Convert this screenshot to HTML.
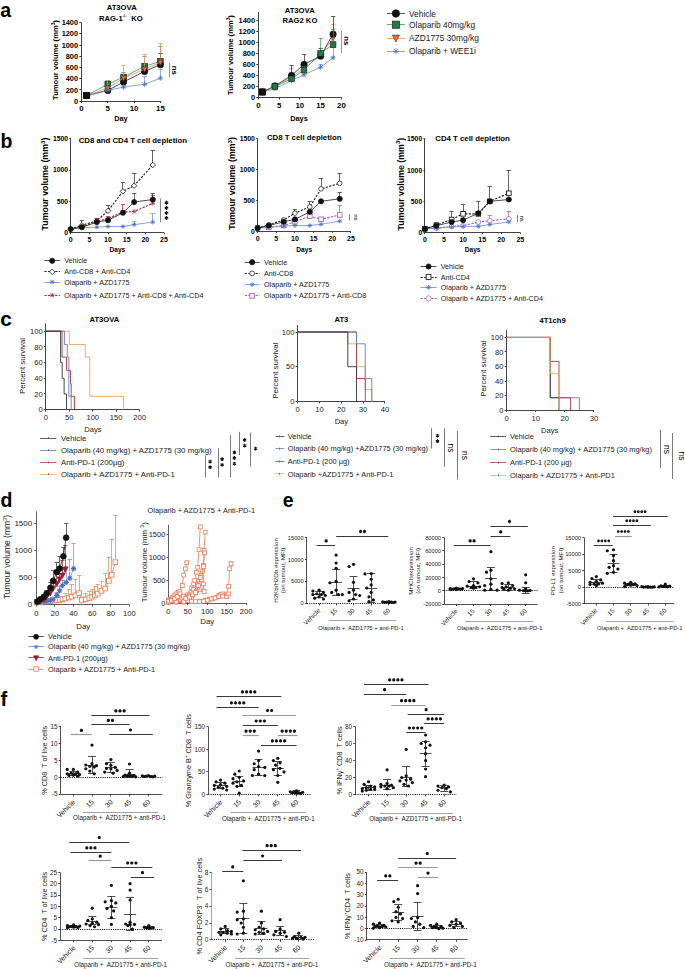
<!DOCTYPE html>
<html><head><meta charset="utf-8"><style>
html,body{margin:0;padding:0;background:#fff;}
svg{display:block;font-family:"Liberation Sans",sans-serif;}
</style></head><body>
<svg width="685" height="969" viewBox="0 0 685 969">
<rect width="685" height="969" fill="#fff"/>
<text x="0.3" y="16.8" font-size="19.5" font-weight="bold">a</text>
<text x="0.5" y="147.6" font-size="19.5" font-weight="bold">b</text>
<text x="0.3" y="326.1" font-size="20.8" font-weight="bold">c</text>
<text x="0.4" y="506.6" font-size="19.5" font-weight="bold">d</text>
<text x="282.8" y="506.7" font-size="19.5" font-weight="bold">e</text>
<text x="0.6" y="705.8" font-size="20.2" font-weight="bold">f</text>
<text x="121.7" y="10.37" font-size="7.7" font-weight="bold" text-anchor="middle">AT3OVA</text>
<text x="99" y="21.04" font-size="7.6" font-weight="bold">RAG-1</text>
<text x="122.3" y="17" font-size="4.3" font-weight="bold">-/-</text>
<text x="142.8" y="21.07" font-size="7.7" font-weight="bold" text-anchor="end">KO</text>
<text x="57.54" y="60" font-size="7.6" font-weight="bold" text-anchor="middle" transform="rotate(-90 57.54 60)">Tumour volume (mm<tspan font-size="4.8" dy="-2.7">3</tspan><tspan dy="2.7">)</tspan></text>
<line x1="81.5" y1="101.1" x2="81.5" y2="22.6" stroke="#111" stroke-width="0.8"/>
<line x1="79.4" y1="101.5" x2="81.4" y2="101.5" stroke="#111" stroke-width="0.8"/>
<text x="78.1" y="103.76" font-size="7.4" font-weight="bold" text-anchor="end">0</text>
<line x1="79.4" y1="89.5" x2="81.4" y2="89.5" stroke="#111" stroke-width="0.8"/>
<text x="78.1" y="92.55" font-size="7.4" font-weight="bold" text-anchor="end">200</text>
<line x1="79.4" y1="78.5" x2="81.4" y2="78.5" stroke="#111" stroke-width="0.8"/>
<text x="78.1" y="81.34" font-size="7.4" font-weight="bold" text-anchor="end">400</text>
<line x1="79.4" y1="67.5" x2="81.4" y2="67.5" stroke="#111" stroke-width="0.8"/>
<text x="78.1" y="70.12" font-size="7.4" font-weight="bold" text-anchor="end">600</text>
<line x1="79.4" y1="56.5" x2="81.4" y2="56.5" stroke="#111" stroke-width="0.8"/>
<text x="78.1" y="58.91" font-size="7.4" font-weight="bold" text-anchor="end">800</text>
<line x1="79.4" y1="45.5" x2="81.4" y2="45.5" stroke="#111" stroke-width="0.8"/>
<text x="78.1" y="47.69" font-size="7.4" font-weight="bold" text-anchor="end">1000</text>
<line x1="79.4" y1="33.5" x2="81.4" y2="33.5" stroke="#111" stroke-width="0.8"/>
<text x="78.1" y="36.48" font-size="7.4" font-weight="bold" text-anchor="end">1200</text>
<line x1="79.4" y1="22.5" x2="81.4" y2="22.5" stroke="#111" stroke-width="0.8"/>
<text x="78.1" y="25.26" font-size="7.4" font-weight="bold" text-anchor="end">1400</text>
<line x1="81.4" y1="101.5" x2="160.4" y2="101.5" stroke="#111" stroke-width="0.8"/>
<line x1="81.5" y1="101.1" x2="81.5" y2="103.1" stroke="#111" stroke-width="0.8"/>
<text x="81.4" y="111.12" font-size="7.8" font-weight="bold" text-anchor="middle">0</text>
<line x1="107.5" y1="101.1" x2="107.5" y2="103.1" stroke="#111" stroke-width="0.8"/>
<text x="107.73" y="111.12" font-size="7.8" font-weight="bold" text-anchor="middle">5</text>
<line x1="134.5" y1="101.1" x2="134.5" y2="103.1" stroke="#111" stroke-width="0.8"/>
<text x="134.07" y="111.12" font-size="7.8" font-weight="bold" text-anchor="middle">10</text>
<line x1="160.5" y1="101.1" x2="160.5" y2="103.1" stroke="#111" stroke-width="0.8"/>
<text x="160.4" y="111.12" font-size="7.8" font-weight="bold" text-anchor="middle">15</text>
<text x="121" y="120.53" font-size="7.3" font-weight="bold" text-anchor="middle">Day</text>
<line x1="107.5" y1="84.28" x2="107.5" y2="80.91" stroke="#3c9a62" stroke-width="0.7"/>
<line x1="105.53" y1="80.5" x2="109.93" y2="80.5" stroke="#3c9a62" stroke-width="0.7"/>
<line x1="123.5" y1="76.99" x2="123.5" y2="72.5" stroke="#3c9a62" stroke-width="0.7"/>
<line x1="121.33" y1="72.5" x2="125.73" y2="72.5" stroke="#3c9a62" stroke-width="0.7"/>
<line x1="144.5" y1="66.34" x2="144.5" y2="56.24" stroke="#3c9a62" stroke-width="0.7"/>
<line x1="142.4" y1="56.5" x2="146.8" y2="56.5" stroke="#3c9a62" stroke-width="0.7"/>
<line x1="160.5" y1="61.29" x2="160.5" y2="46.15" stroke="#3c9a62" stroke-width="0.7"/>
<line x1="158.2" y1="46.5" x2="162.6" y2="46.5" stroke="#3c9a62" stroke-width="0.7"/>
<polyline points="86.67,95.49 107.73,84.28 123.53,76.99 144.6,66.34 160.4,61.29" fill="none" stroke="#3c9a62" stroke-width="0.8"/>
<rect x="83.87" y="92.69" width="5.6" height="5.6" fill="#1a7d45" stroke="#222" stroke-width="0.7"/>
<rect x="104.93" y="81.48" width="5.6" height="5.6" fill="#1a7d45" stroke="#222" stroke-width="0.7"/>
<rect x="120.73" y="74.19" width="5.6" height="5.6" fill="#1a7d45" stroke="#222" stroke-width="0.7"/>
<rect x="141.8" y="63.54" width="5.6" height="5.6" fill="#1a7d45" stroke="#222" stroke-width="0.7"/>
<rect x="157.6" y="58.49" width="5.6" height="5.6" fill="#1a7d45" stroke="#222" stroke-width="0.7"/>
<line x1="107.5" y1="90.45" x2="107.5" y2="88.2" stroke="#222" stroke-width="0.7"/>
<line x1="105.53" y1="88.5" x2="109.93" y2="88.5" stroke="#222" stroke-width="0.7"/>
<line x1="123.5" y1="82.04" x2="123.5" y2="77.55" stroke="#222" stroke-width="0.7"/>
<line x1="121.33" y1="77.5" x2="125.73" y2="77.5" stroke="#222" stroke-width="0.7"/>
<line x1="144.5" y1="71.38" x2="144.5" y2="66.34" stroke="#222" stroke-width="0.7"/>
<line x1="142.4" y1="66.5" x2="146.8" y2="66.5" stroke="#222" stroke-width="0.7"/>
<line x1="160.5" y1="64.65" x2="160.5" y2="53.44" stroke="#222" stroke-width="0.7"/>
<line x1="158.2" y1="53.5" x2="162.6" y2="53.5" stroke="#222" stroke-width="0.7"/>
<polyline points="86.67,95.49 107.73,90.45 123.53,82.04 144.6,71.38 160.4,64.65" fill="none" stroke="#222" stroke-width="0.8"/>
<circle cx="86.67" cy="95.49" r="3.2" fill="#111" stroke="#111" stroke-width="0.7"/>
<circle cx="107.73" cy="90.45" r="3.2" fill="#111" stroke="#111" stroke-width="0.7"/>
<circle cx="123.53" cy="82.04" r="3.2" fill="#111" stroke="#111" stroke-width="0.7"/>
<circle cx="144.6" cy="71.38" r="3.2" fill="#111" stroke="#111" stroke-width="0.7"/>
<circle cx="160.4" cy="64.65" r="3.2" fill="#111" stroke="#111" stroke-width="0.7"/>
<line x1="107.5" y1="88.2" x2="107.5" y2="80.35" stroke="#f38a5c" stroke-width="0.7"/>
<line x1="105.53" y1="80.5" x2="109.93" y2="80.5" stroke="#f38a5c" stroke-width="0.7"/>
<line x1="123.5" y1="78.11" x2="123.5" y2="65.21" stroke="#f38a5c" stroke-width="0.7"/>
<line x1="121.33" y1="65.5" x2="125.73" y2="65.5" stroke="#f38a5c" stroke-width="0.7"/>
<line x1="144.5" y1="69.14" x2="144.5" y2="54.56" stroke="#f38a5c" stroke-width="0.7"/>
<line x1="142.4" y1="54.5" x2="146.8" y2="54.5" stroke="#f38a5c" stroke-width="0.7"/>
<line x1="160.5" y1="62.41" x2="160.5" y2="43.35" stroke="#f38a5c" stroke-width="0.7"/>
<line x1="158.2" y1="43.5" x2="162.6" y2="43.5" stroke="#f38a5c" stroke-width="0.7"/>
<polyline points="86.67,95.49 107.73,88.2 123.53,78.11 144.6,69.14 160.4,62.41" fill="none" stroke="#f38a5c" stroke-width="0.8"/>
<polygon points="83.87,93.25 89.47,93.25 86.67,98.57" fill="#f06a2c" stroke="#333" stroke-width="0.6"/>
<polygon points="104.93,85.96 110.53,85.96 107.73,91.28" fill="#f06a2c" stroke="#333" stroke-width="0.6"/>
<polygon points="120.73,75.87 126.33,75.87 123.53,81.19" fill="#f06a2c" stroke="#333" stroke-width="0.6"/>
<polygon points="141.8,66.9 147.4,66.9 144.6,72.22" fill="#f06a2c" stroke="#333" stroke-width="0.6"/>
<polygon points="157.6,60.17 163.2,60.17 160.4,65.49" fill="#f06a2c" stroke="#333" stroke-width="0.6"/>
<line x1="107.5" y1="90.45" x2="107.5" y2="89.89" stroke="#6b8ad0" stroke-width="0.7"/>
<line x1="105.53" y1="89.5" x2="109.93" y2="89.5" stroke="#6b8ad0" stroke-width="0.7"/>
<line x1="123.5" y1="87.08" x2="123.5" y2="85.4" stroke="#6b8ad0" stroke-width="0.7"/>
<line x1="121.33" y1="85.5" x2="125.73" y2="85.5" stroke="#6b8ad0" stroke-width="0.7"/>
<line x1="144.5" y1="84.28" x2="144.5" y2="76.43" stroke="#6b8ad0" stroke-width="0.7"/>
<line x1="142.4" y1="76.5" x2="146.8" y2="76.5" stroke="#6b8ad0" stroke-width="0.7"/>
<line x1="160.5" y1="78.11" x2="160.5" y2="69.14" stroke="#6b8ad0" stroke-width="0.7"/>
<line x1="158.2" y1="69.5" x2="162.6" y2="69.5" stroke="#6b8ad0" stroke-width="0.7"/>
<polyline points="86.67,95.49 107.73,90.45 123.53,87.08 144.6,84.28 160.4,78.11" fill="none" stroke="#6b8ad0" stroke-width="0.8"/>
<path d="M84.07 95.49H89.27M86.67 92.89V98.09M84.85 93.67L88.49 97.31M84.85 97.31L88.49 93.67" stroke="#4a6fc4" stroke-width="0.8" fill="none"/>
<path d="M105.13 90.45H110.33M107.73 87.85V93.05M105.91 88.63L109.55 92.27M105.91 92.27L109.55 88.63" stroke="#4a6fc4" stroke-width="0.8" fill="none"/>
<path d="M120.93 87.08H126.13M123.53 84.48V89.68M121.71 85.26L125.35 88.9M121.71 88.9L125.35 85.26" stroke="#4a6fc4" stroke-width="0.8" fill="none"/>
<path d="M142 84.28H147.2M144.6 81.68V86.88M142.78 82.46L146.42 86.1M142.78 86.1L146.42 82.46" stroke="#4a6fc4" stroke-width="0.8" fill="none"/>
<path d="M157.8 78.11H163M160.4 75.51V80.71M158.58 76.29L162.22 79.93M158.58 79.93L162.22 76.29" stroke="#4a6fc4" stroke-width="0.8" fill="none"/>
<rect x="83.57" y="92.39" width="6.2" height="6.2" fill="#111" stroke="#111" stroke-width="0.7"/>
<line x1="169.5" y1="63" x2="169.5" y2="77.4" stroke="#999" stroke-width="1.1"/>
<text x="171.65" y="70.4" font-size="7.8" font-weight="bold" text-anchor="middle" transform="rotate(90 171.65 70.4)">ns</text>
<text x="299.7" y="13.17" font-size="7.7" font-weight="bold" text-anchor="middle">AT3OVA</text>
<text x="299.9" y="23.27" font-size="7.7" font-weight="bold" text-anchor="middle">RAG2 KO</text>
<text x="232.54" y="55" font-size="7.6" font-weight="bold" text-anchor="middle" transform="rotate(-90 232.54 55)">Tumour volume (mm<tspan font-size="4.8" dy="-2.7">3</tspan><tspan dy="2.7">)</tspan></text>
<line x1="258.5" y1="97.5" x2="258.5" y2="12.03" stroke="#111" stroke-width="0.8"/>
<line x1="256.3" y1="97.5" x2="258.3" y2="97.5" stroke="#111" stroke-width="0.8"/>
<text x="255" y="100.16" font-size="7.4" font-weight="bold" text-anchor="end">0</text>
<line x1="256.3" y1="86.5" x2="258.3" y2="86.5" stroke="#111" stroke-width="0.8"/>
<text x="255" y="89.14" font-size="7.4" font-weight="bold" text-anchor="end">200</text>
<line x1="256.3" y1="75.5" x2="258.3" y2="75.5" stroke="#111" stroke-width="0.8"/>
<text x="255" y="78.11" font-size="7.4" font-weight="bold" text-anchor="end">400</text>
<line x1="256.3" y1="64.5" x2="258.3" y2="64.5" stroke="#111" stroke-width="0.8"/>
<text x="255" y="67.08" font-size="7.4" font-weight="bold" text-anchor="end">600</text>
<line x1="256.3" y1="53.5" x2="258.3" y2="53.5" stroke="#111" stroke-width="0.8"/>
<text x="255" y="56.05" font-size="7.4" font-weight="bold" text-anchor="end">800</text>
<line x1="256.3" y1="42.5" x2="258.3" y2="42.5" stroke="#111" stroke-width="0.8"/>
<text x="255" y="45.02" font-size="7.4" font-weight="bold" text-anchor="end">1000</text>
<line x1="256.3" y1="31.5" x2="258.3" y2="31.5" stroke="#111" stroke-width="0.8"/>
<text x="255" y="33.99" font-size="7.4" font-weight="bold" text-anchor="end">1200</text>
<line x1="256.3" y1="20.5" x2="258.3" y2="20.5" stroke="#111" stroke-width="0.8"/>
<text x="255" y="22.96" font-size="7.4" font-weight="bold" text-anchor="end">1400</text>
<line x1="258.3" y1="97.5" x2="341.4" y2="97.5" stroke="#111" stroke-width="0.8"/>
<line x1="258.5" y1="97.5" x2="258.5" y2="99.5" stroke="#111" stroke-width="0.8"/>
<text x="258.3" y="107.92" font-size="7.8" font-weight="bold" text-anchor="middle">0</text>
<line x1="279.5" y1="97.5" x2="279.5" y2="99.5" stroke="#111" stroke-width="0.8"/>
<text x="279.07" y="107.92" font-size="7.8" font-weight="bold" text-anchor="middle">5</text>
<line x1="299.5" y1="97.5" x2="299.5" y2="99.5" stroke="#111" stroke-width="0.8"/>
<text x="299.85" y="107.92" font-size="7.8" font-weight="bold" text-anchor="middle">10</text>
<line x1="320.5" y1="97.5" x2="320.5" y2="99.5" stroke="#111" stroke-width="0.8"/>
<text x="320.62" y="107.92" font-size="7.8" font-weight="bold" text-anchor="middle">15</text>
<line x1="341.5" y1="97.5" x2="341.5" y2="99.5" stroke="#111" stroke-width="0.8"/>
<text x="341.4" y="107.92" font-size="7.8" font-weight="bold" text-anchor="middle">20</text>
<text x="299" y="120.53" font-size="7.3" font-weight="bold" text-anchor="middle">Days</text>
<line x1="274.5" y1="88.68" x2="274.5" y2="87.57" stroke="#6b8ad0" stroke-width="0.7"/>
<line x1="272.72" y1="87.5" x2="277.12" y2="87.5" stroke="#6b8ad0" stroke-width="0.7"/>
<line x1="291.5" y1="80.41" x2="291.5" y2="79.3" stroke="#6b8ad0" stroke-width="0.7"/>
<line x1="289.34" y1="79.5" x2="293.74" y2="79.5" stroke="#6b8ad0" stroke-width="0.7"/>
<line x1="304.5" y1="74.89" x2="304.5" y2="73.24" stroke="#6b8ad0" stroke-width="0.7"/>
<line x1="301.81" y1="73.5" x2="306.2" y2="73.5" stroke="#6b8ad0" stroke-width="0.7"/>
<line x1="320.5" y1="67.17" x2="320.5" y2="64.41" stroke="#6b8ad0" stroke-width="0.7"/>
<line x1="318.43" y1="64.5" x2="322.82" y2="64.5" stroke="#6b8ad0" stroke-width="0.7"/>
<line x1="333.5" y1="57.8" x2="333.5" y2="47.87" stroke="#6b8ad0" stroke-width="0.7"/>
<line x1="330.89" y1="47.5" x2="335.29" y2="47.5" stroke="#6b8ad0" stroke-width="0.7"/>
<polyline points="262.45,91.99 274.92,88.68 291.54,80.41 304,74.89 320.62,67.17 333.09,57.8" fill="none" stroke="#6b8ad0" stroke-width="0.8"/>
<path d="M259.85 91.99H265.06M262.45 89.39V94.59M260.63 90.17L264.27 93.81M260.63 93.81L264.27 90.17" stroke="#4a6fc4" stroke-width="0.8" fill="none"/>
<path d="M272.32 88.68H277.52M274.92 86.08V91.28M273.1 86.86L276.74 90.5M273.1 90.5L276.74 86.86" stroke="#4a6fc4" stroke-width="0.8" fill="none"/>
<path d="M288.94 80.41H294.14M291.54 77.81V83.01M289.72 78.59L293.36 82.23M289.72 82.23L293.36 78.59" stroke="#4a6fc4" stroke-width="0.8" fill="none"/>
<path d="M301.4 74.89H306.61M304 72.29V77.49M302.19 73.07L305.82 76.71M302.19 76.71L305.82 73.07" stroke="#4a6fc4" stroke-width="0.8" fill="none"/>
<path d="M318.02 67.17H323.23M320.62 64.57V69.77M318.81 65.35L322.44 68.99M318.81 68.99L322.44 65.35" stroke="#4a6fc4" stroke-width="0.8" fill="none"/>
<path d="M330.49 57.8H335.69M333.09 55.2V60.4M331.27 55.98L334.91 59.62M331.27 59.62L334.91 55.98" stroke="#4a6fc4" stroke-width="0.8" fill="none"/>
<line x1="274.5" y1="86.47" x2="274.5" y2="84.82" stroke="#f38a5c" stroke-width="0.7"/>
<line x1="272.72" y1="84.5" x2="277.12" y2="84.5" stroke="#f38a5c" stroke-width="0.7"/>
<line x1="291.5" y1="77.1" x2="291.5" y2="68.27" stroke="#f38a5c" stroke-width="0.7"/>
<line x1="289.34" y1="68.5" x2="293.74" y2="68.5" stroke="#f38a5c" stroke-width="0.7"/>
<line x1="304.5" y1="68.27" x2="304.5" y2="64.41" stroke="#f38a5c" stroke-width="0.7"/>
<line x1="301.81" y1="64.5" x2="306.2" y2="64.5" stroke="#f38a5c" stroke-width="0.7"/>
<line x1="320.5" y1="55.59" x2="320.5" y2="52.28" stroke="#f38a5c" stroke-width="0.7"/>
<line x1="318.43" y1="52.5" x2="322.82" y2="52.5" stroke="#f38a5c" stroke-width="0.7"/>
<line x1="333.5" y1="37.95" x2="333.5" y2="24.71" stroke="#f38a5c" stroke-width="0.7"/>
<line x1="330.89" y1="24.5" x2="335.29" y2="24.5" stroke="#f38a5c" stroke-width="0.7"/>
<polyline points="262.45,91.99 274.92,86.47 291.54,77.1 304,68.27 320.62,55.59 333.09,37.95" fill="none" stroke="#f38a5c" stroke-width="0.8"/>
<polygon points="259.65,89.75 265.25,89.75 262.45,95.07" fill="#f06a2c" stroke="#333" stroke-width="0.6"/>
<polygon points="272.12,84.23 277.72,84.23 274.92,89.55" fill="#f06a2c" stroke="#333" stroke-width="0.6"/>
<polygon points="288.74,74.86 294.34,74.86 291.54,80.18" fill="#f06a2c" stroke="#333" stroke-width="0.6"/>
<polygon points="301.2,66.03 306.81,66.03 304,71.35" fill="#f06a2c" stroke="#333" stroke-width="0.6"/>
<polygon points="317.82,53.35 323.43,53.35 320.62,58.67" fill="#f06a2c" stroke="#333" stroke-width="0.6"/>
<polygon points="330.29,35.71 335.89,35.71 333.09,41.03" fill="#f06a2c" stroke="#333" stroke-width="0.6"/>
<line x1="274.5" y1="85.92" x2="274.5" y2="84.82" stroke="#222" stroke-width="0.7"/>
<line x1="272.72" y1="84.5" x2="277.12" y2="84.5" stroke="#222" stroke-width="0.7"/>
<line x1="291.5" y1="75.44" x2="291.5" y2="65.52" stroke="#222" stroke-width="0.7"/>
<line x1="289.34" y1="65.5" x2="293.74" y2="65.5" stroke="#222" stroke-width="0.7"/>
<line x1="304.5" y1="64.41" x2="304.5" y2="54.49" stroke="#222" stroke-width="0.7"/>
<line x1="301.81" y1="54.5" x2="306.2" y2="54.5" stroke="#222" stroke-width="0.7"/>
<line x1="320.5" y1="56.14" x2="320.5" y2="48.42" stroke="#222" stroke-width="0.7"/>
<line x1="318.43" y1="48.5" x2="322.82" y2="48.5" stroke="#222" stroke-width="0.7"/>
<line x1="333.5" y1="34.09" x2="333.5" y2="16.44" stroke="#222" stroke-width="0.7"/>
<line x1="330.89" y1="16.5" x2="335.29" y2="16.5" stroke="#222" stroke-width="0.7"/>
<polyline points="262.45,91.99 274.92,85.92 291.54,75.44 304,64.41 320.62,56.14 333.09,34.09" fill="none" stroke="#222" stroke-width="0.8"/>
<circle cx="262.45" cy="91.99" r="3.2" fill="#111" stroke="#111" stroke-width="0.7"/>
<circle cx="274.92" cy="85.92" r="3.2" fill="#111" stroke="#111" stroke-width="0.7"/>
<circle cx="291.54" cy="75.44" r="3.2" fill="#111" stroke="#111" stroke-width="0.7"/>
<circle cx="304" cy="64.41" r="3.2" fill="#111" stroke="#111" stroke-width="0.7"/>
<circle cx="320.62" cy="56.14" r="3.2" fill="#111" stroke="#111" stroke-width="0.7"/>
<circle cx="333.09" cy="34.09" r="3.2" fill="#111" stroke="#111" stroke-width="0.7"/>
<line x1="274.5" y1="86.47" x2="274.5" y2="85.37" stroke="#3c9a62" stroke-width="0.7"/>
<line x1="272.72" y1="85.5" x2="277.12" y2="85.5" stroke="#3c9a62" stroke-width="0.7"/>
<line x1="291.5" y1="78.75" x2="291.5" y2="76.55" stroke="#3c9a62" stroke-width="0.7"/>
<line x1="289.34" y1="76.5" x2="293.74" y2="76.5" stroke="#3c9a62" stroke-width="0.7"/>
<line x1="304.5" y1="69.93" x2="304.5" y2="66.62" stroke="#3c9a62" stroke-width="0.7"/>
<line x1="301.81" y1="66.5" x2="306.2" y2="66.5" stroke="#3c9a62" stroke-width="0.7"/>
<line x1="320.5" y1="53.39" x2="320.5" y2="38.5" stroke="#3c9a62" stroke-width="0.7"/>
<line x1="318.43" y1="38.5" x2="322.82" y2="38.5" stroke="#3c9a62" stroke-width="0.7"/>
<line x1="333.5" y1="44.56" x2="333.5" y2="29.67" stroke="#3c9a62" stroke-width="0.7"/>
<line x1="330.89" y1="29.5" x2="335.29" y2="29.5" stroke="#3c9a62" stroke-width="0.7"/>
<polyline points="262.45,91.99 274.92,86.47 291.54,78.75 304,69.93 320.62,53.39 333.09,44.56" fill="none" stroke="#3c9a62" stroke-width="0.8"/>
<rect x="259.65" y="89.19" width="5.6" height="5.6" fill="#1a7d45" stroke="#222" stroke-width="0.7"/>
<rect x="272.12" y="83.67" width="5.6" height="5.6" fill="#1a7d45" stroke="#222" stroke-width="0.7"/>
<rect x="288.74" y="75.95" width="5.6" height="5.6" fill="#1a7d45" stroke="#222" stroke-width="0.7"/>
<rect x="301.2" y="67.13" width="5.6" height="5.6" fill="#1a7d45" stroke="#222" stroke-width="0.7"/>
<rect x="317.82" y="50.59" width="5.6" height="5.6" fill="#1a7d45" stroke="#222" stroke-width="0.7"/>
<rect x="330.29" y="41.76" width="5.6" height="5.6" fill="#1a7d45" stroke="#222" stroke-width="0.7"/>
<rect x="259.35" y="88.89" width="6.2" height="6.2" fill="#111" stroke="#111" stroke-width="0.7"/>
<line x1="341.5" y1="31" x2="341.5" y2="53.3" stroke="#999" stroke-width="1.1"/>
<text x="343.85" y="40.9" font-size="7.8" font-weight="bold" text-anchor="middle" transform="rotate(90 343.85 40.9)">ns</text>
<line x1="387" y1="13.5" x2="404.8" y2="13.5" stroke="#333" stroke-width="0.8"/>
<circle cx="395.9" cy="13.5" r="3.7" fill="#111" stroke="#111" stroke-width="0.7"/>
<text x="409" y="16.52" font-size="8.4" fill="#222">Vehicle</text>
<line x1="387" y1="24.5" x2="404.8" y2="24.5" stroke="#3c9a62" stroke-width="0.8"/>
<rect x="392.3" y="21.1" width="7.2" height="7.2" fill="#1a7d45" stroke="#222" stroke-width="0.7"/>
<text x="409" y="27.72" font-size="8.4" fill="#222">Olaparib 40mg/kg</text>
<line x1="387" y1="38.5" x2="404.8" y2="38.5" stroke="#f38a5c" stroke-width="0.8"/>
<polygon points="392.3,35.12 399.5,35.12 395.9,41.96" fill="#f06a2c" stroke="#333" stroke-width="0.6"/>
<text x="409" y="41.02" font-size="8.4" fill="#222">AZD1775 30mg/kg</text>
<line x1="387" y1="51.5" x2="404.8" y2="51.5" stroke="#6b8ad0" stroke-width="0.8"/>
<path d="M392.9 51.3H398.9M395.9 48.3V54.3M393.8 49.2L398 53.4M393.8 53.4L398 49.2" stroke="#4a6fc4" stroke-width="0.8" fill="none"/>
<text x="409" y="54.32" font-size="8.4" fill="#222">Olaparib + WEE1i</text>
<text x="132.8" y="143.01" font-size="7.8" font-weight="bold" text-anchor="middle">CD8 and CD4 T cell depletion</text>
<text x="48.47" y="184" font-size="8.8" font-weight="bold" text-anchor="middle" transform="rotate(-90 48.47 184)">Tumour volume (mm<tspan font-size="6.2" dy="-3.4">3</tspan><tspan dy="3.4">)</tspan></text>
<line x1="70.5" y1="232.8" x2="70.5" y2="138.6" stroke="#111" stroke-width="0.8"/>
<line x1="69.2" y1="232.5" x2="70.7" y2="232.5" stroke="#111" stroke-width="0.8"/>
<text x="68" y="235.25" font-size="6.8" font-weight="bold" text-anchor="end">0</text>
<line x1="69.2" y1="201.5" x2="70.7" y2="201.5" stroke="#111" stroke-width="0.8"/>
<text x="68" y="203.85" font-size="6.8" font-weight="bold" text-anchor="end">500</text>
<line x1="69.2" y1="170.5" x2="70.7" y2="170.5" stroke="#111" stroke-width="0.8"/>
<text x="68" y="172.45" font-size="6.8" font-weight="bold" text-anchor="end">1000</text>
<line x1="69.2" y1="138.5" x2="70.7" y2="138.5" stroke="#111" stroke-width="0.8"/>
<text x="68" y="141.05" font-size="6.8" font-weight="bold" text-anchor="end">1500</text>
<line x1="70.7" y1="232.5" x2="164" y2="232.5" stroke="#111" stroke-width="0.8"/>
<line x1="70.5" y1="232.8" x2="70.5" y2="234.3" stroke="#111" stroke-width="0.8"/>
<text x="70.7" y="242.34" font-size="7.0" font-weight="bold" text-anchor="middle">0</text>
<line x1="89.5" y1="232.8" x2="89.5" y2="234.3" stroke="#111" stroke-width="0.8"/>
<text x="89.36" y="242.34" font-size="7.0" font-weight="bold" text-anchor="middle">5</text>
<line x1="108.5" y1="232.8" x2="108.5" y2="234.3" stroke="#111" stroke-width="0.8"/>
<text x="108.02" y="242.34" font-size="7.0" font-weight="bold" text-anchor="middle">10</text>
<line x1="126.5" y1="232.8" x2="126.5" y2="234.3" stroke="#111" stroke-width="0.8"/>
<text x="126.68" y="242.34" font-size="7.0" font-weight="bold" text-anchor="middle">15</text>
<line x1="145.5" y1="232.8" x2="145.5" y2="234.3" stroke="#111" stroke-width="0.8"/>
<text x="145.34" y="242.34" font-size="7.0" font-weight="bold" text-anchor="middle">20</text>
<line x1="164.5" y1="232.8" x2="164.5" y2="234.3" stroke="#111" stroke-width="0.8"/>
<text x="164" y="242.34" font-size="7.0" font-weight="bold" text-anchor="middle">25</text>
<text x="117.35" y="251.68" font-size="6.6" font-weight="bold" text-anchor="middle">Days</text>
<line x1="81.5" y1="225.26" x2="81.5" y2="220.87" stroke="#222" stroke-width="0.7"/>
<line x1="79.7" y1="220.5" x2="84.1" y2="220.5" stroke="#222" stroke-width="0.7"/>
<line x1="96.5" y1="220.87" x2="96.5" y2="218.36" stroke="#222" stroke-width="0.7"/>
<line x1="94.62" y1="218.5" x2="99.02" y2="218.5" stroke="#222" stroke-width="0.7"/>
<line x1="108.5" y1="210.82" x2="108.5" y2="205.17" stroke="#222" stroke-width="0.7"/>
<line x1="105.82" y1="205.5" x2="110.22" y2="205.5" stroke="#222" stroke-width="0.7"/>
<line x1="122.5" y1="191.35" x2="122.5" y2="182.56" stroke="#222" stroke-width="0.7"/>
<line x1="120.75" y1="182.5" x2="125.15" y2="182.5" stroke="#222" stroke-width="0.7"/>
<line x1="134.5" y1="185.7" x2="134.5" y2="173.14" stroke="#222" stroke-width="0.7"/>
<line x1="131.94" y1="173.5" x2="136.34" y2="173.5" stroke="#222" stroke-width="0.7"/>
<line x1="152.5" y1="164.98" x2="152.5" y2="150.53" stroke="#222" stroke-width="0.7"/>
<line x1="150.6" y1="150.5" x2="155" y2="150.5" stroke="#222" stroke-width="0.7"/>
<polyline points="70.7,229.03 81.9,225.26 96.82,220.87 108.02,210.82 122.95,191.35 134.14,185.7 152.8,164.98" fill="none" stroke="#222" stroke-width="1.15" stroke-dasharray="2.2,1.4"/>
<polygon points="70.7,226.28 73.45,229.03 70.7,231.78 67.95,229.03" fill="#fff" stroke="#111" stroke-width="0.8"/>
<polygon points="81.9,222.51 84.65,225.26 81.9,228.01 79.15,225.26" fill="#fff" stroke="#111" stroke-width="0.8"/>
<polygon points="96.82,218.12 99.57,220.87 96.82,223.62 94.07,220.87" fill="#fff" stroke="#111" stroke-width="0.8"/>
<polygon points="108.02,208.07 110.77,210.82 108.02,213.57 105.27,210.82" fill="#fff" stroke="#111" stroke-width="0.8"/>
<polygon points="122.95,188.6 125.7,191.35 122.95,194.1 120.2,191.35" fill="#fff" stroke="#111" stroke-width="0.8"/>
<polygon points="134.14,182.95 136.89,185.7 134.14,188.45 131.39,185.7" fill="#fff" stroke="#111" stroke-width="0.8"/>
<polygon points="152.8,162.23 155.55,164.98 152.8,167.73 150.05,164.98" fill="#fff" stroke="#111" stroke-width="0.8"/>
<line x1="96.5" y1="221.5" x2="96.5" y2="218.36" stroke="#b5283a" stroke-width="0.7"/>
<line x1="94.62" y1="218.5" x2="99.02" y2="218.5" stroke="#b5283a" stroke-width="0.7"/>
<line x1="108.5" y1="218.36" x2="108.5" y2="216.47" stroke="#b5283a" stroke-width="0.7"/>
<line x1="105.82" y1="216.5" x2="110.22" y2="216.5" stroke="#b5283a" stroke-width="0.7"/>
<line x1="122.5" y1="212.08" x2="122.5" y2="204.54" stroke="#b5283a" stroke-width="0.7"/>
<line x1="120.75" y1="204.5" x2="125.15" y2="204.5" stroke="#b5283a" stroke-width="0.7"/>
<line x1="152.5" y1="203.28" x2="152.5" y2="195.12" stroke="#b5283a" stroke-width="0.7"/>
<line x1="150.6" y1="195.5" x2="155" y2="195.5" stroke="#b5283a" stroke-width="0.7"/>
<polyline points="70.7,229.03 81.9,227.15 96.82,221.5 108.02,218.36 122.95,212.08 134.14,211.45 152.8,203.28" fill="none" stroke="#b5283a" stroke-width="1.15" stroke-dasharray="2.2,1.4"/>
<path d="M68.4 229.03H73M70.7 226.73V231.33M69.09 227.42L72.31 230.64M69.09 230.64L72.31 227.42" stroke="#b5283a" stroke-width="0.8" fill="none"/>
<path d="M79.6 227.15H84.2M81.9 224.85V229.45M80.29 225.54L83.51 228.76M80.29 228.76L83.51 225.54" stroke="#b5283a" stroke-width="0.8" fill="none"/>
<path d="M94.52 221.5H99.12M96.82 219.2V223.8M95.21 219.89L98.43 223.11M95.21 223.11L98.43 219.89" stroke="#b5283a" stroke-width="0.8" fill="none"/>
<path d="M105.72 218.36H110.32M108.02 216.06V220.66M106.41 216.75L109.63 219.97M106.41 219.97L109.63 216.75" stroke="#b5283a" stroke-width="0.8" fill="none"/>
<path d="M120.65 212.08H125.25M122.95 209.78V214.38M121.34 210.47L124.56 213.69M121.34 213.69L124.56 210.47" stroke="#b5283a" stroke-width="0.8" fill="none"/>
<path d="M131.84 211.45H136.44M134.14 209.15V213.75M132.53 209.84L135.75 213.06M132.53 213.06L135.75 209.84" stroke="#b5283a" stroke-width="0.8" fill="none"/>
<path d="M150.5 203.28H155.1M152.8 200.98V205.58M151.19 201.67L154.41 204.89M151.19 204.89L154.41 201.67" stroke="#b5283a" stroke-width="0.8" fill="none"/>
<line x1="134.5" y1="224.64" x2="134.5" y2="221.5" stroke="#6b8ad0" stroke-width="0.7"/>
<line x1="131.94" y1="221.5" x2="136.34" y2="221.5" stroke="#6b8ad0" stroke-width="0.7"/>
<line x1="152.5" y1="222.12" x2="152.5" y2="213.96" stroke="#6b8ad0" stroke-width="0.7"/>
<line x1="150.6" y1="213.5" x2="155" y2="213.5" stroke="#6b8ad0" stroke-width="0.7"/>
<polyline points="70.7,229.03 81.9,227.78 96.82,227.15 108.02,226.52 122.95,226.52 134.14,224.64 152.8,222.12" fill="none" stroke="#6b8ad0" stroke-width="0.8"/>
<path d="M68.4 229.03H73M70.7 226.73V231.33M69.09 227.42L72.31 230.64M69.09 230.64L72.31 227.42" stroke="#4a6fc4" stroke-width="0.8" fill="none"/>
<path d="M79.6 227.78H84.2M81.9 225.48V230.08M80.29 226.17L83.51 229.39M80.29 229.39L83.51 226.17" stroke="#4a6fc4" stroke-width="0.8" fill="none"/>
<path d="M94.52 227.15H99.12M96.82 224.85V229.45M95.21 225.54L98.43 228.76M95.21 228.76L98.43 225.54" stroke="#4a6fc4" stroke-width="0.8" fill="none"/>
<path d="M105.72 226.52H110.32M108.02 224.22V228.82M106.41 224.91L109.63 228.13M106.41 228.13L109.63 224.91" stroke="#4a6fc4" stroke-width="0.8" fill="none"/>
<path d="M120.65 226.52H125.25M122.95 224.22V228.82M121.34 224.91L124.56 228.13M121.34 228.13L124.56 224.91" stroke="#4a6fc4" stroke-width="0.8" fill="none"/>
<path d="M131.84 224.64H136.44M134.14 222.34V226.94M132.53 223.03L135.75 226.25M132.53 226.25L135.75 223.03" stroke="#4a6fc4" stroke-width="0.8" fill="none"/>
<path d="M150.5 222.12H155.1M152.8 219.82V224.42M151.19 220.51L154.41 223.73M151.19 223.73L154.41 220.51" stroke="#4a6fc4" stroke-width="0.8" fill="none"/>
<line x1="134.5" y1="202.03" x2="134.5" y2="193.24" stroke="#222" stroke-width="0.7"/>
<line x1="131.94" y1="193.5" x2="136.34" y2="193.5" stroke="#222" stroke-width="0.7"/>
<line x1="152.5" y1="199.52" x2="152.5" y2="193.86" stroke="#222" stroke-width="0.7"/>
<line x1="150.6" y1="193.5" x2="155" y2="193.5" stroke="#222" stroke-width="0.7"/>
<polyline points="70.7,229.03 81.9,227.15 96.82,222.12 108.02,220.24 122.95,212.7 134.14,202.03 152.8,199.52" fill="none" stroke="#222" stroke-width="0.8"/>
<circle cx="70.7" cy="229.03" r="2.6" fill="#111" stroke="#111" stroke-width="0.7"/>
<circle cx="81.9" cy="227.15" r="2.6" fill="#111" stroke="#111" stroke-width="0.7"/>
<circle cx="96.82" cy="222.12" r="2.6" fill="#111" stroke="#111" stroke-width="0.7"/>
<circle cx="108.02" cy="220.24" r="2.6" fill="#111" stroke="#111" stroke-width="0.7"/>
<circle cx="122.95" cy="212.7" r="2.6" fill="#111" stroke="#111" stroke-width="0.7"/>
<circle cx="134.14" cy="202.03" r="2.6" fill="#111" stroke="#111" stroke-width="0.7"/>
<circle cx="152.8" cy="199.52" r="2.6" fill="#111" stroke="#111" stroke-width="0.7"/>
<line x1="160.5" y1="198.5" x2="160.5" y2="222.4" stroke="#666" stroke-width="0.8"/>
<path d="M166.5 200.8L166.5 204.8M168.23 201.8L164.77 203.8M168.23 203.8L164.77 201.8" stroke="#111" stroke-width="1.1" fill="none"/>
<path d="M166.5 205.9L166.5 209.9M168.23 206.9L164.77 208.9M168.23 208.9L164.77 206.9" stroke="#111" stroke-width="1.1" fill="none"/>
<path d="M166.5 211L166.5 215M168.23 212L164.77 214M168.23 214L164.77 212" stroke="#111" stroke-width="1.1" fill="none"/>
<path d="M166.5 216.1L166.5 220.1M168.23 217.1L164.77 219.1M168.23 219.1L164.77 217.1" stroke="#111" stroke-width="1.1" fill="none"/>
<line x1="44.4" y1="260.5" x2="59.9" y2="260.5" stroke="#222" stroke-width="0.8"/>
<circle cx="52.15" cy="260.8" r="2.6" fill="#111" stroke="#111" stroke-width="0.7"/>
<text x="64.2" y="263.39" font-size="7.2" fill="#222">Vehicle</text>
<line x1="44.4" y1="271.5" x2="59.9" y2="271.5" stroke="#222" stroke-width="1.1" stroke-dasharray="2.2,1.4"/>
<polygon points="52.15,269.05 54.9,271.8 52.15,274.55 49.4,271.8" fill="#fff" stroke="#111" stroke-width="0.8"/>
<text x="64.2" y="274.39" font-size="7.2" fill="#222">Anti-CD8 + Anti-CD4</text>
<line x1="44.4" y1="282.5" x2="59.9" y2="282.5" stroke="#6b8ad0" stroke-width="0.8"/>
<path d="M49.75 282H54.55M52.15 279.6V284.4M50.47 280.32L53.83 283.68M50.47 283.68L53.83 280.32" stroke="#4a6fc4" stroke-width="0.8" fill="none"/>
<text x="64.2" y="284.59" font-size="7.2" fill="#222">Olaparib + AZD1775</text>
<line x1="44.4" y1="295.5" x2="59.9" y2="295.5" stroke="#b5283a" stroke-width="1.1" stroke-dasharray="2.2,1.4"/>
<path d="M49.75 295.2H54.55M52.15 292.8V297.6M50.47 293.52L53.83 296.88M50.47 296.88L53.83 293.52" stroke="#b5283a" stroke-width="0.8" fill="none"/>
<text x="64.2" y="297.79" font-size="7.2" fill="#222">Olaparib + AZD1775 + Anti-CD8 + Anti-CD4</text>
<text x="304.2" y="140.41" font-size="7.8" font-weight="bold" text-anchor="middle">CD8 T cell depletion</text>
<text x="235.47" y="183.45" font-size="8.8" font-weight="bold" text-anchor="middle" transform="rotate(-90 235.47 183.45)">Tumour volume (mm<tspan font-size="6.2" dy="-3.4">3</tspan><tspan dy="3.4">)</tspan></text>
<line x1="257.5" y1="231.7" x2="257.5" y2="138.6" stroke="#111" stroke-width="0.8"/>
<line x1="256.1" y1="231.5" x2="257.6" y2="231.5" stroke="#111" stroke-width="0.8"/>
<text x="254.9" y="234.15" font-size="6.8" font-weight="bold" text-anchor="end">0</text>
<line x1="256.1" y1="200.5" x2="257.6" y2="200.5" stroke="#111" stroke-width="0.8"/>
<text x="254.9" y="203.11" font-size="6.8" font-weight="bold" text-anchor="end">500</text>
<line x1="256.1" y1="169.5" x2="257.6" y2="169.5" stroke="#111" stroke-width="0.8"/>
<text x="254.9" y="172.08" font-size="6.8" font-weight="bold" text-anchor="end">1000</text>
<line x1="256.1" y1="138.5" x2="257.6" y2="138.5" stroke="#111" stroke-width="0.8"/>
<text x="254.9" y="141.05" font-size="6.8" font-weight="bold" text-anchor="end">1500</text>
<line x1="257.6" y1="231.5" x2="350.9" y2="231.5" stroke="#111" stroke-width="0.8"/>
<line x1="257.5" y1="231.7" x2="257.5" y2="233.2" stroke="#111" stroke-width="0.8"/>
<text x="257.6" y="241.24" font-size="7.0" font-weight="bold" text-anchor="middle">0</text>
<line x1="276.5" y1="231.7" x2="276.5" y2="233.2" stroke="#111" stroke-width="0.8"/>
<text x="276.26" y="241.24" font-size="7.0" font-weight="bold" text-anchor="middle">5</text>
<line x1="294.5" y1="231.7" x2="294.5" y2="233.2" stroke="#111" stroke-width="0.8"/>
<text x="294.92" y="241.24" font-size="7.0" font-weight="bold" text-anchor="middle">10</text>
<line x1="313.5" y1="231.7" x2="313.5" y2="233.2" stroke="#111" stroke-width="0.8"/>
<text x="313.58" y="241.24" font-size="7.0" font-weight="bold" text-anchor="middle">15</text>
<line x1="332.5" y1="231.7" x2="332.5" y2="233.2" stroke="#111" stroke-width="0.8"/>
<text x="332.24" y="241.24" font-size="7.0" font-weight="bold" text-anchor="middle">20</text>
<line x1="350.5" y1="231.7" x2="350.5" y2="233.2" stroke="#111" stroke-width="0.8"/>
<text x="350.9" y="241.24" font-size="7.0" font-weight="bold" text-anchor="middle">25</text>
<text x="304.25" y="251.68" font-size="6.6" font-weight="bold" text-anchor="middle">Days</text>
<line x1="294.5" y1="213.08" x2="294.5" y2="209.36" stroke="#222" stroke-width="0.7"/>
<line x1="292.72" y1="209.5" x2="297.12" y2="209.5" stroke="#222" stroke-width="0.7"/>
<line x1="309.5" y1="206.87" x2="309.5" y2="201.91" stroke="#222" stroke-width="0.7"/>
<line x1="307.65" y1="201.5" x2="312.05" y2="201.5" stroke="#222" stroke-width="0.7"/>
<line x1="321.5" y1="188.87" x2="321.5" y2="178.32" stroke="#222" stroke-width="0.7"/>
<line x1="318.84" y1="178.5" x2="323.24" y2="178.5" stroke="#222" stroke-width="0.7"/>
<line x1="339.5" y1="183.29" x2="339.5" y2="173.36" stroke="#222" stroke-width="0.7"/>
<line x1="337.5" y1="173.5" x2="341.9" y2="173.5" stroke="#222" stroke-width="0.7"/>
<polyline points="257.6,227.98 268.8,224.87 283.72,219.91 294.92,213.08 309.85,206.87 321.04,188.87 339.7,183.29" fill="none" stroke="#222" stroke-width="1.15" stroke-dasharray="2.2,1.4"/>
<circle cx="257.6" cy="227.98" r="2.3" fill="#fff" stroke="#111" stroke-width="0.7"/>
<circle cx="268.8" cy="224.87" r="2.3" fill="#fff" stroke="#111" stroke-width="0.7"/>
<circle cx="283.72" cy="219.91" r="2.3" fill="#fff" stroke="#111" stroke-width="0.7"/>
<circle cx="294.92" cy="213.08" r="2.3" fill="#fff" stroke="#111" stroke-width="0.7"/>
<circle cx="309.85" cy="206.87" r="2.3" fill="#fff" stroke="#111" stroke-width="0.7"/>
<circle cx="321.04" cy="188.87" r="2.3" fill="#fff" stroke="#111" stroke-width="0.7"/>
<circle cx="339.7" cy="183.29" r="2.3" fill="#fff" stroke="#111" stroke-width="0.7"/>
<line x1="339.5" y1="214.94" x2="339.5" y2="205.63" stroke="#9a5cc0" stroke-width="0.7"/>
<line x1="337.5" y1="205.5" x2="341.9" y2="205.5" stroke="#9a5cc0" stroke-width="0.7"/>
<polyline points="257.6,227.98 268.8,227.36 283.72,225.49 294.92,221.77 309.85,216.18 321.04,219.29 339.7,214.94" fill="none" stroke="#9a5cc0" stroke-width="1.15" stroke-dasharray="2.2,1.4"/>
<rect x="255.3" y="225.68" width="4.6" height="4.6" fill="#fff" stroke="#9a5cc0" stroke-width="0.85"/>
<rect x="266.5" y="225.06" width="4.6" height="4.6" fill="#fff" stroke="#9a5cc0" stroke-width="0.85"/>
<rect x="281.42" y="223.19" width="4.6" height="4.6" fill="#fff" stroke="#9a5cc0" stroke-width="0.85"/>
<rect x="292.62" y="219.47" width="4.6" height="4.6" fill="#fff" stroke="#9a5cc0" stroke-width="0.85"/>
<rect x="307.55" y="213.88" width="4.6" height="4.6" fill="#fff" stroke="#9a5cc0" stroke-width="0.85"/>
<rect x="318.74" y="216.99" width="4.6" height="4.6" fill="#fff" stroke="#9a5cc0" stroke-width="0.85"/>
<rect x="337.4" y="212.64" width="4.6" height="4.6" fill="#fff" stroke="#9a5cc0" stroke-width="0.85"/>
<polyline points="257.6,227.98 268.8,227.36 283.72,226.11 294.92,225.49 309.85,225.49 321.04,224.25 339.7,221.15" fill="none" stroke="#6b8ad0" stroke-width="0.8"/>
<path d="M255.3 227.98H259.9M257.6 225.68V230.28M255.99 226.37L259.21 229.59M255.99 229.59L259.21 226.37" stroke="#4a6fc4" stroke-width="0.8" fill="none"/>
<path d="M266.5 227.36H271.1M268.8 225.06V229.66M267.19 225.75L270.41 228.97M267.19 228.97L270.41 225.75" stroke="#4a6fc4" stroke-width="0.8" fill="none"/>
<path d="M281.42 226.11H286.02M283.72 223.81V228.41M282.11 224.5L285.33 227.72M282.11 227.72L285.33 224.5" stroke="#4a6fc4" stroke-width="0.8" fill="none"/>
<path d="M292.62 225.49H297.22M294.92 223.19V227.79M293.31 223.88L296.53 227.1M293.31 227.1L296.53 223.88" stroke="#4a6fc4" stroke-width="0.8" fill="none"/>
<path d="M307.55 225.49H312.15M309.85 223.19V227.79M308.24 223.88L311.46 227.1M308.24 227.1L311.46 223.88" stroke="#4a6fc4" stroke-width="0.8" fill="none"/>
<path d="M318.74 224.25H323.34M321.04 221.95V226.55M319.43 222.64L322.65 225.86M319.43 225.86L322.65 222.64" stroke="#4a6fc4" stroke-width="0.8" fill="none"/>
<path d="M337.4 221.15H342M339.7 218.85V223.45M338.09 219.54L341.31 222.76M338.09 222.76L341.31 219.54" stroke="#4a6fc4" stroke-width="0.8" fill="none"/>
<line x1="339.5" y1="198.8" x2="339.5" y2="192.6" stroke="#222" stroke-width="0.7"/>
<line x1="337.5" y1="192.5" x2="341.9" y2="192.5" stroke="#222" stroke-width="0.7"/>
<polyline points="257.6,227.98 268.8,225.49 283.72,221.77 294.92,219.29 309.85,211.84 321.04,201.29 339.7,198.8" fill="none" stroke="#222" stroke-width="0.8"/>
<circle cx="257.6" cy="227.98" r="2.6" fill="#111" stroke="#111" stroke-width="0.7"/>
<circle cx="268.8" cy="225.49" r="2.6" fill="#111" stroke="#111" stroke-width="0.7"/>
<circle cx="283.72" cy="221.77" r="2.6" fill="#111" stroke="#111" stroke-width="0.7"/>
<circle cx="294.92" cy="219.29" r="2.6" fill="#111" stroke="#111" stroke-width="0.7"/>
<circle cx="309.85" cy="211.84" r="2.6" fill="#111" stroke="#111" stroke-width="0.7"/>
<circle cx="321.04" cy="201.29" r="2.6" fill="#111" stroke="#111" stroke-width="0.7"/>
<circle cx="339.7" cy="198.8" r="2.6" fill="#111" stroke="#111" stroke-width="0.7"/>
<line x1="349.5" y1="214.3" x2="349.5" y2="220.5" stroke="#666" stroke-width="0.8"/>
<text x="354" y="217.4" font-size="6" text-anchor="middle" transform="rotate(90 354 217.4)">ns</text>
<line x1="244.7" y1="262.5" x2="259.6" y2="262.5" stroke="#222" stroke-width="0.8"/>
<circle cx="252.15" cy="262.2" r="2.6" fill="#111" stroke="#111" stroke-width="0.7"/>
<text x="264" y="264.79" font-size="7.2" fill="#222">Vehicle</text>
<line x1="244.7" y1="273.5" x2="259.6" y2="273.5" stroke="#222" stroke-width="1.1" stroke-dasharray="2.2,1.4"/>
<circle cx="252.15" cy="273.4" r="2.4" fill="#fff" stroke="#111" stroke-width="0.7"/>
<text x="264" y="275.99" font-size="7.2" fill="#222">Anti-CD8</text>
<line x1="244.7" y1="284.5" x2="259.6" y2="284.5" stroke="#6b8ad0" stroke-width="0.8"/>
<path d="M249.75 284.6H254.55M252.15 282.2V287M250.47 282.92L253.83 286.28M250.47 286.28L253.83 282.92" stroke="#4a6fc4" stroke-width="0.8" fill="none"/>
<text x="264" y="287.19" font-size="7.2" fill="#222">Olaparib + AZD1775</text>
<line x1="244.7" y1="295.5" x2="259.6" y2="295.5" stroke="#9a5cc0" stroke-width="1.1" stroke-dasharray="2.2,1.4"/>
<rect x="249.75" y="293.3" width="4.8" height="4.8" fill="#fff" stroke="#9a5cc0" stroke-width="0.85"/>
<text x="264" y="298.29" font-size="7.2" fill="#222">Olaparib + AZD1775 + Anti-CD8</text>
<text x="472.6" y="140.51" font-size="7.8" font-weight="bold" text-anchor="middle">CD4 T cell depletion</text>
<text x="403.67" y="184.05" font-size="8.8" font-weight="bold" text-anchor="middle" transform="rotate(-90 403.67 184.05)">Tumour volume (mm<tspan font-size="6.2" dy="-3.4">3</tspan><tspan dy="3.4">)</tspan></text>
<line x1="424.5" y1="232.6" x2="424.5" y2="138.9" stroke="#111" stroke-width="0.8"/>
<line x1="423.4" y1="232.5" x2="424.9" y2="232.5" stroke="#111" stroke-width="0.8"/>
<text x="422.2" y="235.05" font-size="6.8" font-weight="bold" text-anchor="end">0</text>
<line x1="423.4" y1="201.5" x2="424.9" y2="201.5" stroke="#111" stroke-width="0.8"/>
<text x="422.2" y="203.81" font-size="6.8" font-weight="bold" text-anchor="end">500</text>
<line x1="423.4" y1="170.5" x2="424.9" y2="170.5" stroke="#111" stroke-width="0.8"/>
<text x="422.2" y="172.58" font-size="6.8" font-weight="bold" text-anchor="end">1000</text>
<line x1="423.4" y1="138.5" x2="424.9" y2="138.5" stroke="#111" stroke-width="0.8"/>
<text x="422.2" y="141.35" font-size="6.8" font-weight="bold" text-anchor="end">1500</text>
<line x1="424.9" y1="232.5" x2="520.3" y2="232.5" stroke="#111" stroke-width="0.8"/>
<line x1="424.5" y1="232.6" x2="424.5" y2="234.1" stroke="#111" stroke-width="0.8"/>
<text x="424.9" y="242.14" font-size="7.0" font-weight="bold" text-anchor="middle">0</text>
<line x1="443.5" y1="232.6" x2="443.5" y2="234.1" stroke="#111" stroke-width="0.8"/>
<text x="443.98" y="242.14" font-size="7.0" font-weight="bold" text-anchor="middle">5</text>
<line x1="463.5" y1="232.6" x2="463.5" y2="234.1" stroke="#111" stroke-width="0.8"/>
<text x="463.06" y="242.14" font-size="7.0" font-weight="bold" text-anchor="middle">10</text>
<line x1="482.5" y1="232.6" x2="482.5" y2="234.1" stroke="#111" stroke-width="0.8"/>
<text x="482.14" y="242.14" font-size="7.0" font-weight="bold" text-anchor="middle">15</text>
<line x1="501.5" y1="232.6" x2="501.5" y2="234.1" stroke="#111" stroke-width="0.8"/>
<text x="501.22" y="242.14" font-size="7.0" font-weight="bold" text-anchor="middle">20</text>
<line x1="520.5" y1="232.6" x2="520.5" y2="234.1" stroke="#111" stroke-width="0.8"/>
<text x="520.3" y="242.14" font-size="7.0" font-weight="bold" text-anchor="middle">25</text>
<text x="472.6" y="251.68" font-size="6.6" font-weight="bold" text-anchor="middle">Days</text>
<line x1="451.5" y1="219.48" x2="451.5" y2="211.36" stroke="#222" stroke-width="0.7"/>
<line x1="449.41" y1="211.5" x2="453.81" y2="211.5" stroke="#222" stroke-width="0.7"/>
<line x1="463.5" y1="213.86" x2="463.5" y2="204.49" stroke="#222" stroke-width="0.7"/>
<line x1="460.86" y1="204.5" x2="465.26" y2="204.5" stroke="#222" stroke-width="0.7"/>
<line x1="478.5" y1="213.86" x2="478.5" y2="201.99" stroke="#222" stroke-width="0.7"/>
<line x1="476.12" y1="201.5" x2="480.52" y2="201.5" stroke="#222" stroke-width="0.7"/>
<line x1="489.5" y1="201.37" x2="489.5" y2="186.37" stroke="#222" stroke-width="0.7"/>
<line x1="487.57" y1="186.5" x2="491.97" y2="186.5" stroke="#222" stroke-width="0.7"/>
<line x1="508.5" y1="193.25" x2="508.5" y2="170.13" stroke="#222" stroke-width="0.7"/>
<line x1="506.65" y1="170.5" x2="511.05" y2="170.5" stroke="#222" stroke-width="0.7"/>
<polyline points="424.9,228.85 436.35,225.1 451.61,219.48 463.06,213.86 478.32,213.86 489.77,201.37 508.85,193.25" fill="none" stroke="#222" stroke-width="1.15" stroke-dasharray="2.2,1.4"/>
<rect x="422.6" y="226.55" width="4.6" height="4.6" fill="#fff" stroke="#111" stroke-width="0.85"/>
<rect x="434.05" y="222.8" width="4.6" height="4.6" fill="#fff" stroke="#111" stroke-width="0.85"/>
<rect x="449.31" y="217.18" width="4.6" height="4.6" fill="#fff" stroke="#111" stroke-width="0.85"/>
<rect x="460.76" y="211.56" width="4.6" height="4.6" fill="#fff" stroke="#111" stroke-width="0.85"/>
<rect x="476.02" y="211.56" width="4.6" height="4.6" fill="#fff" stroke="#111" stroke-width="0.85"/>
<rect x="487.47" y="199.07" width="4.6" height="4.6" fill="#fff" stroke="#111" stroke-width="0.85"/>
<rect x="506.55" y="190.95" width="4.6" height="4.6" fill="#fff" stroke="#111" stroke-width="0.85"/>
<line x1="489.5" y1="220.73" x2="489.5" y2="215.11" stroke="#9a5cc0" stroke-width="0.7"/>
<line x1="487.57" y1="215.5" x2="491.97" y2="215.5" stroke="#9a5cc0" stroke-width="0.7"/>
<line x1="508.5" y1="218.86" x2="508.5" y2="211.36" stroke="#9a5cc0" stroke-width="0.7"/>
<line x1="506.65" y1="211.5" x2="511.05" y2="211.5" stroke="#9a5cc0" stroke-width="0.7"/>
<polyline points="424.9,228.85 436.35,228.23 451.61,226.35 463.06,225.73 478.32,221.98 489.77,220.73 508.85,218.86" fill="none" stroke="#9a5cc0" stroke-width="1.15" stroke-dasharray="2.2,1.4"/>
<circle cx="424.9" cy="228.85" r="2.4" fill="#fff" stroke="#9a5cc0" stroke-width="0.7"/>
<circle cx="436.35" cy="228.23" r="2.4" fill="#fff" stroke="#9a5cc0" stroke-width="0.7"/>
<circle cx="451.61" cy="226.35" r="2.4" fill="#fff" stroke="#9a5cc0" stroke-width="0.7"/>
<circle cx="463.06" cy="225.73" r="2.4" fill="#fff" stroke="#9a5cc0" stroke-width="0.7"/>
<circle cx="478.32" cy="221.98" r="2.4" fill="#fff" stroke="#9a5cc0" stroke-width="0.7"/>
<circle cx="489.77" cy="220.73" r="2.4" fill="#fff" stroke="#9a5cc0" stroke-width="0.7"/>
<circle cx="508.85" cy="218.86" r="2.4" fill="#fff" stroke="#9a5cc0" stroke-width="0.7"/>
<polyline points="424.9,228.85 436.35,228.23 451.61,226.98 463.06,226.35 478.32,226.35 489.77,224.48 508.85,221.98" fill="none" stroke="#6b8ad0" stroke-width="0.8"/>
<path d="M422.6 228.85H427.2M424.9 226.55V231.15M423.29 227.24L426.51 230.46M423.29 230.46L426.51 227.24" stroke="#4a6fc4" stroke-width="0.8" fill="none"/>
<path d="M434.05 228.23H438.65M436.35 225.93V230.53M434.74 226.62L437.96 229.84M434.74 229.84L437.96 226.62" stroke="#4a6fc4" stroke-width="0.8" fill="none"/>
<path d="M449.31 226.98H453.91M451.61 224.68V229.28M450 225.37L453.22 228.59M450 228.59L453.22 225.37" stroke="#4a6fc4" stroke-width="0.8" fill="none"/>
<path d="M460.76 226.35H465.36M463.06 224.05V228.65M461.45 224.74L464.67 227.96M461.45 227.96L464.67 224.74" stroke="#4a6fc4" stroke-width="0.8" fill="none"/>
<path d="M476.02 226.35H480.62M478.32 224.05V228.65M476.71 224.74L479.93 227.96M476.71 227.96L479.93 224.74" stroke="#4a6fc4" stroke-width="0.8" fill="none"/>
<path d="M487.47 224.48H492.07M489.77 222.18V226.78M488.16 222.87L491.38 226.09M488.16 226.09L491.38 222.87" stroke="#4a6fc4" stroke-width="0.8" fill="none"/>
<path d="M506.55 221.98H511.15M508.85 219.68V224.28M507.24 220.37L510.46 223.59M507.24 223.59L510.46 220.37" stroke="#4a6fc4" stroke-width="0.8" fill="none"/>
<polyline points="424.9,228.85 436.35,225.73 451.61,221.98 463.06,220.11 478.32,213.24 489.77,201.37 508.85,199.49" fill="none" stroke="#222" stroke-width="0.8"/>
<circle cx="424.9" cy="228.85" r="2.6" fill="#111" stroke="#111" stroke-width="0.7"/>
<circle cx="436.35" cy="225.73" r="2.6" fill="#111" stroke="#111" stroke-width="0.7"/>
<circle cx="451.61" cy="221.98" r="2.6" fill="#111" stroke="#111" stroke-width="0.7"/>
<circle cx="463.06" cy="220.11" r="2.6" fill="#111" stroke="#111" stroke-width="0.7"/>
<circle cx="478.32" cy="213.24" r="2.6" fill="#111" stroke="#111" stroke-width="0.7"/>
<circle cx="489.77" cy="201.37" r="2.6" fill="#111" stroke="#111" stroke-width="0.7"/>
<circle cx="508.85" cy="199.49" r="2.6" fill="#111" stroke="#111" stroke-width="0.7"/>
<line x1="517.5" y1="215.2" x2="517.5" y2="222" stroke="#666" stroke-width="0.8"/>
<text x="519.5" y="218.6" font-size="6" text-anchor="middle" transform="rotate(90 519.5 218.6)">ns</text>
<line x1="420.5" y1="266.5" x2="436.6" y2="266.5" stroke="#222" stroke-width="0.8"/>
<circle cx="428.55" cy="266.5" r="2.6" fill="#111" stroke="#111" stroke-width="0.7"/>
<text x="440.7" y="269.09" font-size="7.2" fill="#222">Vehicle</text>
<line x1="420.5" y1="277.5" x2="436.6" y2="277.5" stroke="#222" stroke-width="1.1" stroke-dasharray="2.2,1.4"/>
<rect x="426.15" y="274.6" width="4.8" height="4.8" fill="#fff" stroke="#111" stroke-width="0.85"/>
<text x="440.7" y="279.59" font-size="7.2" fill="#222">Anti-CD4</text>
<line x1="420.5" y1="287.5" x2="436.6" y2="287.5" stroke="#6b8ad0" stroke-width="0.8"/>
<path d="M426.15 287.3H430.95M428.55 284.9V289.7M426.87 285.62L430.23 288.98M426.87 288.98L430.23 285.62" stroke="#4a6fc4" stroke-width="0.8" fill="none"/>
<text x="440.7" y="289.89" font-size="7.2" fill="#222">Olaparib + AZD1775</text>
<line x1="420.5" y1="298.5" x2="436.6" y2="298.5" stroke="#9a5cc0" stroke-width="1.1" stroke-dasharray="2.2,1.4"/>
<circle cx="428.55" cy="298.4" r="2.6" fill="#fff" stroke="#9a5cc0" stroke-width="0.7"/>
<text x="440.7" y="300.99" font-size="7.2" fill="#222">Olaparib + AZD1775 + Anti-CD4</text>
<text x="104.4" y="322.44" font-size="7.6" font-weight="bold" text-anchor="middle">AT3OVA</text>
<text x="25.17" y="366" font-size="7.9" text-anchor="middle" transform="rotate(-90 25.17 366)" fill="#222">Percent survival</text>
<line x1="45.5" y1="409.6" x2="45.5" y2="323.36" stroke="#444" stroke-width="1.0"/>
<line x1="43.9" y1="409.5" x2="45.9" y2="409.5" stroke="#444" stroke-width="1.0"/>
<text x="42.7" y="412.34" font-size="7.6" text-anchor="end" fill="#222">0</text>
<line x1="43.9" y1="393.5" x2="45.9" y2="393.5" stroke="#444" stroke-width="1.0"/>
<text x="42.7" y="396.66" font-size="7.6" text-anchor="end" fill="#222">20</text>
<line x1="43.9" y1="378.5" x2="45.9" y2="378.5" stroke="#444" stroke-width="1.0"/>
<text x="42.7" y="380.98" font-size="7.6" text-anchor="end" fill="#222">40</text>
<line x1="43.9" y1="362.5" x2="45.9" y2="362.5" stroke="#444" stroke-width="1.0"/>
<text x="42.7" y="365.3" font-size="7.6" text-anchor="end" fill="#222">60</text>
<line x1="43.9" y1="346.5" x2="45.9" y2="346.5" stroke="#444" stroke-width="1.0"/>
<text x="42.7" y="349.62" font-size="7.6" text-anchor="end" fill="#222">80</text>
<line x1="43.9" y1="331.5" x2="45.9" y2="331.5" stroke="#444" stroke-width="1.0"/>
<text x="42.7" y="333.94" font-size="7.6" text-anchor="end" fill="#222">100</text>
<line x1="45.9" y1="409.5" x2="139.6" y2="409.5" stroke="#444" stroke-width="1.0"/>
<line x1="45.5" y1="409.6" x2="45.5" y2="411.6" stroke="#444" stroke-width="1.0"/>
<text x="45.9" y="420.47" font-size="7.6" text-anchor="middle" fill="#222">0</text>
<line x1="69.5" y1="409.6" x2="69.5" y2="411.6" stroke="#444" stroke-width="1.0"/>
<text x="69.32" y="420.47" font-size="7.6" text-anchor="middle" fill="#222">50</text>
<line x1="92.5" y1="409.6" x2="92.5" y2="411.6" stroke="#444" stroke-width="1.0"/>
<text x="92.75" y="420.47" font-size="7.6" text-anchor="middle" fill="#222">100</text>
<line x1="116.5" y1="409.6" x2="116.5" y2="411.6" stroke="#444" stroke-width="1.0"/>
<text x="116.17" y="420.47" font-size="7.6" text-anchor="middle" fill="#222">150</text>
<line x1="139.5" y1="409.6" x2="139.5" y2="411.6" stroke="#444" stroke-width="1.0"/>
<text x="139.6" y="420.47" font-size="7.6" text-anchor="middle" fill="#222">200</text>
<text x="92.9" y="432.14" font-size="7.6" text-anchor="middle" fill="#222">Days</text>
<polyline points="45.9,331.2 69.32,331.2 69.32,344.53 85.25,344.53 85.25,357.07 89.8,357.07 89.8,396.27 123.53,396.27 123.53,409.6" fill="none" stroke="#f5a25e" stroke-width="0.9"/>
<polyline points="45.9,331.2 64.41,331.2 64.41,344.53 67.31,344.53 67.31,357.07 68.86,357.07 68.86,396.27 71.2,396.27 71.2,409.6" fill="none" stroke="#5a7fd0" stroke-width="0.9"/>
<polyline points="45.9,331.2 62.02,331.2 62.02,357.07 66.51,357.07 66.51,370.4 70.5,370.4 70.5,383.73 71.2,383.73 71.2,396.27 74.48,396.27 74.48,409.6" fill="none" stroke="#b03545" stroke-width="0.9"/>
<polyline points="45.9,331.2 60.61,331.2 60.61,362.56 62.2,362.56 62.2,378.24 64.12,378.24 64.12,393.92 66.51,393.92 66.51,409.6" fill="none" stroke="#333" stroke-width="0.9"/>
<line x1="40" y1="438.5" x2="56.3" y2="438.5" stroke="#333" stroke-width="0.8"/>
<line x1="48.5" y1="437.1" x2="48.5" y2="439.1" stroke="#555" stroke-width="0.7"/>
<text x="61" y="440.93" font-size="7.85" fill="#222">Vehicle</text>
<line x1="40" y1="450.5" x2="56.3" y2="450.5" stroke="#5a7fd0" stroke-width="0.8"/>
<line x1="48.5" y1="449" x2="48.5" y2="451" stroke="#555" stroke-width="0.7"/>
<text x="61" y="452.83" font-size="7.85" fill="#222">Olaparib (40 mg/kg) + AZD1775 (30 mg/kg)</text>
<line x1="40" y1="462.5" x2="56.3" y2="462.5" stroke="#b03545" stroke-width="0.8"/>
<line x1="48.5" y1="461.3" x2="48.5" y2="463.3" stroke="#555" stroke-width="0.7"/>
<text x="61" y="465.13" font-size="7.85" fill="#222">Anti-PD-1 (200µg)</text>
<line x1="40" y1="474.5" x2="56.3" y2="474.5" stroke="#f5a25e" stroke-width="0.8"/>
<line x1="48.5" y1="473.1" x2="48.5" y2="475.1" stroke="#555" stroke-width="0.7"/>
<text x="61" y="476.93" font-size="7.85" fill="#222">Olaparib + AZD1775 + Anti-PD-1</text>
<line x1="205.5" y1="455.6" x2="205.5" y2="477.5" stroke="#555" stroke-width="0.8"/>
<path d="M210.1 459.7L210.1 463.5M211.75 460.65L208.45 462.55M211.75 462.55L208.45 460.65" stroke="#111" stroke-width="1.05" fill="none"/>
<path d="M210.1 465.3L210.1 469.1M211.75 466.25L208.45 468.15M211.75 468.15L208.45 466.25" stroke="#111" stroke-width="1.05" fill="none"/>
<line x1="218.5" y1="448.3" x2="218.5" y2="477.5" stroke="#555" stroke-width="0.8"/>
<path d="M222.1 457.3L222.1 461.1M223.75 458.25L220.45 460.15M223.75 460.15L220.45 458.25" stroke="#111" stroke-width="1.05" fill="none"/>
<path d="M222.1 462.9L222.1 466.7M223.75 463.85L220.45 465.75M223.75 465.75L220.45 463.85" stroke="#111" stroke-width="1.05" fill="none"/>
<line x1="230.5" y1="435.2" x2="230.5" y2="477.5" stroke="#555" stroke-width="0.8"/>
<path d="M234.4 450.5L234.4 454.3M236.05 451.45L232.75 453.35M236.05 453.35L232.75 451.45" stroke="#111" stroke-width="1.05" fill="none"/>
<path d="M234.4 456.1L234.4 459.9M236.05 457.05L232.75 458.95M236.05 458.95L232.75 457.05" stroke="#111" stroke-width="1.05" fill="none"/>
<path d="M234.4 461.7L234.4 465.5M236.05 462.65L232.75 464.55M236.05 464.55L232.75 462.65" stroke="#111" stroke-width="1.05" fill="none"/>
<line x1="239.5" y1="431.9" x2="239.5" y2="455" stroke="#555" stroke-width="0.8"/>
<path d="M244.7 438.1L244.7 441.9M246.35 439.05L243.05 440.95M246.35 440.95L243.05 439.05" stroke="#111" stroke-width="1.05" fill="none"/>
<path d="M244.7 443.7L244.7 447.5M246.35 444.65L243.05 446.55M246.35 446.55L243.05 444.65" stroke="#111" stroke-width="1.05" fill="none"/>
<line x1="250.5" y1="432.6" x2="250.5" y2="466.5" stroke="#555" stroke-width="0.8"/>
<path d="M255.6 446.7L255.6 450.5M257.25 447.65L253.95 449.55M257.25 449.55L253.95 447.65" stroke="#111" stroke-width="1.05" fill="none"/>
<text x="341.4" y="322.44" font-size="7.6" font-weight="bold" text-anchor="middle">AT3</text>
<text x="277.87" y="370.7" font-size="7.9" text-anchor="middle" transform="rotate(-90 277.87 370.7)" fill="#222">Percent survival</text>
<line x1="297.5" y1="401.4" x2="297.5" y2="325.06" stroke="#444" stroke-width="1.0"/>
<line x1="295.6" y1="401.5" x2="297.6" y2="401.5" stroke="#444" stroke-width="1.0"/>
<text x="294.4" y="404.14" font-size="7.6" text-anchor="end" fill="#222">0</text>
<line x1="295.6" y1="366.5" x2="297.6" y2="366.5" stroke="#444" stroke-width="1.0"/>
<text x="294.4" y="369.44" font-size="7.6" text-anchor="end" fill="#222">50</text>
<line x1="295.6" y1="332.5" x2="297.6" y2="332.5" stroke="#444" stroke-width="1.0"/>
<text x="294.4" y="334.74" font-size="7.6" text-anchor="end" fill="#222">100</text>
<line x1="297.6" y1="401.5" x2="384.9" y2="401.5" stroke="#444" stroke-width="1.0"/>
<line x1="297.5" y1="401.4" x2="297.5" y2="403.4" stroke="#444" stroke-width="1.0"/>
<text x="297.6" y="412.27" font-size="7.6" text-anchor="middle" fill="#222">0</text>
<line x1="319.5" y1="401.4" x2="319.5" y2="403.4" stroke="#444" stroke-width="1.0"/>
<text x="319.43" y="412.27" font-size="7.6" text-anchor="middle" fill="#222">10</text>
<line x1="341.5" y1="401.4" x2="341.5" y2="403.4" stroke="#444" stroke-width="1.0"/>
<text x="341.25" y="412.27" font-size="7.6" text-anchor="middle" fill="#222">20</text>
<line x1="363.5" y1="401.4" x2="363.5" y2="403.4" stroke="#444" stroke-width="1.0"/>
<text x="363.07" y="412.27" font-size="7.6" text-anchor="middle" fill="#222">30</text>
<line x1="384.5" y1="401.4" x2="384.5" y2="403.4" stroke="#444" stroke-width="1.0"/>
<text x="384.9" y="412.27" font-size="7.6" text-anchor="middle" fill="#222">40</text>
<text x="341.4" y="424.44" font-size="7.6" text-anchor="middle" fill="#222">Day</text>
<polyline points="297.6,332 347.8,332 347.8,343.8 356.53,343.8 356.53,366.7 365.26,366.7 365.26,389.6 371.8,389.6 371.8,401.4" fill="none" stroke="#f5a25e" stroke-width="0.9"/>
<polyline points="297.6,332 356.53,332 356.53,378.5 365.26,378.5 365.26,401.4" fill="none" stroke="#b03545" stroke-width="0.9"/>
<polyline points="297.6,332 356.53,332 356.53,343.8 365.26,343.8 365.26,378.5 371.8,378.5 371.8,401.4" fill="none" stroke="#5a7fd0" stroke-width="0.9"/>
<polyline points="297.6,332 347.8,332 347.8,366.7 356.53,366.7 356.53,401.4" fill="none" stroke="#333" stroke-width="0.9"/>
<line x1="275.5" y1="436.5" x2="284.3" y2="436.5" stroke="#333" stroke-width="0.8"/>
<line x1="279.5" y1="435.4" x2="279.5" y2="437.4" stroke="#555" stroke-width="0.7"/>
<text x="287.8" y="439.06" font-size="7.4" fill="#222">Vehicle</text>
<line x1="275.5" y1="448.5" x2="284.3" y2="448.5" stroke="#5a7fd0" stroke-width="0.8"/>
<line x1="279.5" y1="447.7" x2="279.5" y2="449.7" stroke="#555" stroke-width="0.7"/>
<text x="287.8" y="451.36" font-size="7.4" fill="#222">Olaparib (40 mg/kg) +AZD1775 (30 mg/kg)</text>
<line x1="275.5" y1="461.5" x2="284.3" y2="461.5" stroke="#b03545" stroke-width="0.8"/>
<line x1="279.5" y1="460.6" x2="279.5" y2="462.6" stroke="#555" stroke-width="0.7"/>
<text x="287.8" y="464.26" font-size="7.4" fill="#222">Anti-PD-1 (200 µg)</text>
<line x1="275.5" y1="473.5" x2="284.3" y2="473.5" stroke="#f5a25e" stroke-width="0.8"/>
<line x1="279.5" y1="472.9" x2="279.5" y2="474.9" stroke="#555" stroke-width="0.7"/>
<text x="287.8" y="476.56" font-size="7.4" fill="#222">Olaparib +AZD1775 + Anti-PD-1</text>
<line x1="431.5" y1="428.3" x2="431.5" y2="448.5" stroke="#555" stroke-width="0.8"/>
<path d="M437.5 433.7L437.5 437.5M439.15 434.65L435.85 436.55M439.15 436.55L435.85 434.65" stroke="#111" stroke-width="1.05" fill="none"/>
<path d="M437.5 439.3L437.5 443.1M439.15 440.25L435.85 442.15M439.15 442.15L435.85 440.25" stroke="#111" stroke-width="1.05" fill="none"/>
<line x1="444.5" y1="428.3" x2="444.5" y2="466.9" stroke="#555" stroke-width="0.8"/>
<text x="448.1" y="448" font-size="8.4" text-anchor="middle" transform="rotate(90 448.1 448)">ns</text>
<line x1="457.5" y1="431" x2="457.5" y2="479.6" stroke="#555" stroke-width="0.8"/>
<text x="462.1" y="455.5" font-size="8.4" text-anchor="middle" transform="rotate(90 462.1 455.5)">ns</text>
<text x="552.6" y="322.54" font-size="7.6" font-weight="bold" text-anchor="middle">4T1ch9</text>
<text x="486.07" y="368.7" font-size="7.9" text-anchor="middle" transform="rotate(-90 486.07 368.7)" fill="#222">Percent survival</text>
<line x1="506.5" y1="410.1" x2="506.5" y2="330.13" stroke="#444" stroke-width="1.0"/>
<line x1="504.6" y1="410.5" x2="506.6" y2="410.5" stroke="#444" stroke-width="1.0"/>
<text x="503.4" y="412.84" font-size="7.6" text-anchor="end" fill="#222">0</text>
<line x1="504.6" y1="395.5" x2="506.6" y2="395.5" stroke="#444" stroke-width="1.0"/>
<text x="503.4" y="398.3" font-size="7.6" text-anchor="end" fill="#222">20</text>
<line x1="504.6" y1="381.5" x2="506.6" y2="381.5" stroke="#444" stroke-width="1.0"/>
<text x="503.4" y="383.76" font-size="7.6" text-anchor="end" fill="#222">40</text>
<line x1="504.6" y1="366.5" x2="506.6" y2="366.5" stroke="#444" stroke-width="1.0"/>
<text x="503.4" y="369.22" font-size="7.6" text-anchor="end" fill="#222">60</text>
<line x1="504.6" y1="351.5" x2="506.6" y2="351.5" stroke="#444" stroke-width="1.0"/>
<text x="503.4" y="354.68" font-size="7.6" text-anchor="end" fill="#222">80</text>
<line x1="504.6" y1="337.5" x2="506.6" y2="337.5" stroke="#444" stroke-width="1.0"/>
<text x="503.4" y="340.14" font-size="7.6" text-anchor="end" fill="#222">100</text>
<line x1="506.6" y1="410.5" x2="593.9" y2="410.5" stroke="#444" stroke-width="1.0"/>
<line x1="506.5" y1="410.1" x2="506.5" y2="412.1" stroke="#444" stroke-width="1.0"/>
<text x="506.6" y="420.97" font-size="7.6" text-anchor="middle" fill="#222">0</text>
<line x1="535.5" y1="410.1" x2="535.5" y2="412.1" stroke="#444" stroke-width="1.0"/>
<text x="535.7" y="420.97" font-size="7.6" text-anchor="middle" fill="#222">10</text>
<line x1="564.5" y1="410.1" x2="564.5" y2="412.1" stroke="#444" stroke-width="1.0"/>
<text x="564.8" y="420.97" font-size="7.6" text-anchor="middle" fill="#222">20</text>
<line x1="593.5" y1="410.1" x2="593.5" y2="412.1" stroke="#444" stroke-width="1.0"/>
<text x="593.9" y="420.97" font-size="7.6" text-anchor="middle" fill="#222">30</text>
<text x="549.7" y="432.54" font-size="7.6" text-anchor="middle" fill="#222">Days</text>
<polyline points="506.6,337.4 550.25,337.4 550.25,397.74 579.35,397.74 579.35,410.1" fill="none" stroke="#5a7fd0" stroke-width="0.9"/>
<polyline points="506.6,337.4 550.25,337.4 550.25,361.39 558.98,361.39 558.98,397.74 570.62,397.74 570.62,410.1" fill="none" stroke="#b03545" stroke-width="0.9"/>
<polyline points="506.6,337.4 550.25,337.4 550.25,397.74 558.98,397.74 558.98,410.1" fill="none" stroke="#333" stroke-width="0.9"/>
<polyline points="506.6,337.4 550.25,337.4 550.25,373.75 558.98,373.75 558.98,410.1" fill="none" stroke="#f5a25e" stroke-width="0.9"/>
<line x1="490.2" y1="436.5" x2="506" y2="436.5" stroke="#333" stroke-width="0.8"/>
<line x1="498.5" y1="435.4" x2="498.5" y2="437.4" stroke="#555" stroke-width="0.7"/>
<text x="510" y="439.06" font-size="7.4" fill="#222">Vehicle</text>
<line x1="490.2" y1="449.5" x2="506" y2="449.5" stroke="#5a7fd0" stroke-width="0.8"/>
<line x1="498.5" y1="448.5" x2="498.5" y2="450.5" stroke="#555" stroke-width="0.7"/>
<text x="510" y="452.16" font-size="7.4" fill="#222">Olaparib (40 mg/kg) + AZD1775 (30 mg/kg)</text>
<line x1="490.2" y1="462.5" x2="506" y2="462.5" stroke="#b03545" stroke-width="0.8"/>
<line x1="498.5" y1="461.7" x2="498.5" y2="463.7" stroke="#555" stroke-width="0.7"/>
<text x="510" y="465.36" font-size="7.4" fill="#222">Anti-PD-1 (200 µg)</text>
<line x1="490.2" y1="475.5" x2="506" y2="475.5" stroke="#f5a25e" stroke-width="0.8"/>
<line x1="498.5" y1="474.2" x2="498.5" y2="476.2" stroke="#555" stroke-width="0.7"/>
<text x="510" y="477.86" font-size="7.4" fill="#222">Olaparib + AZD1775 + Anti-PD1</text>
<line x1="660.5" y1="429.8" x2="660.5" y2="468.3" stroke="#555" stroke-width="0.8"/>
<text x="664.2" y="449.5" font-size="8.4" text-anchor="middle" transform="rotate(90 664.2 449.5)">ns</text>
<line x1="672.5" y1="433" x2="672.5" y2="479" stroke="#555" stroke-width="0.8"/>
<text x="678.7" y="456" font-size="8.4" text-anchor="middle" transform="rotate(90 678.7 456)">ns</text>
<text x="10.45" y="557" font-size="8.5" text-anchor="middle" transform="rotate(-90 10.45 557)" fill="#222">Tumour volume (mm<tspan font-size="5.6" dy="-3.2">3</tspan><tspan dy="3.2">)</tspan></text>
<line x1="36.5" y1="604.6" x2="36.5" y2="511.49" stroke="#333" stroke-width="0.8"/>
<line x1="34.4" y1="604.5" x2="36.4" y2="604.5" stroke="#333" stroke-width="0.8"/>
<text x="32.2" y="607.48" font-size="8.0" text-anchor="end" fill="#222">0</text>
<line x1="34.4" y1="577.5" x2="36.4" y2="577.5" stroke="#333" stroke-width="0.8"/>
<text x="32.2" y="580.41" font-size="8.0" text-anchor="end" fill="#222">500</text>
<line x1="34.4" y1="550.5" x2="36.4" y2="550.5" stroke="#333" stroke-width="0.8"/>
<text x="32.2" y="553.35" font-size="8.0" text-anchor="end" fill="#222">1000</text>
<line x1="34.4" y1="523.5" x2="36.4" y2="523.5" stroke="#333" stroke-width="0.8"/>
<text x="32.2" y="526.28" font-size="8.0" text-anchor="end" fill="#222">1500</text>
<line x1="36.4" y1="604.5" x2="129.3" y2="604.5" stroke="#333" stroke-width="0.8"/>
<line x1="36.5" y1="604.6" x2="36.5" y2="606.6" stroke="#333" stroke-width="0.8"/>
<text x="36.4" y="615.67" font-size="7.6" text-anchor="middle" fill="#222">0</text>
<line x1="54.5" y1="604.6" x2="54.5" y2="606.6" stroke="#333" stroke-width="0.8"/>
<text x="54.98" y="615.67" font-size="7.6" text-anchor="middle" fill="#222">20</text>
<line x1="73.5" y1="604.6" x2="73.5" y2="606.6" stroke="#333" stroke-width="0.8"/>
<text x="73.56" y="615.67" font-size="7.6" text-anchor="middle" fill="#222">40</text>
<line x1="92.5" y1="604.6" x2="92.5" y2="606.6" stroke="#333" stroke-width="0.8"/>
<text x="92.14" y="615.67" font-size="7.6" text-anchor="middle" fill="#222">60</text>
<line x1="110.5" y1="604.6" x2="110.5" y2="606.6" stroke="#333" stroke-width="0.8"/>
<text x="110.72" y="615.67" font-size="7.6" text-anchor="middle" fill="#222">80</text>
<line x1="129.5" y1="604.6" x2="129.5" y2="606.6" stroke="#333" stroke-width="0.8"/>
<text x="129.3" y="615.67" font-size="7.6" text-anchor="middle" fill="#222">100</text>
<text x="83.2" y="629.31" font-size="7.8" text-anchor="middle" fill="#222">Day</text>
<line x1="59.5" y1="600" x2="59.5" y2="596.48" stroke="#f07a52" stroke-width="0.7"/>
<line x1="57.42" y1="596.5" x2="61.83" y2="596.5" stroke="#f07a52" stroke-width="0.7"/>
<line x1="65.5" y1="598.48" x2="65.5" y2="593.77" stroke="#f07a52" stroke-width="0.7"/>
<line x1="63" y1="593.5" x2="67.4" y2="593.5" stroke="#f07a52" stroke-width="0.7"/>
<line x1="68.5" y1="597.56" x2="68.5" y2="589.44" stroke="#f07a52" stroke-width="0.7"/>
<line x1="66.71" y1="589.5" x2="71.11" y2="589.5" stroke="#f07a52" stroke-width="0.7"/>
<line x1="71.5" y1="596.7" x2="71.5" y2="584.57" stroke="#f07a52" stroke-width="0.7"/>
<line x1="69.5" y1="584.5" x2="73.9" y2="584.5" stroke="#f07a52" stroke-width="0.7"/>
<line x1="75.5" y1="595.4" x2="75.5" y2="579.7" stroke="#f07a52" stroke-width="0.7"/>
<line x1="73.22" y1="579.5" x2="77.62" y2="579.5" stroke="#f07a52" stroke-width="0.7"/>
<line x1="79.5" y1="593.12" x2="79.5" y2="575.58" stroke="#f07a52" stroke-width="0.7"/>
<line x1="76.93" y1="575.5" x2="81.33" y2="575.5" stroke="#f07a52" stroke-width="0.7"/>
<line x1="85.5" y1="599.29" x2="85.5" y2="593.77" stroke="#f07a52" stroke-width="0.7"/>
<line x1="83.44" y1="593.5" x2="87.84" y2="593.5" stroke="#f07a52" stroke-width="0.7"/>
<line x1="89.5" y1="598.1" x2="89.5" y2="591.61" stroke="#f07a52" stroke-width="0.7"/>
<line x1="87.15" y1="591.5" x2="91.55" y2="591.5" stroke="#f07a52" stroke-width="0.7"/>
<line x1="92.5" y1="596.7" x2="92.5" y2="589.44" stroke="#f07a52" stroke-width="0.7"/>
<line x1="89.94" y1="589.5" x2="94.34" y2="589.5" stroke="#f07a52" stroke-width="0.7"/>
<line x1="94.5" y1="595.4" x2="94.5" y2="586.74" stroke="#f07a52" stroke-width="0.7"/>
<line x1="92.73" y1="586.5" x2="97.13" y2="586.5" stroke="#f07a52" stroke-width="0.7"/>
<line x1="97.5" y1="593.61" x2="97.5" y2="584.03" stroke="#f07a52" stroke-width="0.7"/>
<line x1="95.51" y1="584.5" x2="99.91" y2="584.5" stroke="#f07a52" stroke-width="0.7"/>
<line x1="101.5" y1="590.8" x2="101.5" y2="581.32" stroke="#f07a52" stroke-width="0.7"/>
<line x1="99.23" y1="581.5" x2="103.63" y2="581.5" stroke="#f07a52" stroke-width="0.7"/>
<line x1="105.5" y1="588.52" x2="105.5" y2="573.74" stroke="#f07a52" stroke-width="0.7"/>
<line x1="102.95" y1="573.5" x2="107.35" y2="573.5" stroke="#f07a52" stroke-width="0.7"/>
<line x1="108.5" y1="580.89" x2="108.5" y2="557.5" stroke="#f07a52" stroke-width="0.7"/>
<line x1="106.66" y1="557.5" x2="111.06" y2="557.5" stroke="#f07a52" stroke-width="0.7"/>
<line x1="111.5" y1="574.72" x2="111.5" y2="539.64" stroke="#f07a52" stroke-width="0.7"/>
<line x1="109.45" y1="539.5" x2="113.85" y2="539.5" stroke="#f07a52" stroke-width="0.7"/>
<line x1="115.5" y1="562.21" x2="115.5" y2="515.82" stroke="#f07a52" stroke-width="0.7"/>
<line x1="113.17" y1="515.5" x2="117.57" y2="515.5" stroke="#f07a52" stroke-width="0.7"/>
<polyline points="37.33,602.43 40.12,601.89 43.83,601.62 46.62,601.35 50.34,601.08 54.05,600.54 56.84,600.27 59.62,600 62.41,599.19 65.2,598.48 68.91,597.56 71.7,596.7 75.42,595.4 79.13,593.12 81.92,600 85.64,599.29 89.35,598.1 92.14,596.7 94.93,595.4 97.71,593.61 101.43,590.8 105.15,588.52 108.86,580.89 111.65,574.72 115.37,562.21" fill="none" stroke="#f07a52" stroke-width="0.8"/>
<rect x="34.98" y="600.08" width="4.7" height="4.7" fill="#fff" stroke="#f07a52" stroke-width="0.85"/>
<rect x="37.77" y="599.54" width="4.7" height="4.7" fill="#fff" stroke="#f07a52" stroke-width="0.85"/>
<rect x="41.48" y="599.27" width="4.7" height="4.7" fill="#fff" stroke="#f07a52" stroke-width="0.85"/>
<rect x="44.27" y="599" width="4.7" height="4.7" fill="#fff" stroke="#f07a52" stroke-width="0.85"/>
<rect x="47.98" y="598.73" width="4.7" height="4.7" fill="#fff" stroke="#f07a52" stroke-width="0.85"/>
<rect x="51.7" y="598.19" width="4.7" height="4.7" fill="#fff" stroke="#f07a52" stroke-width="0.85"/>
<rect x="54.49" y="597.92" width="4.7" height="4.7" fill="#fff" stroke="#f07a52" stroke-width="0.85"/>
<rect x="57.27" y="597.65" width="4.7" height="4.7" fill="#fff" stroke="#f07a52" stroke-width="0.85"/>
<rect x="60.06" y="596.84" width="4.7" height="4.7" fill="#fff" stroke="#f07a52" stroke-width="0.85"/>
<rect x="62.85" y="596.13" width="4.7" height="4.7" fill="#fff" stroke="#f07a52" stroke-width="0.85"/>
<rect x="66.56" y="595.21" width="4.7" height="4.7" fill="#fff" stroke="#f07a52" stroke-width="0.85"/>
<rect x="69.35" y="594.35" width="4.7" height="4.7" fill="#fff" stroke="#f07a52" stroke-width="0.85"/>
<rect x="73.07" y="593.05" width="4.7" height="4.7" fill="#fff" stroke="#f07a52" stroke-width="0.85"/>
<rect x="76.78" y="590.77" width="4.7" height="4.7" fill="#fff" stroke="#f07a52" stroke-width="0.85"/>
<rect x="79.57" y="597.65" width="4.7" height="4.7" fill="#fff" stroke="#f07a52" stroke-width="0.85"/>
<rect x="83.29" y="596.94" width="4.7" height="4.7" fill="#fff" stroke="#f07a52" stroke-width="0.85"/>
<rect x="87" y="595.75" width="4.7" height="4.7" fill="#fff" stroke="#f07a52" stroke-width="0.85"/>
<rect x="89.79" y="594.35" width="4.7" height="4.7" fill="#fff" stroke="#f07a52" stroke-width="0.85"/>
<rect x="92.58" y="593.05" width="4.7" height="4.7" fill="#fff" stroke="#f07a52" stroke-width="0.85"/>
<rect x="95.36" y="591.26" width="4.7" height="4.7" fill="#fff" stroke="#f07a52" stroke-width="0.85"/>
<rect x="99.08" y="588.45" width="4.7" height="4.7" fill="#fff" stroke="#f07a52" stroke-width="0.85"/>
<rect x="102.8" y="586.17" width="4.7" height="4.7" fill="#fff" stroke="#f07a52" stroke-width="0.85"/>
<rect x="106.51" y="578.54" width="4.7" height="4.7" fill="#fff" stroke="#f07a52" stroke-width="0.85"/>
<rect x="109.3" y="572.37" width="4.7" height="4.7" fill="#fff" stroke="#f07a52" stroke-width="0.85"/>
<rect x="113.02" y="559.86" width="4.7" height="4.7" fill="#fff" stroke="#f07a52" stroke-width="0.85"/>
<line x1="56.5" y1="595.4" x2="56.5" y2="592.15" stroke="#6b8ad0" stroke-width="0.7"/>
<line x1="54.64" y1="592.5" x2="59.04" y2="592.5" stroke="#6b8ad0" stroke-width="0.7"/>
<line x1="59.5" y1="590.8" x2="59.5" y2="586.74" stroke="#6b8ad0" stroke-width="0.7"/>
<line x1="57.42" y1="586.5" x2="61.83" y2="586.5" stroke="#6b8ad0" stroke-width="0.7"/>
<line x1="62.5" y1="585.55" x2="62.5" y2="580.24" stroke="#6b8ad0" stroke-width="0.7"/>
<line x1="60.21" y1="580.5" x2="64.61" y2="580.5" stroke="#6b8ad0" stroke-width="0.7"/>
<line x1="66.5" y1="582.41" x2="66.5" y2="566.71" stroke="#6b8ad0" stroke-width="0.7"/>
<line x1="63.93" y1="566.5" x2="68.33" y2="566.5" stroke="#6b8ad0" stroke-width="0.7"/>
<line x1="69.5" y1="578.29" x2="69.5" y2="559.4" stroke="#6b8ad0" stroke-width="0.7"/>
<line x1="67.64" y1="559.5" x2="72.04" y2="559.5" stroke="#6b8ad0" stroke-width="0.7"/>
<line x1="73.5" y1="568.6" x2="73.5" y2="543.97" stroke="#6b8ad0" stroke-width="0.7"/>
<line x1="71.36" y1="543.5" x2="75.76" y2="543.5" stroke="#6b8ad0" stroke-width="0.7"/>
<polyline points="37.33,602.43 40.12,601.89 43.83,601.35 46.62,601.08 50.34,600.27 53.12,599.19 56.84,595.4 59.62,590.8 62.41,585.55 66.13,582.41 69.84,578.29 73.56,568.6" fill="none" stroke="#6b8ad0" stroke-width="0.8"/>
<path d="M34.63 602.43H40.03M37.33 599.73V605.13M35.44 600.54L39.22 604.32M35.44 604.32L39.22 600.54" stroke="#4a6fc4" stroke-width="1.1" fill="none"/>
<path d="M37.42 601.89H42.82M40.12 599.19V604.59M38.23 600L42.01 603.78M38.23 603.78L42.01 600" stroke="#4a6fc4" stroke-width="1.1" fill="none"/>
<path d="M41.13 601.35H46.53M43.83 598.65V604.05M41.94 599.46L45.72 603.24M41.94 603.24L45.72 599.46" stroke="#4a6fc4" stroke-width="1.1" fill="none"/>
<path d="M43.92 601.08H49.32M46.62 598.38V603.78M44.73 599.19L48.51 602.97M44.73 602.97L48.51 599.19" stroke="#4a6fc4" stroke-width="1.1" fill="none"/>
<path d="M47.63 600.27H53.04M50.34 597.57V602.97M48.45 598.38L52.23 602.16M48.45 602.16L52.23 598.38" stroke="#4a6fc4" stroke-width="1.1" fill="none"/>
<path d="M50.42 599.19H55.82M53.12 596.49V601.89M51.23 597.3L55.01 601.08M51.23 601.08L55.01 597.3" stroke="#4a6fc4" stroke-width="1.1" fill="none"/>
<path d="M54.14 595.4H59.54M56.84 592.7V598.1M54.95 593.51L58.73 597.29M54.95 597.29L58.73 593.51" stroke="#4a6fc4" stroke-width="1.1" fill="none"/>
<path d="M56.92 590.8H62.33M59.62 588.1V593.5M57.73 588.91L61.52 592.69M57.73 592.69L61.52 588.91" stroke="#4a6fc4" stroke-width="1.1" fill="none"/>
<path d="M59.71 585.55H65.11M62.41 582.85V588.25M60.52 583.66L64.3 587.44M60.52 587.44L64.3 583.66" stroke="#4a6fc4" stroke-width="1.1" fill="none"/>
<path d="M63.43 582.41H68.83M66.13 579.71V585.11M64.24 580.52L68.02 584.3M64.24 584.3L68.02 580.52" stroke="#4a6fc4" stroke-width="1.1" fill="none"/>
<path d="M67.14 578.29H72.54M69.84 575.59V580.99M67.95 576.4L71.73 580.18M67.95 580.18L71.73 576.4" stroke="#4a6fc4" stroke-width="1.1" fill="none"/>
<path d="M70.86 568.6H76.26M73.56 565.9V571.3M71.67 566.71L75.45 570.49M71.67 570.49L75.45 566.71" stroke="#4a6fc4" stroke-width="1.1" fill="none"/>
<line x1="50.5" y1="592.69" x2="50.5" y2="588.36" stroke="#9e1b32" stroke-width="0.7"/>
<line x1="48.13" y1="588.5" x2="52.54" y2="588.5" stroke="#9e1b32" stroke-width="0.7"/>
<line x1="53.5" y1="588.36" x2="53.5" y2="581.86" stroke="#9e1b32" stroke-width="0.7"/>
<line x1="50.92" y1="581.5" x2="55.32" y2="581.5" stroke="#9e1b32" stroke-width="0.7"/>
<line x1="56.5" y1="583.49" x2="56.5" y2="574.29" stroke="#9e1b32" stroke-width="0.7"/>
<line x1="54.64" y1="574.5" x2="59.04" y2="574.5" stroke="#9e1b32" stroke-width="0.7"/>
<line x1="59.5" y1="579.16" x2="59.5" y2="566.71" stroke="#9e1b32" stroke-width="0.7"/>
<line x1="57.42" y1="566.5" x2="61.83" y2="566.5" stroke="#9e1b32" stroke-width="0.7"/>
<line x1="62.5" y1="575.37" x2="62.5" y2="560.21" stroke="#9e1b32" stroke-width="0.7"/>
<line x1="60.21" y1="560.5" x2="64.61" y2="560.5" stroke="#9e1b32" stroke-width="0.7"/>
<line x1="65.5" y1="569.41" x2="65.5" y2="545.05" stroke="#9e1b32" stroke-width="0.7"/>
<line x1="63" y1="545.5" x2="67.4" y2="545.5" stroke="#9e1b32" stroke-width="0.7"/>
<polyline points="37.33,601.89 40.12,600.81 43.83,599.19 46.62,596.48 50.34,592.69 53.12,588.36 56.84,583.49 59.62,579.16 62.41,575.37 65.2,569.41" fill="none" stroke="#9e1b32" stroke-width="0.8"/>
<polygon points="34.43,599.57 40.23,599.57 37.33,605.08" fill="#9e1b32" stroke="#9e1b32" stroke-width="0.6"/>
<polygon points="37.22,598.49 43.02,598.49 40.12,604" fill="#9e1b32" stroke="#9e1b32" stroke-width="0.6"/>
<polygon points="40.93,596.87 46.73,596.87 43.83,602.38" fill="#9e1b32" stroke="#9e1b32" stroke-width="0.6"/>
<polygon points="43.72,594.16 49.52,594.16 46.62,599.67" fill="#9e1b32" stroke="#9e1b32" stroke-width="0.6"/>
<polygon points="47.44,590.37 53.23,590.37 50.34,595.88" fill="#9e1b32" stroke="#9e1b32" stroke-width="0.6"/>
<polygon points="50.22,586.04 56.02,586.04 53.12,591.55" fill="#9e1b32" stroke="#9e1b32" stroke-width="0.6"/>
<polygon points="53.94,581.17 59.74,581.17 56.84,586.68" fill="#9e1b32" stroke="#9e1b32" stroke-width="0.6"/>
<polygon points="56.73,576.84 62.52,576.84 59.62,582.35" fill="#9e1b32" stroke="#9e1b32" stroke-width="0.6"/>
<polygon points="59.51,573.05 65.31,573.05 62.41,578.56" fill="#9e1b32" stroke="#9e1b32" stroke-width="0.6"/>
<polygon points="62.3,567.09 68.1,567.09 65.2,572.6" fill="#9e1b32" stroke="#9e1b32" stroke-width="0.6"/>
<line x1="43.5" y1="597.02" x2="43.5" y2="594.86" stroke="#222" stroke-width="0.7"/>
<line x1="41.63" y1="594.5" x2="46.03" y2="594.5" stroke="#222" stroke-width="0.7"/>
<line x1="46.5" y1="593.61" x2="46.5" y2="590.53" stroke="#222" stroke-width="0.7"/>
<line x1="44.42" y1="590.5" x2="48.82" y2="590.5" stroke="#222" stroke-width="0.7"/>
<line x1="50.5" y1="587.82" x2="50.5" y2="582.95" stroke="#222" stroke-width="0.7"/>
<line x1="48.13" y1="582.5" x2="52.54" y2="582.5" stroke="#222" stroke-width="0.7"/>
<line x1="53.5" y1="580.89" x2="53.5" y2="570.5" stroke="#222" stroke-width="0.7"/>
<line x1="50.92" y1="570.5" x2="55.32" y2="570.5" stroke="#222" stroke-width="0.7"/>
<line x1="56.5" y1="572.01" x2="56.5" y2="562.38" stroke="#222" stroke-width="0.7"/>
<line x1="54.64" y1="562.5" x2="59.04" y2="562.5" stroke="#222" stroke-width="0.7"/>
<line x1="59.5" y1="568.6" x2="59.5" y2="556.96" stroke="#222" stroke-width="0.7"/>
<line x1="57.42" y1="556.5" x2="61.83" y2="556.5" stroke="#222" stroke-width="0.7"/>
<line x1="63.5" y1="556.31" x2="63.5" y2="547.22" stroke="#222" stroke-width="0.7"/>
<line x1="61.14" y1="547.5" x2="65.54" y2="547.5" stroke="#222" stroke-width="0.7"/>
<line x1="66.5" y1="537.64" x2="66.5" y2="523.4" stroke="#222" stroke-width="0.7"/>
<line x1="63.93" y1="523.5" x2="68.33" y2="523.5" stroke="#222" stroke-width="0.7"/>
<polyline points="37.33,601.62 40.12,599.29 43.83,597.02 46.62,593.61 50.34,587.82 53.12,580.89 56.84,572.01 59.62,568.6 63.34,556.31 66.13,537.64" fill="none" stroke="#222" stroke-width="0.8"/>
<circle cx="37.33" cy="601.62" r="2.9" fill="#111" stroke="#111" stroke-width="0.7"/>
<circle cx="40.12" cy="599.29" r="2.9" fill="#111" stroke="#111" stroke-width="0.7"/>
<circle cx="43.83" cy="597.02" r="2.9" fill="#111" stroke="#111" stroke-width="0.7"/>
<circle cx="46.62" cy="593.61" r="2.9" fill="#111" stroke="#111" stroke-width="0.7"/>
<circle cx="50.34" cy="587.82" r="2.9" fill="#111" stroke="#111" stroke-width="0.7"/>
<circle cx="53.12" cy="580.89" r="2.9" fill="#111" stroke="#111" stroke-width="0.7"/>
<circle cx="56.84" cy="572.01" r="2.9" fill="#111" stroke="#111" stroke-width="0.7"/>
<circle cx="59.62" cy="568.6" r="2.9" fill="#111" stroke="#111" stroke-width="0.7"/>
<circle cx="63.34" cy="556.31" r="2.9" fill="#111" stroke="#111" stroke-width="0.7"/>
<circle cx="66.13" cy="537.64" r="2.9" fill="#111" stroke="#111" stroke-width="0.7"/>
<text x="147.6" y="513.47" font-size="7.42" fill="#222">Olaparib + AZD1775 + Anti-PD-1</text>
<text x="147.17" y="562.2" font-size="7.9" text-anchor="middle" transform="rotate(-90 147.17 562.2)" fill="#222">Tumour volume (mm <tspan font-size="5.2" dy="-3">3</tspan><tspan dy="3">)</tspan></text>
<line x1="168.5" y1="603" x2="168.5" y2="524.68" stroke="#333" stroke-width="0.8"/>
<line x1="166.3" y1="603.5" x2="168.3" y2="603.5" stroke="#333" stroke-width="0.8"/>
<text x="165.4" y="605.7" font-size="7.5" text-anchor="end" fill="#222">0</text>
<line x1="166.3" y1="580.5" x2="168.3" y2="580.5" stroke="#333" stroke-width="0.8"/>
<text x="165.4" y="582.93" font-size="7.5" text-anchor="end" fill="#222">500</text>
<line x1="166.3" y1="557.5" x2="168.3" y2="557.5" stroke="#333" stroke-width="0.8"/>
<text x="165.4" y="560.17" font-size="7.5" text-anchor="end" fill="#222">1000</text>
<line x1="166.3" y1="534.5" x2="168.3" y2="534.5" stroke="#333" stroke-width="0.8"/>
<text x="165.4" y="537.4" font-size="7.5" text-anchor="end" fill="#222">1500</text>
<line x1="168.3" y1="603.5" x2="246.2" y2="603.5" stroke="#333" stroke-width="0.8"/>
<line x1="168.5" y1="603" x2="168.5" y2="605" stroke="#333" stroke-width="0.8"/>
<text x="168.3" y="614.07" font-size="7.6" text-anchor="middle" fill="#222">0</text>
<line x1="187.5" y1="603" x2="187.5" y2="605" stroke="#333" stroke-width="0.8"/>
<text x="187.78" y="614.07" font-size="7.6" text-anchor="middle" fill="#222">50</text>
<line x1="207.5" y1="603" x2="207.5" y2="605" stroke="#333" stroke-width="0.8"/>
<text x="207.25" y="614.07" font-size="7.6" text-anchor="middle" fill="#222">100</text>
<line x1="226.5" y1="603" x2="226.5" y2="605" stroke="#333" stroke-width="0.8"/>
<text x="226.72" y="614.07" font-size="7.6" text-anchor="middle" fill="#222">150</text>
<line x1="246.5" y1="603" x2="246.5" y2="605" stroke="#333" stroke-width="0.8"/>
<text x="246.2" y="614.07" font-size="7.6" text-anchor="middle" fill="#222">200</text>
<text x="207.2" y="623.81" font-size="7.8" text-anchor="middle" fill="#222">Day</text>
<polyline points="168.3,600.27 169.86,599.49 172.2,597.54 174.14,595.71 176.09,593.89 178.04,592.53 179.6,591.62 182.32,585.52 183.69,575.04 185.32,568.85 186.72,562.75" fill="none" stroke="#f07a52" stroke-width="0.8"/>
<rect x="166.4" y="598.37" width="3.8" height="3.8" fill="#fff" stroke="#f07a52" stroke-width="0.8"/>
<rect x="167.96" y="597.59" width="3.8" height="3.8" fill="#fff" stroke="#f07a52" stroke-width="0.8"/>
<rect x="170.3" y="595.64" width="3.8" height="3.8" fill="#fff" stroke="#f07a52" stroke-width="0.8"/>
<rect x="172.24" y="593.81" width="3.8" height="3.8" fill="#fff" stroke="#f07a52" stroke-width="0.8"/>
<rect x="174.19" y="591.99" width="3.8" height="3.8" fill="#fff" stroke="#f07a52" stroke-width="0.8"/>
<rect x="176.14" y="590.63" width="3.8" height="3.8" fill="#fff" stroke="#f07a52" stroke-width="0.8"/>
<rect x="177.7" y="589.72" width="3.8" height="3.8" fill="#fff" stroke="#f07a52" stroke-width="0.8"/>
<rect x="180.42" y="583.62" width="3.8" height="3.8" fill="#fff" stroke="#f07a52" stroke-width="0.8"/>
<rect x="181.79" y="573.14" width="3.8" height="3.8" fill="#fff" stroke="#f07a52" stroke-width="0.8"/>
<rect x="183.42" y="566.95" width="3.8" height="3.8" fill="#fff" stroke="#f07a52" stroke-width="0.8"/>
<rect x="184.82" y="560.85" width="3.8" height="3.8" fill="#fff" stroke="#f07a52" stroke-width="0.8"/>
<polyline points="168.3,600.72 171.42,600.27 174.14,598.9 176.87,597.99 179.99,597.54 183.88,596.17 187.78,594.8 189.72,593.89 191.67,587.97 193.62,583.88 194.79,580.23 196.34,572.36 197.71,567.17 198.99,549.68 200.24,526.91" fill="none" stroke="#f07a52" stroke-width="0.8"/>
<rect x="166.4" y="598.82" width="3.8" height="3.8" fill="#fff" stroke="#f07a52" stroke-width="0.8"/>
<rect x="169.52" y="598.37" width="3.8" height="3.8" fill="#fff" stroke="#f07a52" stroke-width="0.8"/>
<rect x="172.24" y="597" width="3.8" height="3.8" fill="#fff" stroke="#f07a52" stroke-width="0.8"/>
<rect x="174.97" y="596.09" width="3.8" height="3.8" fill="#fff" stroke="#f07a52" stroke-width="0.8"/>
<rect x="178.09" y="595.64" width="3.8" height="3.8" fill="#fff" stroke="#f07a52" stroke-width="0.8"/>
<rect x="181.98" y="594.27" width="3.8" height="3.8" fill="#fff" stroke="#f07a52" stroke-width="0.8"/>
<rect x="185.88" y="592.9" width="3.8" height="3.8" fill="#fff" stroke="#f07a52" stroke-width="0.8"/>
<rect x="187.82" y="591.99" width="3.8" height="3.8" fill="#fff" stroke="#f07a52" stroke-width="0.8"/>
<rect x="189.77" y="586.07" width="3.8" height="3.8" fill="#fff" stroke="#f07a52" stroke-width="0.8"/>
<rect x="191.72" y="581.98" width="3.8" height="3.8" fill="#fff" stroke="#f07a52" stroke-width="0.8"/>
<rect x="192.89" y="578.33" width="3.8" height="3.8" fill="#fff" stroke="#f07a52" stroke-width="0.8"/>
<rect x="194.44" y="570.46" width="3.8" height="3.8" fill="#fff" stroke="#f07a52" stroke-width="0.8"/>
<rect x="195.81" y="565.27" width="3.8" height="3.8" fill="#fff" stroke="#f07a52" stroke-width="0.8"/>
<rect x="197.09" y="547.78" width="3.8" height="3.8" fill="#fff" stroke="#f07a52" stroke-width="0.8"/>
<rect x="198.34" y="525.01" width="3.8" height="3.8" fill="#fff" stroke="#f07a52" stroke-width="0.8"/>
<polyline points="168.3,601.18 172.2,600.72 176.09,600.27 179.99,599.36 183.88,598.45 187.78,597.08 191.67,593.89 195.56,589.34 198.68,581.14 201.41,575.68 202.58,571.13 203.36,565.39 204.13,550.5 205.11,532.15" fill="none" stroke="#f07a52" stroke-width="0.8"/>
<rect x="166.4" y="599.28" width="3.8" height="3.8" fill="#fff" stroke="#f07a52" stroke-width="0.8"/>
<rect x="170.3" y="598.82" width="3.8" height="3.8" fill="#fff" stroke="#f07a52" stroke-width="0.8"/>
<rect x="174.19" y="598.37" width="3.8" height="3.8" fill="#fff" stroke="#f07a52" stroke-width="0.8"/>
<rect x="178.09" y="597.46" width="3.8" height="3.8" fill="#fff" stroke="#f07a52" stroke-width="0.8"/>
<rect x="181.98" y="596.55" width="3.8" height="3.8" fill="#fff" stroke="#f07a52" stroke-width="0.8"/>
<rect x="185.88" y="595.18" width="3.8" height="3.8" fill="#fff" stroke="#f07a52" stroke-width="0.8"/>
<rect x="189.77" y="591.99" width="3.8" height="3.8" fill="#fff" stroke="#f07a52" stroke-width="0.8"/>
<rect x="193.66" y="587.44" width="3.8" height="3.8" fill="#fff" stroke="#f07a52" stroke-width="0.8"/>
<rect x="196.78" y="579.24" width="3.8" height="3.8" fill="#fff" stroke="#f07a52" stroke-width="0.8"/>
<rect x="199.51" y="573.78" width="3.8" height="3.8" fill="#fff" stroke="#f07a52" stroke-width="0.8"/>
<rect x="200.68" y="569.23" width="3.8" height="3.8" fill="#fff" stroke="#f07a52" stroke-width="0.8"/>
<rect x="201.46" y="563.49" width="3.8" height="3.8" fill="#fff" stroke="#f07a52" stroke-width="0.8"/>
<rect x="202.23" y="548.6" width="3.8" height="3.8" fill="#fff" stroke="#f07a52" stroke-width="0.8"/>
<rect x="203.21" y="530.25" width="3.8" height="3.8" fill="#fff" stroke="#f07a52" stroke-width="0.8"/>
<polyline points="168.3,601.63 172.2,601.18 176.09,600.72 179.99,600.27 183.88,600.27 187.78,599.81 191.67,597.54 195.56,592.98 197.51,588.43 199.46,583.88 201.41,579.32 203.36,566.57 204.52,552.91" fill="none" stroke="#f07a52" stroke-width="0.8"/>
<rect x="166.4" y="599.73" width="3.8" height="3.8" fill="#fff" stroke="#f07a52" stroke-width="0.8"/>
<rect x="170.3" y="599.28" width="3.8" height="3.8" fill="#fff" stroke="#f07a52" stroke-width="0.8"/>
<rect x="174.19" y="598.82" width="3.8" height="3.8" fill="#fff" stroke="#f07a52" stroke-width="0.8"/>
<rect x="178.09" y="598.37" width="3.8" height="3.8" fill="#fff" stroke="#f07a52" stroke-width="0.8"/>
<rect x="181.98" y="598.37" width="3.8" height="3.8" fill="#fff" stroke="#f07a52" stroke-width="0.8"/>
<rect x="185.88" y="597.91" width="3.8" height="3.8" fill="#fff" stroke="#f07a52" stroke-width="0.8"/>
<rect x="189.77" y="595.64" width="3.8" height="3.8" fill="#fff" stroke="#f07a52" stroke-width="0.8"/>
<rect x="193.66" y="591.08" width="3.8" height="3.8" fill="#fff" stroke="#f07a52" stroke-width="0.8"/>
<rect x="195.61" y="586.53" width="3.8" height="3.8" fill="#fff" stroke="#f07a52" stroke-width="0.8"/>
<rect x="197.56" y="581.98" width="3.8" height="3.8" fill="#fff" stroke="#f07a52" stroke-width="0.8"/>
<rect x="199.51" y="577.42" width="3.8" height="3.8" fill="#fff" stroke="#f07a52" stroke-width="0.8"/>
<rect x="201.46" y="564.67" width="3.8" height="3.8" fill="#fff" stroke="#f07a52" stroke-width="0.8"/>
<rect x="202.62" y="551.01" width="3.8" height="3.8" fill="#fff" stroke="#f07a52" stroke-width="0.8"/>
<polyline points="168.3,601.63 174.14,601.18 179.99,600.72 185.83,600.72 189.72,598.45 192.45,595.26 194.79,591.16 197.51,585.7 199.46,589.8 201.41,587.06 203.36,583.88 204.13,591.62" fill="none" stroke="#f07a52" stroke-width="0.8"/>
<rect x="166.4" y="599.73" width="3.8" height="3.8" fill="#fff" stroke="#f07a52" stroke-width="0.8"/>
<rect x="172.24" y="599.28" width="3.8" height="3.8" fill="#fff" stroke="#f07a52" stroke-width="0.8"/>
<rect x="178.09" y="598.82" width="3.8" height="3.8" fill="#fff" stroke="#f07a52" stroke-width="0.8"/>
<rect x="183.93" y="598.82" width="3.8" height="3.8" fill="#fff" stroke="#f07a52" stroke-width="0.8"/>
<rect x="187.82" y="596.55" width="3.8" height="3.8" fill="#fff" stroke="#f07a52" stroke-width="0.8"/>
<rect x="190.55" y="593.36" width="3.8" height="3.8" fill="#fff" stroke="#f07a52" stroke-width="0.8"/>
<rect x="192.89" y="589.26" width="3.8" height="3.8" fill="#fff" stroke="#f07a52" stroke-width="0.8"/>
<rect x="195.61" y="583.8" width="3.8" height="3.8" fill="#fff" stroke="#f07a52" stroke-width="0.8"/>
<rect x="197.56" y="587.9" width="3.8" height="3.8" fill="#fff" stroke="#f07a52" stroke-width="0.8"/>
<rect x="199.51" y="585.16" width="3.8" height="3.8" fill="#fff" stroke="#f07a52" stroke-width="0.8"/>
<rect x="201.46" y="581.98" width="3.8" height="3.8" fill="#fff" stroke="#f07a52" stroke-width="0.8"/>
<rect x="202.23" y="589.72" width="3.8" height="3.8" fill="#fff" stroke="#f07a52" stroke-width="0.8"/>
<polyline points="168.3,600.72 174.14,599.36 178.04,597.08 181.93,597.99 185.83,597.54 189.72,595.71 191.67,592.53 193.62,589.34 196.34,591.16 198.68,585.7 200.24,577.5" fill="none" stroke="#f07a52" stroke-width="0.8"/>
<rect x="166.4" y="598.82" width="3.8" height="3.8" fill="#fff" stroke="#f07a52" stroke-width="0.8"/>
<rect x="172.24" y="597.46" width="3.8" height="3.8" fill="#fff" stroke="#f07a52" stroke-width="0.8"/>
<rect x="176.14" y="595.18" width="3.8" height="3.8" fill="#fff" stroke="#f07a52" stroke-width="0.8"/>
<rect x="180.03" y="596.09" width="3.8" height="3.8" fill="#fff" stroke="#f07a52" stroke-width="0.8"/>
<rect x="183.93" y="595.64" width="3.8" height="3.8" fill="#fff" stroke="#f07a52" stroke-width="0.8"/>
<rect x="187.82" y="593.81" width="3.8" height="3.8" fill="#fff" stroke="#f07a52" stroke-width="0.8"/>
<rect x="189.77" y="590.63" width="3.8" height="3.8" fill="#fff" stroke="#f07a52" stroke-width="0.8"/>
<rect x="191.72" y="587.44" width="3.8" height="3.8" fill="#fff" stroke="#f07a52" stroke-width="0.8"/>
<rect x="194.44" y="589.26" width="3.8" height="3.8" fill="#fff" stroke="#f07a52" stroke-width="0.8"/>
<rect x="196.78" y="583.8" width="3.8" height="3.8" fill="#fff" stroke="#f07a52" stroke-width="0.8"/>
<rect x="198.34" y="575.6" width="3.8" height="3.8" fill="#fff" stroke="#f07a52" stroke-width="0.8"/>
<polyline points="168.3,602.09 176.09,602.09 183.88,602.09 191.67,601.86 199.46,601.18 205.3,600.27 209.2,599.36 213.09,598.45 216.99,597.08 218.94,595.26 220.88,594.35 222.83,593.89 224.78,595.71 225.95,595.12 228.67,586.43 229.61,568.85 231.01,563.66" fill="none" stroke="#f07a52" stroke-width="0.8"/>
<rect x="166.4" y="600.19" width="3.8" height="3.8" fill="#fff" stroke="#f07a52" stroke-width="0.8"/>
<rect x="174.19" y="600.19" width="3.8" height="3.8" fill="#fff" stroke="#f07a52" stroke-width="0.8"/>
<rect x="181.98" y="600.19" width="3.8" height="3.8" fill="#fff" stroke="#f07a52" stroke-width="0.8"/>
<rect x="189.77" y="599.96" width="3.8" height="3.8" fill="#fff" stroke="#f07a52" stroke-width="0.8"/>
<rect x="197.56" y="599.28" width="3.8" height="3.8" fill="#fff" stroke="#f07a52" stroke-width="0.8"/>
<rect x="203.4" y="598.37" width="3.8" height="3.8" fill="#fff" stroke="#f07a52" stroke-width="0.8"/>
<rect x="207.3" y="597.46" width="3.8" height="3.8" fill="#fff" stroke="#f07a52" stroke-width="0.8"/>
<rect x="211.19" y="596.55" width="3.8" height="3.8" fill="#fff" stroke="#f07a52" stroke-width="0.8"/>
<rect x="215.09" y="595.18" width="3.8" height="3.8" fill="#fff" stroke="#f07a52" stroke-width="0.8"/>
<rect x="217.03" y="593.36" width="3.8" height="3.8" fill="#fff" stroke="#f07a52" stroke-width="0.8"/>
<rect x="218.98" y="592.45" width="3.8" height="3.8" fill="#fff" stroke="#f07a52" stroke-width="0.8"/>
<rect x="220.93" y="591.99" width="3.8" height="3.8" fill="#fff" stroke="#f07a52" stroke-width="0.8"/>
<rect x="222.88" y="593.81" width="3.8" height="3.8" fill="#fff" stroke="#f07a52" stroke-width="0.8"/>
<rect x="224.05" y="593.22" width="3.8" height="3.8" fill="#fff" stroke="#f07a52" stroke-width="0.8"/>
<rect x="226.77" y="584.53" width="3.8" height="3.8" fill="#fff" stroke="#f07a52" stroke-width="0.8"/>
<rect x="227.71" y="566.95" width="3.8" height="3.8" fill="#fff" stroke="#f07a52" stroke-width="0.8"/>
<rect x="229.11" y="561.76" width="3.8" height="3.8" fill="#fff" stroke="#f07a52" stroke-width="0.8"/>
<polyline points="168.3,602.09 176.09,601.86 183.88,601.63 187.78,600.72 191.67,601.18 195.56,601.63 199.46,601.63 203.36,601.18 207.25,600.27 211.15,598.9 215.04,597.99 218.94,596.63 222.83,596.17 226.72,596.63 228.67,593.89" fill="none" stroke="#f07a52" stroke-width="0.8"/>
<rect x="166.4" y="600.19" width="3.8" height="3.8" fill="#fff" stroke="#f07a52" stroke-width="0.8"/>
<rect x="174.19" y="599.96" width="3.8" height="3.8" fill="#fff" stroke="#f07a52" stroke-width="0.8"/>
<rect x="181.98" y="599.73" width="3.8" height="3.8" fill="#fff" stroke="#f07a52" stroke-width="0.8"/>
<rect x="185.88" y="598.82" width="3.8" height="3.8" fill="#fff" stroke="#f07a52" stroke-width="0.8"/>
<rect x="189.77" y="599.28" width="3.8" height="3.8" fill="#fff" stroke="#f07a52" stroke-width="0.8"/>
<rect x="193.66" y="599.73" width="3.8" height="3.8" fill="#fff" stroke="#f07a52" stroke-width="0.8"/>
<rect x="197.56" y="599.73" width="3.8" height="3.8" fill="#fff" stroke="#f07a52" stroke-width="0.8"/>
<rect x="201.46" y="599.28" width="3.8" height="3.8" fill="#fff" stroke="#f07a52" stroke-width="0.8"/>
<rect x="205.35" y="598.37" width="3.8" height="3.8" fill="#fff" stroke="#f07a52" stroke-width="0.8"/>
<rect x="209.25" y="597" width="3.8" height="3.8" fill="#fff" stroke="#f07a52" stroke-width="0.8"/>
<rect x="213.14" y="596.09" width="3.8" height="3.8" fill="#fff" stroke="#f07a52" stroke-width="0.8"/>
<rect x="217.03" y="594.73" width="3.8" height="3.8" fill="#fff" stroke="#f07a52" stroke-width="0.8"/>
<rect x="220.93" y="594.27" width="3.8" height="3.8" fill="#fff" stroke="#f07a52" stroke-width="0.8"/>
<rect x="224.82" y="594.73" width="3.8" height="3.8" fill="#fff" stroke="#f07a52" stroke-width="0.8"/>
<rect x="226.77" y="591.99" width="3.8" height="3.8" fill="#fff" stroke="#f07a52" stroke-width="0.8"/>
<polyline points="168.3,601.18 171.42,600.27 174.53,598.45 177.65,596.63 179.99,593.89 183.1,596.17 185.83,598.45 189.72,597.08 192.45,594.8 195.56,592.53" fill="none" stroke="#f07a52" stroke-width="0.8"/>
<rect x="166.4" y="599.28" width="3.8" height="3.8" fill="#fff" stroke="#f07a52" stroke-width="0.8"/>
<rect x="169.52" y="598.37" width="3.8" height="3.8" fill="#fff" stroke="#f07a52" stroke-width="0.8"/>
<rect x="172.63" y="596.55" width="3.8" height="3.8" fill="#fff" stroke="#f07a52" stroke-width="0.8"/>
<rect x="175.75" y="594.73" width="3.8" height="3.8" fill="#fff" stroke="#f07a52" stroke-width="0.8"/>
<rect x="178.09" y="591.99" width="3.8" height="3.8" fill="#fff" stroke="#f07a52" stroke-width="0.8"/>
<rect x="181.2" y="594.27" width="3.8" height="3.8" fill="#fff" stroke="#f07a52" stroke-width="0.8"/>
<rect x="183.93" y="596.55" width="3.8" height="3.8" fill="#fff" stroke="#f07a52" stroke-width="0.8"/>
<rect x="187.82" y="595.18" width="3.8" height="3.8" fill="#fff" stroke="#f07a52" stroke-width="0.8"/>
<rect x="190.55" y="592.9" width="3.8" height="3.8" fill="#fff" stroke="#f07a52" stroke-width="0.8"/>
<rect x="193.66" y="590.63" width="3.8" height="3.8" fill="#fff" stroke="#f07a52" stroke-width="0.8"/>
<line x1="28.5" y1="636.5" x2="43.7" y2="636.5" stroke="#222" stroke-width="0.8"/>
<circle cx="36.1" cy="636.8" r="2.5" fill="#111" stroke="#111" stroke-width="0.7"/>
<text x="48" y="639.46" font-size="7.4" fill="#222">Vehicle</text>
<line x1="28.5" y1="646.5" x2="43.7" y2="646.5" stroke="#6b8ad0" stroke-width="0.8"/>
<path d="M33.9 646.8H38.3M36.1 644.6V649M34.56 645.26L37.64 648.34M34.56 648.34L37.64 645.26" stroke="#4a6fc4" stroke-width="0.8" fill="none"/>
<text x="48" y="649.46" font-size="7.4" fill="#222">Olaparib (40 mg/kg) + AZD1775 (30 mg/kg)</text>
<line x1="28.5" y1="657.5" x2="43.7" y2="657.5" stroke="#9e1b32" stroke-width="0.8"/>
<polygon points="33.5,655.82 38.7,655.82 36.1,660.76" fill="#9e1b32" stroke="#9e1b32" stroke-width="0.6"/>
<text x="48" y="660.56" font-size="7.4" fill="#222">Anti-PD-1 (200µg)</text>
<line x1="28.5" y1="669.5" x2="43.7" y2="669.5" stroke="#f07a52" stroke-width="0.8"/>
<rect x="33.9" y="666.8" width="4.4" height="4.4" fill="#fff" stroke="#f07a52" stroke-width="0.85"/>
<text x="48" y="671.66" font-size="7.4" fill="#222">Olaparib + AZD1775 + Anti-PD-1</text>
<line x1="306.5" y1="603.4" x2="306.5" y2="537.5" stroke="#222" stroke-width="0.8"/>
<line x1="304.9" y1="603.5" x2="306.9" y2="603.5" stroke="#222" stroke-width="0.8"/>
<text x="303.7" y="605.45" font-size="5.7" text-anchor="end" fill="#222">0</text>
<line x1="304.9" y1="581.5" x2="306.9" y2="581.5" stroke="#222" stroke-width="0.8"/>
<text x="303.7" y="583.49" font-size="5.7" text-anchor="end" fill="#222">5000</text>
<line x1="304.9" y1="559.5" x2="306.9" y2="559.5" stroke="#222" stroke-width="0.8"/>
<text x="303.7" y="561.52" font-size="5.7" text-anchor="end" fill="#222">10000</text>
<line x1="304.9" y1="537.5" x2="306.9" y2="537.5" stroke="#222" stroke-width="0.8"/>
<text x="303.7" y="539.55" font-size="5.7" text-anchor="end" fill="#222">15000</text>
<line x1="319.5" y1="603.4" x2="319.5" y2="605.4" stroke="#222" stroke-width="0.8"/>
<line x1="336.5" y1="603.4" x2="336.5" y2="605.4" stroke="#222" stroke-width="0.8"/>
<line x1="353.5" y1="603.4" x2="353.5" y2="605.4" stroke="#222" stroke-width="0.8"/>
<line x1="371.5" y1="603.4" x2="371.5" y2="605.4" stroke="#222" stroke-width="0.8"/>
<line x1="388.5" y1="603.4" x2="388.5" y2="605.4" stroke="#222" stroke-width="0.8"/>
<line x1="306.9" y1="603.5" x2="393" y2="603.5" stroke="#111" stroke-width="1.1" stroke-dasharray="1.1,1.1"/>
<text x="320.7" y="611" font-size="6.4" text-anchor="end" transform="rotate(-45 320.7 611)" fill="#222">Vehicle</text>
<text x="337.7" y="611" font-size="6.4" text-anchor="end" transform="rotate(-45 337.7 611)" fill="#222">15</text>
<text x="355.1" y="611" font-size="6.4" text-anchor="end" transform="rotate(-45 355.1 611)" fill="#222">30</text>
<text x="372.8" y="611" font-size="6.4" text-anchor="end" transform="rotate(-45 372.8 611)" fill="#222">45</text>
<text x="390.5" y="611" font-size="6.4" text-anchor="end" transform="rotate(-45 390.5 611)" fill="#222">60</text>
<line x1="328.8" y1="620.5" x2="396.3" y2="620.5" stroke="#999" stroke-width="0.9"/>
<text x="361" y="629.69" font-size="5.8" text-anchor="middle" fill="#222">Olaparib +&#160; AZD1775 + anti-PD-1</text>
<text x="277.56" y="570.45" font-size="6.2" text-anchor="middle" transform="rotate(-90 277.56 570.45)" fill="#222">H2Kb/H2Db expression</text>
<text x="285.46" y="570.45" font-size="6.2" text-anchor="middle" transform="rotate(-90 285.46 570.45)" fill="#222">(on tumour, MFI)</text>
<line x1="319.5" y1="597.69" x2="319.5" y2="591.54" stroke="#222" stroke-width="0.8"/>
<line x1="315.1" y1="591.5" x2="323.1" y2="591.5" stroke="#222" stroke-width="0.8"/>
<line x1="315.1" y1="597.5" x2="323.1" y2="597.5" stroke="#222" stroke-width="0.8"/>
<line x1="313.1" y1="594.5" x2="325.1" y2="594.5" stroke="#222" stroke-width="0.8"/>
<circle cx="319.1" cy="590.22" r="1.6" fill="#111"/>
<circle cx="312.9" cy="591.1" r="1.6" fill="#111"/>
<circle cx="323.5" cy="592.42" r="1.6" fill="#111"/>
<circle cx="316.9" cy="593.73" r="1.6" fill="#111"/>
<circle cx="312.9" cy="594.61" r="1.6" fill="#111"/>
<circle cx="321.3" cy="594.61" r="1.6" fill="#111"/>
<circle cx="325.3" cy="595.49" r="1.6" fill="#111"/>
<circle cx="319.1" cy="596.81" r="1.6" fill="#111"/>
<circle cx="314.7" cy="598.13" r="1.6" fill="#111"/>
<circle cx="323.5" cy="599.01" r="1.6" fill="#111"/>
<line x1="336.5" y1="595.49" x2="336.5" y2="569.13" stroke="#222" stroke-width="0.8"/>
<line x1="332.1" y1="569.5" x2="340.1" y2="569.5" stroke="#222" stroke-width="0.8"/>
<line x1="332.1" y1="595.5" x2="340.1" y2="595.5" stroke="#222" stroke-width="0.8"/>
<line x1="330.1" y1="582.5" x2="342.1" y2="582.5" stroke="#222" stroke-width="0.8"/>
<circle cx="336.1" cy="555.07" r="1.6" fill="#111"/>
<circle cx="336.1" cy="562.98" r="1.6" fill="#111"/>
<circle cx="336.1" cy="568.25" r="1.6" fill="#111"/>
<circle cx="336.1" cy="581.43" r="1.6" fill="#111"/>
<circle cx="329.9" cy="582.75" r="1.6" fill="#111"/>
<circle cx="336.1" cy="590.22" r="1.6" fill="#111"/>
<circle cx="331.7" cy="592.42" r="1.6" fill="#111"/>
<circle cx="338.3" cy="594.61" r="1.6" fill="#111"/>
<circle cx="342.3" cy="594.61" r="1.6" fill="#111"/>
<line x1="353.5" y1="599.89" x2="353.5" y2="576.6" stroke="#222" stroke-width="0.8"/>
<line x1="349.5" y1="576.5" x2="357.5" y2="576.5" stroke="#222" stroke-width="0.8"/>
<line x1="349.5" y1="599.5" x2="357.5" y2="599.5" stroke="#222" stroke-width="0.8"/>
<line x1="347.5" y1="588.5" x2="359.5" y2="588.5" stroke="#222" stroke-width="0.8"/>
<circle cx="353.5" cy="564.3" r="1.6" fill="#111"/>
<circle cx="349.1" cy="566.5" r="1.6" fill="#111"/>
<circle cx="353.5" cy="582.31" r="1.6" fill="#111"/>
<circle cx="353.5" cy="590.22" r="1.6" fill="#111"/>
<circle cx="349.1" cy="592.42" r="1.6" fill="#111"/>
<circle cx="355.7" cy="594.61" r="1.6" fill="#111"/>
<circle cx="359.7" cy="595.49" r="1.6" fill="#111"/>
<circle cx="353.5" cy="599.01" r="1.6" fill="#111"/>
<circle cx="349.1" cy="600.76" r="1.6" fill="#111"/>
<line x1="371.5" y1="602.08" x2="371.5" y2="573.96" stroke="#222" stroke-width="0.8"/>
<line x1="367.2" y1="573.5" x2="375.2" y2="573.5" stroke="#222" stroke-width="0.8"/>
<line x1="367.2" y1="602.5" x2="375.2" y2="602.5" stroke="#222" stroke-width="0.8"/>
<line x1="365.2" y1="588.5" x2="377.2" y2="588.5" stroke="#222" stroke-width="0.8"/>
<circle cx="371.2" cy="573.53" r="1.6" fill="#111"/>
<circle cx="365" cy="573.96" r="1.6" fill="#111"/>
<circle cx="371.2" cy="579.24" r="1.6" fill="#111"/>
<circle cx="371.2" cy="584.95" r="1.6" fill="#111"/>
<circle cx="366.8" cy="588.02" r="1.6" fill="#111"/>
<circle cx="371.2" cy="592.42" r="1.6" fill="#111"/>
<circle cx="369" cy="596.81" r="1.6" fill="#111"/>
<circle cx="373.4" cy="599.89" r="1.6" fill="#111"/>
<circle cx="369" cy="601.64" r="1.6" fill="#111"/>
<line x1="388.5" y1="602.74" x2="388.5" y2="601.42" stroke="#222" stroke-width="0.8"/>
<line x1="384.9" y1="601.5" x2="392.9" y2="601.5" stroke="#222" stroke-width="0.8"/>
<line x1="384.9" y1="602.5" x2="392.9" y2="602.5" stroke="#222" stroke-width="0.8"/>
<line x1="382.9" y1="602.5" x2="394.9" y2="602.5" stroke="#222" stroke-width="0.8"/>
<circle cx="388.9" cy="601.64" r="1.6" fill="#111"/>
<circle cx="382.7" cy="601.86" r="1.6" fill="#111"/>
<circle cx="395.1" cy="602.08" r="1.6" fill="#111"/>
<circle cx="386.7" cy="602.08" r="1.6" fill="#111"/>
<circle cx="391.1" cy="602.08" r="1.6" fill="#111"/>
<circle cx="384.5" cy="602.3" r="1.6" fill="#111"/>
<circle cx="393.3" cy="602.52" r="1.6" fill="#111"/>
<circle cx="388.9" cy="602.52" r="1.6" fill="#111"/>
<line x1="316.5" y1="545.5" x2="335.2" y2="545.5" stroke="#222" stroke-width="0.9"/>
<path d="M326.2 539.15L326.2 542.45M327.63 539.97L324.77 541.62M327.63 541.62L324.77 539.97" stroke="#111" stroke-width="1.25" fill="none"/>
<line x1="336.2" y1="536.5" x2="388.3" y2="536.5" stroke="#222" stroke-width="0.9"/>
<path d="M360.55 529.85L360.55 533.15M361.98 530.67L359.12 532.33M361.98 532.33L359.12 530.67" stroke="#111" stroke-width="1.25" fill="none"/>
<path d="M364.45 529.85L364.45 533.15M365.88 530.67L363.02 532.33M365.88 532.33L363.02 530.67" stroke="#111" stroke-width="1.25" fill="none"/>
<line x1="444.5" y1="604.07" x2="444.5" y2="537.7" stroke="#222" stroke-width="0.8"/>
<line x1="442.2" y1="604.5" x2="444.2" y2="604.5" stroke="#222" stroke-width="0.8"/>
<text x="441" y="606.13" font-size="5.7" text-anchor="end" fill="#222">-20000</text>
<line x1="442.2" y1="590.5" x2="444.2" y2="590.5" stroke="#222" stroke-width="0.8"/>
<text x="441" y="592.85" font-size="5.7" text-anchor="end" fill="#222">0</text>
<line x1="442.2" y1="577.5" x2="444.2" y2="577.5" stroke="#222" stroke-width="0.8"/>
<text x="441" y="579.58" font-size="5.7" text-anchor="end" fill="#222">20000</text>
<line x1="442.2" y1="564.5" x2="444.2" y2="564.5" stroke="#222" stroke-width="0.8"/>
<text x="441" y="566.3" font-size="5.7" text-anchor="end" fill="#222">40000</text>
<line x1="442.2" y1="550.5" x2="444.2" y2="550.5" stroke="#222" stroke-width="0.8"/>
<text x="441" y="553.03" font-size="5.7" text-anchor="end" fill="#222">60000</text>
<line x1="442.2" y1="537.5" x2="444.2" y2="537.5" stroke="#222" stroke-width="0.8"/>
<text x="441" y="539.75" font-size="5.7" text-anchor="end" fill="#222">80000</text>
<line x1="444.2" y1="604.5" x2="537.5" y2="604.5" stroke="#222" stroke-width="0.8"/>
<line x1="456.5" y1="604" x2="456.5" y2="606" stroke="#222" stroke-width="0.8"/>
<line x1="473.5" y1="604" x2="473.5" y2="606" stroke="#222" stroke-width="0.8"/>
<line x1="490.5" y1="604" x2="490.5" y2="606" stroke="#222" stroke-width="0.8"/>
<line x1="508.5" y1="604" x2="508.5" y2="606" stroke="#222" stroke-width="0.8"/>
<line x1="525.5" y1="604" x2="525.5" y2="606" stroke="#222" stroke-width="0.8"/>
<line x1="444.2" y1="590.5" x2="537.5" y2="590.5" stroke="#111" stroke-width="1.1" stroke-dasharray="1.1,1.1"/>
<text x="458" y="611.6" font-size="6.4" text-anchor="end" transform="rotate(-45 458 611.6)" fill="#222">Vehicle</text>
<text x="475.1" y="611.6" font-size="6.4" text-anchor="end" transform="rotate(-45 475.1 611.6)" fill="#222">15</text>
<text x="492.5" y="611.6" font-size="6.4" text-anchor="end" transform="rotate(-45 492.5 611.6)" fill="#222">30</text>
<text x="509.9" y="611.6" font-size="6.4" text-anchor="end" transform="rotate(-45 509.9 611.6)" fill="#222">45</text>
<text x="527.3" y="611.6" font-size="6.4" text-anchor="end" transform="rotate(-45 527.3 611.6)" fill="#222">60</text>
<line x1="465.4" y1="621.5" x2="533.4" y2="621.5" stroke="#999" stroke-width="0.9"/>
<text x="499.7" y="629.69" font-size="5.8" text-anchor="middle" fill="#222">Olaparib +&#160; AZD1775 + anti-PD-1</text>
<text x="413.36" y="570.89" font-size="6.2" text-anchor="middle" transform="rotate(-90 413.36 570.89)" fill="#222">MHCIIexpression</text>
<text x="420.46" y="570.89" font-size="6.2" text-anchor="middle" transform="rotate(-90 420.46 570.89)" fill="#222">(on tumour, MFI)</text>
<line x1="456.5" y1="589.47" x2="456.5" y2="588.14" stroke="#222" stroke-width="0.8"/>
<line x1="452.4" y1="588.5" x2="460.4" y2="588.5" stroke="#222" stroke-width="0.8"/>
<line x1="452.4" y1="589.5" x2="460.4" y2="589.5" stroke="#222" stroke-width="0.8"/>
<line x1="450.4" y1="588.5" x2="462.4" y2="588.5" stroke="#222" stroke-width="0.8"/>
<circle cx="456.4" cy="588.14" r="1.6" fill="#111"/>
<circle cx="450.2" cy="588.48" r="1.6" fill="#111"/>
<circle cx="462.6" cy="588.48" r="1.6" fill="#111"/>
<circle cx="454.2" cy="588.81" r="1.6" fill="#111"/>
<circle cx="458.6" cy="588.81" r="1.6" fill="#111"/>
<circle cx="452" cy="589.14" r="1.6" fill="#111"/>
<circle cx="460.8" cy="589.14" r="1.6" fill="#111"/>
<circle cx="456.4" cy="589.47" r="1.6" fill="#111"/>
<circle cx="450.2" cy="589.47" r="1.6" fill="#111"/>
<line x1="473.5" y1="588.81" x2="473.5" y2="581.51" stroke="#222" stroke-width="0.8"/>
<line x1="469.5" y1="581.5" x2="477.5" y2="581.5" stroke="#222" stroke-width="0.8"/>
<line x1="469.5" y1="588.5" x2="477.5" y2="588.5" stroke="#222" stroke-width="0.8"/>
<line x1="467.5" y1="586.5" x2="479.5" y2="586.5" stroke="#222" stroke-width="0.8"/>
<circle cx="473.5" cy="578.85" r="1.6" fill="#111"/>
<circle cx="469.1" cy="581.51" r="1.6" fill="#111"/>
<circle cx="477.9" cy="582.83" r="1.6" fill="#111"/>
<circle cx="473.5" cy="585.49" r="1.6" fill="#111"/>
<circle cx="467.3" cy="586.15" r="1.6" fill="#111"/>
<circle cx="479.7" cy="586.82" r="1.6" fill="#111"/>
<circle cx="471.3" cy="587.48" r="1.6" fill="#111"/>
<circle cx="475.7" cy="587.48" r="1.6" fill="#111"/>
<circle cx="473.5" cy="588.14" r="1.6" fill="#111"/>
<line x1="490.5" y1="590.14" x2="490.5" y2="567.57" stroke="#222" stroke-width="0.8"/>
<line x1="486.9" y1="567.5" x2="494.9" y2="567.5" stroke="#222" stroke-width="0.8"/>
<line x1="486.9" y1="590.5" x2="494.9" y2="590.5" stroke="#222" stroke-width="0.8"/>
<line x1="484.9" y1="578.5" x2="496.9" y2="578.5" stroke="#222" stroke-width="0.8"/>
<circle cx="490.9" cy="551.64" r="1.6" fill="#111"/>
<circle cx="490.9" cy="570.22" r="1.6" fill="#111"/>
<circle cx="486.5" cy="572.22" r="1.6" fill="#111"/>
<circle cx="490.9" cy="578.85" r="1.6" fill="#111"/>
<circle cx="490.9" cy="584.16" r="1.6" fill="#111"/>
<circle cx="484.7" cy="585.49" r="1.6" fill="#111"/>
<circle cx="490.9" cy="589.47" r="1.6" fill="#111"/>
<circle cx="484.7" cy="590.14" r="1.6" fill="#111"/>
<circle cx="497.1" cy="590.14" r="1.6" fill="#111"/>
<line x1="508.5" y1="590.14" x2="508.5" y2="584.83" stroke="#222" stroke-width="0.8"/>
<line x1="504.3" y1="584.5" x2="512.3" y2="584.5" stroke="#222" stroke-width="0.8"/>
<line x1="504.3" y1="590.5" x2="512.3" y2="590.5" stroke="#222" stroke-width="0.8"/>
<line x1="502.3" y1="587.5" x2="514.3" y2="587.5" stroke="#222" stroke-width="0.8"/>
<circle cx="508.3" cy="582.83" r="1.6" fill="#111"/>
<circle cx="502.1" cy="583.5" r="1.6" fill="#111"/>
<circle cx="512.7" cy="585.49" r="1.6" fill="#111"/>
<circle cx="506.1" cy="586.82" r="1.6" fill="#111"/>
<circle cx="502.1" cy="587.48" r="1.6" fill="#111"/>
<circle cx="510.5" cy="588.14" r="1.6" fill="#111"/>
<circle cx="514.5" cy="588.81" r="1.6" fill="#111"/>
<circle cx="503.9" cy="589.47" r="1.6" fill="#111"/>
<circle cx="508.3" cy="590.14" r="1.6" fill="#111"/>
<line x1="525.5" y1="593.45" x2="525.5" y2="587.48" stroke="#222" stroke-width="0.8"/>
<line x1="521.7" y1="587.5" x2="529.7" y2="587.5" stroke="#222" stroke-width="0.8"/>
<line x1="521.7" y1="593.5" x2="529.7" y2="593.5" stroke="#222" stroke-width="0.8"/>
<line x1="519.7" y1="590.5" x2="531.7" y2="590.5" stroke="#222" stroke-width="0.8"/>
<circle cx="525.7" cy="574.87" r="1.6" fill="#111"/>
<circle cx="525.7" cy="582.83" r="1.6" fill="#111"/>
<circle cx="525.7" cy="588.81" r="1.6" fill="#111"/>
<circle cx="519.5" cy="590.14" r="1.6" fill="#111"/>
<circle cx="530.1" cy="590.47" r="1.6" fill="#111"/>
<circle cx="523.5" cy="590.67" r="1.6" fill="#111"/>
<circle cx="527.9" cy="590.8" r="1.6" fill="#111"/>
<circle cx="525.7" cy="590.8" r="1.6" fill="#111"/>
<line x1="453.7" y1="545.5" x2="490.5" y2="545.5" stroke="#222" stroke-width="0.9"/>
<path d="M470.15 539.15L470.15 542.45M471.58 539.97L468.72 541.62M471.58 541.62L468.72 539.97" stroke="#111" stroke-width="1.25" fill="none"/>
<path d="M474.05 539.15L474.05 542.45M475.48 539.97L472.62 541.62M475.48 541.62L472.62 539.97" stroke="#111" stroke-width="1.25" fill="none"/>
<line x1="490.5" y1="536.5" x2="510.5" y2="536.5" stroke="#222" stroke-width="0.9"/>
<path d="M500.7 530.15L500.7 533.45M502.13 530.97L499.27 532.62M502.13 532.62L499.27 530.97" stroke="#111" stroke-width="1.25" fill="none"/>
<line x1="490.5" y1="526.5" x2="527.9" y2="526.5" stroke="#222" stroke-width="0.9"/>
<path d="M509.5 519.85L509.5 523.15M510.93 520.67L508.07 522.33M510.93 522.33L508.07 520.67" stroke="#111" stroke-width="1.25" fill="none"/>
<line x1="584.5" y1="603.77" x2="584.5" y2="537.5" stroke="#222" stroke-width="0.8"/>
<line x1="582.2" y1="603.5" x2="584.2" y2="603.5" stroke="#222" stroke-width="0.8"/>
<text x="581" y="605.82" font-size="5.7" text-anchor="end" fill="#222">-5000</text>
<line x1="582.2" y1="587.5" x2="584.2" y2="587.5" stroke="#222" stroke-width="0.8"/>
<text x="581" y="589.25" font-size="5.7" text-anchor="end" fill="#222">0</text>
<line x1="582.2" y1="570.5" x2="584.2" y2="570.5" stroke="#222" stroke-width="0.8"/>
<text x="581" y="572.69" font-size="5.7" text-anchor="end" fill="#222">5000</text>
<line x1="582.2" y1="554.5" x2="584.2" y2="554.5" stroke="#222" stroke-width="0.8"/>
<text x="581" y="556.12" font-size="5.7" text-anchor="end" fill="#222">10000</text>
<line x1="582.2" y1="537.5" x2="584.2" y2="537.5" stroke="#222" stroke-width="0.8"/>
<text x="581" y="539.55" font-size="5.7" text-anchor="end" fill="#222">15000</text>
<line x1="584.2" y1="603.5" x2="674.2" y2="603.5" stroke="#222" stroke-width="0.8"/>
<line x1="596.5" y1="603.5" x2="596.5" y2="605.5" stroke="#222" stroke-width="0.8"/>
<line x1="613.5" y1="603.5" x2="613.5" y2="605.5" stroke="#222" stroke-width="0.8"/>
<line x1="630.5" y1="603.5" x2="630.5" y2="605.5" stroke="#222" stroke-width="0.8"/>
<line x1="648.5" y1="603.5" x2="648.5" y2="605.5" stroke="#222" stroke-width="0.8"/>
<line x1="665.5" y1="603.5" x2="665.5" y2="605.5" stroke="#222" stroke-width="0.8"/>
<line x1="584.2" y1="587.5" x2="674.2" y2="587.5" stroke="#111" stroke-width="1.1" stroke-dasharray="1.1,1.1"/>
<text x="597.9" y="611.1" font-size="6.4" text-anchor="end" transform="rotate(-45 597.9 611.1)" fill="#222">Vehicle</text>
<text x="615.1" y="611.1" font-size="6.4" text-anchor="end" transform="rotate(-45 615.1 611.1)" fill="#222">15</text>
<text x="632.4" y="611.1" font-size="6.4" text-anchor="end" transform="rotate(-45 632.4 611.1)" fill="#222">30</text>
<text x="649.6" y="611.1" font-size="6.4" text-anchor="end" transform="rotate(-45 649.6 611.1)" fill="#222">45</text>
<text x="666.9" y="611.1" font-size="6.4" text-anchor="end" transform="rotate(-45 666.9 611.1)" fill="#222">60</text>
<line x1="606.2" y1="621.5" x2="673.2" y2="621.5" stroke="#999" stroke-width="0.9"/>
<text x="639.8" y="629.69" font-size="5.8" text-anchor="middle" fill="#222">Olaparib +&#160; AZD1775 + anti-PD-1</text>
<text x="555.16" y="570.63" font-size="6.2" text-anchor="middle" transform="rotate(-90 555.16 570.63)" fill="#222">PD-L1 expression</text>
<text x="562.66" y="570.63" font-size="6.2" text-anchor="middle" transform="rotate(-90 562.66 570.63)" fill="#222">(on tumour, MFI)</text>
<line x1="596.5" y1="584.88" x2="596.5" y2="579.58" stroke="#222" stroke-width="0.8"/>
<line x1="592.3" y1="579.5" x2="600.3" y2="579.5" stroke="#222" stroke-width="0.8"/>
<line x1="592.3" y1="584.5" x2="600.3" y2="584.5" stroke="#222" stroke-width="0.8"/>
<line x1="590.3" y1="582.5" x2="602.3" y2="582.5" stroke="#222" stroke-width="0.8"/>
<circle cx="596.3" cy="576.6" r="1.6" fill="#111"/>
<circle cx="591.9" cy="578.59" r="1.6" fill="#111"/>
<circle cx="600.7" cy="579.91" r="1.6" fill="#111"/>
<circle cx="596.3" cy="581.24" r="1.6" fill="#111"/>
<circle cx="590.1" cy="582.23" r="1.6" fill="#111"/>
<circle cx="602.5" cy="583.22" r="1.6" fill="#111"/>
<circle cx="594.1" cy="583.89" r="1.6" fill="#111"/>
<circle cx="598.5" cy="583.89" r="1.6" fill="#111"/>
<circle cx="590.1" cy="584.55" r="1.6" fill="#111"/>
<circle cx="596.3" cy="585.54" r="1.6" fill="#111"/>
<line x1="613.5" y1="572.29" x2="613.5" y2="554.73" stroke="#222" stroke-width="0.8"/>
<line x1="609.5" y1="554.5" x2="617.5" y2="554.5" stroke="#222" stroke-width="0.8"/>
<line x1="609.5" y1="572.5" x2="617.5" y2="572.5" stroke="#222" stroke-width="0.8"/>
<line x1="607.5" y1="563.5" x2="619.5" y2="563.5" stroke="#222" stroke-width="0.8"/>
<circle cx="613.5" cy="549.76" r="1.6" fill="#111"/>
<circle cx="607.3" cy="550.75" r="1.6" fill="#111"/>
<circle cx="613.5" cy="555.72" r="1.6" fill="#111"/>
<circle cx="613.5" cy="560.69" r="1.6" fill="#111"/>
<circle cx="613.5" cy="565.66" r="1.6" fill="#111"/>
<circle cx="609.1" cy="567.32" r="1.6" fill="#111"/>
<circle cx="617.9" cy="568.98" r="1.6" fill="#111"/>
<circle cx="613.5" cy="572.29" r="1.6" fill="#111"/>
<circle cx="607.3" cy="573.28" r="1.6" fill="#111"/>
<line x1="630.5" y1="585.87" x2="630.5" y2="583.22" stroke="#222" stroke-width="0.8"/>
<line x1="626.8" y1="583.5" x2="634.8" y2="583.5" stroke="#222" stroke-width="0.8"/>
<line x1="626.8" y1="585.5" x2="634.8" y2="585.5" stroke="#222" stroke-width="0.8"/>
<line x1="624.8" y1="584.5" x2="636.8" y2="584.5" stroke="#222" stroke-width="0.8"/>
<circle cx="630.8" cy="582.23" r="1.6" fill="#111"/>
<circle cx="624.6" cy="583.22" r="1.6" fill="#111"/>
<circle cx="635.2" cy="583.89" r="1.6" fill="#111"/>
<circle cx="628.6" cy="584.22" r="1.6" fill="#111"/>
<circle cx="633" cy="584.55" r="1.6" fill="#111"/>
<circle cx="626.4" cy="584.88" r="1.6" fill="#111"/>
<circle cx="630.8" cy="585.21" r="1.6" fill="#111"/>
<circle cx="637" cy="585.54" r="1.6" fill="#111"/>
<circle cx="624.6" cy="586.54" r="1.6" fill="#111"/>
<line x1="648.5" y1="587.2" x2="648.5" y2="586.54" stroke="#222" stroke-width="0.8"/>
<line x1="644" y1="586.5" x2="652" y2="586.5" stroke="#222" stroke-width="0.8"/>
<line x1="644" y1="587.5" x2="652" y2="587.5" stroke="#222" stroke-width="0.8"/>
<line x1="642" y1="586.5" x2="654" y2="586.5" stroke="#222" stroke-width="0.8"/>
<circle cx="648" cy="586.54" r="1.6" fill="#111"/>
<circle cx="641.8" cy="586.7" r="1.6" fill="#111"/>
<circle cx="654.2" cy="586.87" r="1.6" fill="#111"/>
<circle cx="645.8" cy="586.87" r="1.6" fill="#111"/>
<circle cx="650.2" cy="587.03" r="1.6" fill="#111"/>
<circle cx="643.6" cy="587.03" r="1.6" fill="#111"/>
<circle cx="652.4" cy="587.2" r="1.6" fill="#111"/>
<circle cx="648" cy="587.2" r="1.6" fill="#111"/>
<line x1="665.5" y1="587.2" x2="665.5" y2="585.54" stroke="#222" stroke-width="0.8"/>
<line x1="661.3" y1="585.5" x2="669.3" y2="585.5" stroke="#222" stroke-width="0.8"/>
<line x1="661.3" y1="587.5" x2="669.3" y2="587.5" stroke="#222" stroke-width="0.8"/>
<line x1="659.3" y1="586.5" x2="671.3" y2="586.5" stroke="#222" stroke-width="0.8"/>
<circle cx="665.3" cy="584.22" r="1.6" fill="#111"/>
<circle cx="660.9" cy="585.87" r="1.6" fill="#111"/>
<circle cx="669.7" cy="586.21" r="1.6" fill="#111"/>
<circle cx="665.3" cy="586.54" r="1.6" fill="#111"/>
<circle cx="663.1" cy="586.54" r="1.6" fill="#111"/>
<circle cx="667.5" cy="586.87" r="1.6" fill="#111"/>
<circle cx="659.1" cy="586.87" r="1.6" fill="#111"/>
<line x1="593.8" y1="545.5" x2="612.7" y2="545.5" stroke="#222" stroke-width="0.9"/>
<path d="M598.5 539.6L598.5 542.2M599.63 540.25L597.37 541.55M599.63 541.55L597.37 540.25" stroke="#111" stroke-width="1.25" fill="none"/>
<path d="M601.9 539.6L601.9 542.2M603.03 540.25L600.77 541.55M603.03 541.55L600.77 540.25" stroke="#111" stroke-width="1.25" fill="none"/>
<path d="M605.3 539.6L605.3 542.2M606.43 540.25L604.17 541.55M606.43 541.55L604.17 540.25" stroke="#111" stroke-width="1.25" fill="none"/>
<path d="M608.7 539.6L608.7 542.2M609.83 540.25L607.57 541.55M609.83 541.55L607.57 540.25" stroke="#111" stroke-width="1.25" fill="none"/>
<line x1="615" y1="536.5" x2="631.8" y2="536.5" stroke="#999" stroke-width="1.2"/>
<path d="M618.2 530.2L618.2 532.8M619.33 530.85L617.07 532.15M619.33 532.15L617.07 530.85" stroke="#111" stroke-width="1.25" fill="none"/>
<path d="M621.6 530.2L621.6 532.8M622.73 530.85L620.47 532.15M622.73 532.15L620.47 530.85" stroke="#111" stroke-width="1.25" fill="none"/>
<path d="M625 530.2L625 532.8M626.13 530.85L623.87 532.15M626.13 532.15L623.87 530.85" stroke="#111" stroke-width="1.25" fill="none"/>
<path d="M628.4 530.2L628.4 532.8M629.53 530.85L627.27 532.15M629.53 532.15L627.27 530.85" stroke="#111" stroke-width="1.25" fill="none"/>
<line x1="613" y1="525.5" x2="650.9" y2="525.5" stroke="#222" stroke-width="0.9"/>
<path d="M626.7 519.5L626.7 522.1M627.83 520.15L625.57 521.45M627.83 521.45L625.57 520.15" stroke="#111" stroke-width="1.25" fill="none"/>
<path d="M630.1 519.5L630.1 522.1M631.23 520.15L628.97 521.45M631.23 521.45L628.97 520.15" stroke="#111" stroke-width="1.25" fill="none"/>
<path d="M633.5 519.5L633.5 522.1M634.63 520.15L632.37 521.45M634.63 521.45L632.37 520.15" stroke="#111" stroke-width="1.25" fill="none"/>
<path d="M636.9 519.5L636.9 522.1M638.03 520.15L635.77 521.45M638.03 521.45L635.77 520.15" stroke="#111" stroke-width="1.25" fill="none"/>
<line x1="613" y1="516.5" x2="667.7" y2="516.5" stroke="#222" stroke-width="0.9"/>
<path d="M634.9 510.4L634.9 513M636.03 511.05L633.77 512.35M636.03 512.35L633.77 511.05" stroke="#111" stroke-width="1.25" fill="none"/>
<path d="M638.3 510.4L638.3 513M639.43 511.05L637.17 512.35M639.43 512.35L637.17 511.05" stroke="#111" stroke-width="1.25" fill="none"/>
<path d="M641.7 510.4L641.7 513M642.83 511.05L640.57 512.35M642.83 512.35L640.57 511.05" stroke="#111" stroke-width="1.25" fill="none"/>
<path d="M645.1 510.4L645.1 513M646.23 511.05L643.97 512.35M646.23 512.35L643.97 511.05" stroke="#111" stroke-width="1.25" fill="none"/>
<line x1="60.5" y1="794.13" x2="60.5" y2="726.4" stroke="#222" stroke-width="0.8"/>
<line x1="58.7" y1="794.5" x2="60.7" y2="794.5" stroke="#222" stroke-width="0.8"/>
<text x="57.5" y="796.44" font-size="6.4" text-anchor="end" fill="#222">-5</text>
<line x1="58.7" y1="777.5" x2="60.7" y2="777.5" stroke="#222" stroke-width="0.8"/>
<text x="57.5" y="779.5" font-size="6.4" text-anchor="end" fill="#222">0</text>
<line x1="58.7" y1="760.5" x2="60.7" y2="760.5" stroke="#222" stroke-width="0.8"/>
<text x="57.5" y="762.57" font-size="6.4" text-anchor="end" fill="#222">5</text>
<line x1="58.7" y1="743.5" x2="60.7" y2="743.5" stroke="#222" stroke-width="0.8"/>
<text x="57.5" y="745.64" font-size="6.4" text-anchor="end" fill="#222">10</text>
<line x1="58.7" y1="726.5" x2="60.7" y2="726.5" stroke="#222" stroke-width="0.8"/>
<text x="57.5" y="728.7" font-size="6.4" text-anchor="end" fill="#222">15</text>
<line x1="60.7" y1="794.5" x2="162.3" y2="794.5" stroke="#222" stroke-width="0.8"/>
<line x1="73.5" y1="794.4" x2="73.5" y2="796.4" stroke="#222" stroke-width="0.8"/>
<line x1="92.5" y1="794.4" x2="92.5" y2="796.4" stroke="#222" stroke-width="0.8"/>
<line x1="110.5" y1="794.4" x2="110.5" y2="796.4" stroke="#222" stroke-width="0.8"/>
<line x1="129.5" y1="794.4" x2="129.5" y2="796.4" stroke="#222" stroke-width="0.8"/>
<line x1="148.5" y1="794.4" x2="148.5" y2="796.4" stroke="#222" stroke-width="0.8"/>
<line x1="60.7" y1="777.5" x2="162.3" y2="777.5" stroke="#111" stroke-width="1.1" stroke-dasharray="1.1,1.1"/>
<text x="75.7" y="802.4" font-size="7.0" text-anchor="end" transform="rotate(-45 75.7 802.4)" fill="#222">Vehicle</text>
<text x="94.3" y="802.4" font-size="7.0" text-anchor="end" transform="rotate(-45 94.3 802.4)" fill="#222">15</text>
<text x="113.2" y="802.4" font-size="7.0" text-anchor="end" transform="rotate(-45 113.2 802.4)" fill="#222">30</text>
<text x="131.8" y="802.4" font-size="7.0" text-anchor="end" transform="rotate(-45 131.8 802.4)" fill="#222">45</text>
<text x="150.8" y="802.4" font-size="7.0" text-anchor="end" transform="rotate(-45 150.8 802.4)" fill="#222">60</text>
<line x1="82.9" y1="812.5" x2="158.1" y2="812.5" stroke="#999" stroke-width="0.9"/>
<text x="119.5" y="820.37" font-size="6.3" text-anchor="middle" fill="#222">Olaparib +&#160; AZD1775 + anti-PD-1</text>
<text x="47.19" y="760.27" font-size="7.3" text-anchor="middle" transform="rotate(-90 47.19 760.27)" fill="#222">% CD8&#160; T of live cells</text>
<line x1="73.5" y1="775.85" x2="73.5" y2="771.1" stroke="#222" stroke-width="0.8"/>
<line x1="69.4" y1="771.5" x2="77.4" y2="771.5" stroke="#222" stroke-width="0.8"/>
<line x1="69.4" y1="775.5" x2="77.4" y2="775.5" stroke="#222" stroke-width="0.8"/>
<line x1="67.4" y1="773.5" x2="79.4" y2="773.5" stroke="#222" stroke-width="0.8"/>
<circle cx="73.4" cy="769.41" r="1.6" fill="#111"/>
<circle cx="67.2" cy="769.41" r="1.6" fill="#111"/>
<circle cx="77.8" cy="772.12" r="1.6" fill="#111"/>
<circle cx="71.2" cy="773.14" r="1.6" fill="#111"/>
<circle cx="67.2" cy="773.81" r="1.6" fill="#111"/>
<circle cx="75.6" cy="773.81" r="1.6" fill="#111"/>
<circle cx="79.6" cy="774.49" r="1.6" fill="#111"/>
<circle cx="73.4" cy="775.17" r="1.6" fill="#111"/>
<circle cx="69" cy="775.51" r="1.6" fill="#111"/>
<circle cx="77.8" cy="776.18" r="1.6" fill="#111"/>
<line x1="92.5" y1="773.81" x2="92.5" y2="756.88" stroke="#222" stroke-width="0.8"/>
<line x1="88" y1="756.5" x2="96" y2="756.5" stroke="#222" stroke-width="0.8"/>
<line x1="88" y1="773.5" x2="96" y2="773.5" stroke="#222" stroke-width="0.8"/>
<line x1="86" y1="765.5" x2="98" y2="765.5" stroke="#222" stroke-width="0.8"/>
<circle cx="92" cy="745.03" r="1.6" fill="#111"/>
<circle cx="92" cy="763.65" r="1.6" fill="#111"/>
<circle cx="85.8" cy="765.01" r="1.6" fill="#111"/>
<circle cx="96.4" cy="765.69" r="1.6" fill="#111"/>
<circle cx="89.8" cy="766.36" r="1.6" fill="#111"/>
<circle cx="94.2" cy="767.04" r="1.6" fill="#111"/>
<circle cx="85.8" cy="768.73" r="1.6" fill="#111"/>
<circle cx="89.8" cy="771.1" r="1.6" fill="#111"/>
<circle cx="94.2" cy="773.81" r="1.6" fill="#111"/>
<line x1="110.5" y1="772.8" x2="110.5" y2="762.98" stroke="#222" stroke-width="0.8"/>
<line x1="106.9" y1="762.5" x2="114.9" y2="762.5" stroke="#222" stroke-width="0.8"/>
<line x1="106.9" y1="772.5" x2="114.9" y2="772.5" stroke="#222" stroke-width="0.8"/>
<line x1="104.9" y1="767.5" x2="116.9" y2="767.5" stroke="#222" stroke-width="0.8"/>
<circle cx="110.9" cy="759.59" r="1.6" fill="#111"/>
<circle cx="106.5" cy="763.65" r="1.6" fill="#111"/>
<circle cx="110.9" cy="765.35" r="1.6" fill="#111"/>
<circle cx="115.3" cy="767.38" r="1.6" fill="#111"/>
<circle cx="106.5" cy="768.39" r="1.6" fill="#111"/>
<circle cx="110.9" cy="768.73" r="1.6" fill="#111"/>
<circle cx="117.1" cy="770.43" r="1.6" fill="#111"/>
<circle cx="104.7" cy="772.12" r="1.6" fill="#111"/>
<circle cx="113.1" cy="773.14" r="1.6" fill="#111"/>
<line x1="129.5" y1="777.2" x2="129.5" y2="769.75" stroke="#222" stroke-width="0.8"/>
<line x1="125.5" y1="769.5" x2="133.5" y2="769.5" stroke="#222" stroke-width="0.8"/>
<line x1="125.5" y1="777.5" x2="133.5" y2="777.5" stroke="#222" stroke-width="0.8"/>
<line x1="123.5" y1="774.5" x2="135.5" y2="774.5" stroke="#222" stroke-width="0.8"/>
<circle cx="129.5" cy="763.99" r="1.6" fill="#111"/>
<circle cx="129.5" cy="773.14" r="1.6" fill="#111"/>
<circle cx="125.1" cy="775.17" r="1.6" fill="#111"/>
<circle cx="133.9" cy="775.51" r="1.6" fill="#111"/>
<circle cx="129.5" cy="775.85" r="1.6" fill="#111"/>
<circle cx="127.3" cy="776.18" r="1.6" fill="#111"/>
<circle cx="131.7" cy="776.18" r="1.6" fill="#111"/>
<circle cx="123.3" cy="776.52" r="1.6" fill="#111"/>
<circle cx="135.7" cy="776.86" r="1.6" fill="#111"/>
<line x1="148.5" y1="776.86" x2="148.5" y2="775.51" stroke="#222" stroke-width="0.8"/>
<line x1="144.5" y1="775.5" x2="152.5" y2="775.5" stroke="#222" stroke-width="0.8"/>
<line x1="144.5" y1="776.5" x2="152.5" y2="776.5" stroke="#222" stroke-width="0.8"/>
<line x1="142.5" y1="776.5" x2="154.5" y2="776.5" stroke="#222" stroke-width="0.8"/>
<circle cx="148.5" cy="775.51" r="1.6" fill="#111"/>
<circle cx="142.3" cy="775.85" r="1.6" fill="#111"/>
<circle cx="154.7" cy="776.18" r="1.6" fill="#111"/>
<circle cx="146.3" cy="776.18" r="1.6" fill="#111"/>
<circle cx="150.7" cy="776.52" r="1.6" fill="#111"/>
<circle cx="144.1" cy="776.52" r="1.6" fill="#111"/>
<circle cx="152.9" cy="776.86" r="1.6" fill="#111"/>
<line x1="70.6" y1="734.5" x2="91.8" y2="734.5" stroke="#999" stroke-width="1.2"/>
<path d="M81.4 728.8L81.4 732M82.79 729.6L80.01 731.2M82.79 731.2L80.01 729.6" stroke="#111" stroke-width="1.25" fill="none"/>
<line x1="91.4" y1="724.5" x2="129.5" y2="724.5" stroke="#222" stroke-width="0.9"/>
<path d="M108.35 718.8L108.35 722M109.74 719.6L106.96 721.2M109.74 721.2L106.96 719.6" stroke="#111" stroke-width="1.25" fill="none"/>
<path d="M112.45 718.8L112.45 722M113.84 719.6L111.06 721.2M113.84 721.2L111.06 719.6" stroke="#111" stroke-width="1.25" fill="none"/>
<line x1="91.4" y1="715.5" x2="149.6" y2="715.5" stroke="#222" stroke-width="0.9"/>
<path d="M115.9 709.3L115.9 712.5M117.29 710.1L114.51 711.7M117.29 711.7L114.51 710.1" stroke="#111" stroke-width="1.25" fill="none"/>
<path d="M120 709.3L120 712.5M121.39 710.1L118.61 711.7M121.39 711.7L118.61 710.1" stroke="#111" stroke-width="1.25" fill="none"/>
<path d="M124.1 709.3L124.1 712.5M125.49 710.1L122.71 711.7M125.49 711.7L122.71 710.1" stroke="#111" stroke-width="1.25" fill="none"/>
<line x1="109.4" y1="734.5" x2="152.8" y2="734.5" stroke="#222" stroke-width="0.9"/>
<path d="M130.5 728.4L130.5 731.6M131.89 729.2L129.11 730.8M131.89 730.8L129.11 729.2" stroke="#111" stroke-width="1.25" fill="none"/>
<line x1="208.5" y1="794.5" x2="208.5" y2="726.7" stroke="#222" stroke-width="0.8"/>
<line x1="206.3" y1="794.5" x2="208.3" y2="794.5" stroke="#222" stroke-width="0.8"/>
<text x="205.1" y="796.8" font-size="6.4" text-anchor="end" fill="#222">0</text>
<line x1="206.3" y1="771.5" x2="208.3" y2="771.5" stroke="#222" stroke-width="0.8"/>
<text x="205.1" y="774.2" font-size="6.4" text-anchor="end" fill="#222">50</text>
<line x1="206.3" y1="749.5" x2="208.3" y2="749.5" stroke="#222" stroke-width="0.8"/>
<text x="205.1" y="751.6" font-size="6.4" text-anchor="end" fill="#222">100</text>
<line x1="206.3" y1="726.5" x2="208.3" y2="726.5" stroke="#222" stroke-width="0.8"/>
<text x="205.1" y="729" font-size="6.4" text-anchor="end" fill="#222">150</text>
<line x1="220.5" y1="794.5" x2="220.5" y2="796.5" stroke="#222" stroke-width="0.8"/>
<line x1="239.5" y1="794.5" x2="239.5" y2="796.5" stroke="#222" stroke-width="0.8"/>
<line x1="258.5" y1="794.5" x2="258.5" y2="796.5" stroke="#222" stroke-width="0.8"/>
<line x1="277.5" y1="794.5" x2="277.5" y2="796.5" stroke="#222" stroke-width="0.8"/>
<line x1="296.5" y1="794.5" x2="296.5" y2="796.5" stroke="#222" stroke-width="0.8"/>
<line x1="208.3" y1="794.5" x2="310.5" y2="794.5" stroke="#111" stroke-width="1.1" stroke-dasharray="1.1,1.1"/>
<text x="222.8" y="802.5" font-size="7.0" text-anchor="end" transform="rotate(-45 222.8 802.5)" fill="#222">Vehicle</text>
<text x="241.5" y="802.5" font-size="7.0" text-anchor="end" transform="rotate(-45 241.5 802.5)" fill="#222">15</text>
<text x="260.9" y="802.5" font-size="7.0" text-anchor="end" transform="rotate(-45 260.9 802.5)" fill="#222">30</text>
<text x="280.1" y="802.5" font-size="7.0" text-anchor="end" transform="rotate(-45 280.1 802.5)" fill="#222">45</text>
<text x="298.8" y="802.5" font-size="7.0" text-anchor="end" transform="rotate(-45 298.8 802.5)" fill="#222">60</text>
<line x1="231" y1="812.5" x2="305.8" y2="812.5" stroke="#999" stroke-width="0.9"/>
<text x="268.4" y="821.27" font-size="6.3" text-anchor="middle" fill="#222">Olaparib +&#160; AZD1775 + anti-PD-1</text>
<text x="190.59" y="760.6" font-size="7.3" text-anchor="middle" transform="rotate(-90 190.59 760.6)" fill="#222">% Granzyme B<tspan font-size="4.5" dy="-3">+</tspan><tspan dy="3"> CD8&#160; T cells</tspan></text>
<line x1="220.5" y1="788.62" x2="220.5" y2="782.3" stroke="#222" stroke-width="0.8"/>
<line x1="216.5" y1="782.5" x2="224.5" y2="782.5" stroke="#222" stroke-width="0.8"/>
<line x1="216.5" y1="788.5" x2="224.5" y2="788.5" stroke="#222" stroke-width="0.8"/>
<line x1="214.5" y1="785.5" x2="226.5" y2="785.5" stroke="#222" stroke-width="0.8"/>
<circle cx="220.5" cy="780.04" r="1.6" fill="#111"/>
<circle cx="216.1" cy="781.84" r="1.6" fill="#111"/>
<circle cx="224.9" cy="783.2" r="1.6" fill="#111"/>
<circle cx="220.5" cy="784.56" r="1.6" fill="#111"/>
<circle cx="214.3" cy="785.46" r="1.6" fill="#111"/>
<circle cx="226.7" cy="786.36" r="1.6" fill="#111"/>
<circle cx="218.3" cy="787.27" r="1.6" fill="#111"/>
<circle cx="222.7" cy="788.17" r="1.6" fill="#111"/>
<circle cx="214.3" cy="789.08" r="1.6" fill="#111"/>
<circle cx="226.7" cy="789.98" r="1.6" fill="#111"/>
<line x1="239.5" y1="786.82" x2="239.5" y2="776.42" stroke="#222" stroke-width="0.8"/>
<line x1="235.2" y1="776.5" x2="243.2" y2="776.5" stroke="#222" stroke-width="0.8"/>
<line x1="235.2" y1="786.5" x2="243.2" y2="786.5" stroke="#222" stroke-width="0.8"/>
<line x1="233.2" y1="781.5" x2="245.2" y2="781.5" stroke="#222" stroke-width="0.8"/>
<circle cx="239.2" cy="771" r="1.6" fill="#111"/>
<circle cx="234.8" cy="774.16" r="1.6" fill="#111"/>
<circle cx="239.2" cy="777.32" r="1.6" fill="#111"/>
<circle cx="233" cy="778.68" r="1.6" fill="#111"/>
<circle cx="243.6" cy="780.94" r="1.6" fill="#111"/>
<circle cx="237" cy="781.84" r="1.6" fill="#111"/>
<circle cx="233" cy="783.2" r="1.6" fill="#111"/>
<circle cx="241.4" cy="785.46" r="1.6" fill="#111"/>
<circle cx="237" cy="786.36" r="1.6" fill="#111"/>
<circle cx="239.2" cy="793.14" r="1.6" fill="#111"/>
<line x1="258.5" y1="775.06" x2="258.5" y2="759.24" stroke="#222" stroke-width="0.8"/>
<line x1="254.6" y1="759.5" x2="262.6" y2="759.5" stroke="#222" stroke-width="0.8"/>
<line x1="254.6" y1="775.5" x2="262.6" y2="775.5" stroke="#222" stroke-width="0.8"/>
<line x1="252.6" y1="767.5" x2="264.6" y2="767.5" stroke="#222" stroke-width="0.8"/>
<circle cx="258.6" cy="751.11" r="1.6" fill="#111"/>
<circle cx="258.6" cy="760.6" r="1.6" fill="#111"/>
<circle cx="254.2" cy="763.76" r="1.6" fill="#111"/>
<circle cx="258.6" cy="766.48" r="1.6" fill="#111"/>
<circle cx="264.8" cy="767.38" r="1.6" fill="#111"/>
<circle cx="254.2" cy="769.64" r="1.6" fill="#111"/>
<circle cx="258.6" cy="774.16" r="1.6" fill="#111"/>
<circle cx="252.4" cy="775.52" r="1.6" fill="#111"/>
<circle cx="264.8" cy="775.52" r="1.6" fill="#111"/>
<line x1="277.5" y1="775.06" x2="277.5" y2="761.96" stroke="#222" stroke-width="0.8"/>
<line x1="273.8" y1="761.5" x2="281.8" y2="761.5" stroke="#222" stroke-width="0.8"/>
<line x1="273.8" y1="775.5" x2="281.8" y2="775.5" stroke="#222" stroke-width="0.8"/>
<line x1="271.8" y1="768.5" x2="283.8" y2="768.5" stroke="#222" stroke-width="0.8"/>
<circle cx="277.8" cy="758.34" r="1.6" fill="#111"/>
<circle cx="273.4" cy="760.6" r="1.6" fill="#111"/>
<circle cx="280" cy="762.86" r="1.6" fill="#111"/>
<circle cx="275.6" cy="765.12" r="1.6" fill="#111"/>
<circle cx="280" cy="768.28" r="1.6" fill="#111"/>
<circle cx="273.4" cy="769.64" r="1.6" fill="#111"/>
<circle cx="284" cy="771.9" r="1.6" fill="#111"/>
<circle cx="277.8" cy="775.52" r="1.6" fill="#111"/>
<circle cx="277.8" cy="782.3" r="1.6" fill="#111"/>
<line x1="296.5" y1="793.6" x2="296.5" y2="790.88" stroke="#222" stroke-width="0.8"/>
<line x1="292.5" y1="790.5" x2="300.5" y2="790.5" stroke="#222" stroke-width="0.8"/>
<line x1="292.5" y1="793.5" x2="300.5" y2="793.5" stroke="#222" stroke-width="0.8"/>
<line x1="290.5" y1="792.5" x2="302.5" y2="792.5" stroke="#222" stroke-width="0.8"/>
<circle cx="296.5" cy="790.88" r="1.6" fill="#111"/>
<circle cx="290.3" cy="791.79" r="1.6" fill="#111"/>
<circle cx="302.7" cy="792.24" r="1.6" fill="#111"/>
<circle cx="294.3" cy="792.24" r="1.6" fill="#111"/>
<circle cx="298.7" cy="792.69" r="1.6" fill="#111"/>
<circle cx="292.1" cy="792.69" r="1.6" fill="#111"/>
<circle cx="296.5" cy="793.14" r="1.6" fill="#111"/>
<circle cx="300.9" cy="793.6" r="1.6" fill="#111"/>
<line x1="216.6" y1="696.5" x2="281.3" y2="696.5" stroke="#222" stroke-width="0.9"/>
<path d="M242.45 690.3L242.45 693.5M243.84 691.1L241.06 692.7M243.84 692.7L241.06 691.1" stroke="#111" stroke-width="1.25" fill="none"/>
<path d="M246.55 690.3L246.55 693.5M247.94 691.1L245.16 692.7M247.94 692.7L245.16 691.1" stroke="#111" stroke-width="1.25" fill="none"/>
<path d="M250.65 690.3L250.65 693.5M252.04 691.1L249.26 692.7M252.04 692.7L249.26 691.1" stroke="#111" stroke-width="1.25" fill="none"/>
<path d="M254.75 690.3L254.75 693.5M256.14 691.1L253.36 692.7M256.14 692.7L253.36 691.1" stroke="#111" stroke-width="1.25" fill="none"/>
<line x1="216.6" y1="707.5" x2="258.6" y2="707.5" stroke="#222" stroke-width="0.9"/>
<path d="M231.45 701.2L231.45 704.4M232.84 702L230.06 703.6M232.84 703.6L230.06 702" stroke="#111" stroke-width="1.25" fill="none"/>
<path d="M235.55 701.2L235.55 704.4M236.94 702L234.16 703.6M236.94 703.6L234.16 702" stroke="#111" stroke-width="1.25" fill="none"/>
<path d="M239.65 701.2L239.65 704.4M241.04 702L238.26 703.6M241.04 703.6L238.26 702" stroke="#111" stroke-width="1.25" fill="none"/>
<path d="M243.75 701.2L243.75 704.4M245.14 702L242.36 703.6M245.14 703.6L242.36 702" stroke="#111" stroke-width="1.25" fill="none"/>
<line x1="242.7" y1="715.5" x2="296" y2="715.5" stroke="#999" stroke-width="1.2"/>
<path d="M267.55 708.9L267.55 712.1M268.94 709.7L266.16 711.3M268.94 711.3L266.16 709.7" stroke="#111" stroke-width="1.25" fill="none"/>
<path d="M271.65 708.9L271.65 712.1M273.04 709.7L270.26 711.3M273.04 711.3L270.26 709.7" stroke="#111" stroke-width="1.25" fill="none"/>
<line x1="242.7" y1="725.5" x2="277.8" y2="725.5" stroke="#222" stroke-width="0.9"/>
<path d="M256.2 719.4L256.2 722.6M257.59 720.2L254.81 721.8M257.59 721.8L254.81 720.2" stroke="#111" stroke-width="1.25" fill="none"/>
<path d="M260.3 719.4L260.3 722.6M261.69 720.2L258.91 721.8M261.69 721.8L258.91 720.2" stroke="#111" stroke-width="1.25" fill="none"/>
<path d="M264.4 719.4L264.4 722.6M265.79 720.2L263.01 721.8M265.79 721.8L263.01 720.2" stroke="#111" stroke-width="1.25" fill="none"/>
<line x1="242.7" y1="735.5" x2="258.6" y2="735.5" stroke="#999" stroke-width="1.2"/>
<path d="M246.1 729.5L246.1 732.7M247.49 730.3L244.71 731.9M247.49 731.9L244.71 730.3" stroke="#111" stroke-width="1.25" fill="none"/>
<path d="M250.2 729.5L250.2 732.7M251.59 730.3L248.81 731.9M251.59 731.9L248.81 730.3" stroke="#111" stroke-width="1.25" fill="none"/>
<path d="M254.3 729.5L254.3 732.7M255.69 730.3L252.91 731.9M255.69 731.9L252.91 730.3" stroke="#111" stroke-width="1.25" fill="none"/>
<line x1="277.8" y1="735.5" x2="297.6" y2="735.5" stroke="#999" stroke-width="1.2"/>
<path d="M282.15 729.5L282.15 732.7M283.54 730.3L280.76 731.9M283.54 731.9L280.76 730.3" stroke="#111" stroke-width="1.25" fill="none"/>
<path d="M286.25 729.5L286.25 732.7M287.64 730.3L284.86 731.9M287.64 731.9L284.86 730.3" stroke="#111" stroke-width="1.25" fill="none"/>
<path d="M290.35 729.5L290.35 732.7M291.74 730.3L288.96 731.9M291.74 731.9L288.96 730.3" stroke="#111" stroke-width="1.25" fill="none"/>
<path d="M294.45 729.5L294.45 732.7M295.84 730.3L293.06 731.9M295.84 731.9L293.06 730.3" stroke="#111" stroke-width="1.25" fill="none"/>
<line x1="261" y1="745.5" x2="296.5" y2="745.5" stroke="#222" stroke-width="0.9"/>
<path d="M272.35 739.3L272.35 742.5M273.74 740.1L270.96 741.7M273.74 741.7L270.96 740.1" stroke="#111" stroke-width="1.25" fill="none"/>
<path d="M276.45 739.3L276.45 742.5M277.84 740.1L275.06 741.7M277.84 741.7L275.06 740.1" stroke="#111" stroke-width="1.25" fill="none"/>
<path d="M280.55 739.3L280.55 742.5M281.94 740.1L279.16 741.7M281.94 741.7L279.16 740.1" stroke="#111" stroke-width="1.25" fill="none"/>
<path d="M284.65 739.3L284.65 742.5M286.04 740.1L283.26 741.7M286.04 741.7L283.26 740.1" stroke="#111" stroke-width="1.25" fill="none"/>
<line x1="355.5" y1="794.5" x2="355.5" y2="726.5" stroke="#222" stroke-width="0.8"/>
<line x1="353.2" y1="794.5" x2="355.2" y2="794.5" stroke="#222" stroke-width="0.8"/>
<text x="352" y="796.8" font-size="6.4" text-anchor="end" fill="#222">0</text>
<line x1="353.2" y1="777.5" x2="355.2" y2="777.5" stroke="#222" stroke-width="0.8"/>
<text x="352" y="779.8" font-size="6.4" text-anchor="end" fill="#222">20</text>
<line x1="353.2" y1="760.5" x2="355.2" y2="760.5" stroke="#222" stroke-width="0.8"/>
<text x="352" y="762.8" font-size="6.4" text-anchor="end" fill="#222">40</text>
<line x1="353.2" y1="743.5" x2="355.2" y2="743.5" stroke="#222" stroke-width="0.8"/>
<text x="352" y="745.8" font-size="6.4" text-anchor="end" fill="#222">60</text>
<line x1="353.2" y1="726.5" x2="355.2" y2="726.5" stroke="#222" stroke-width="0.8"/>
<text x="352" y="728.8" font-size="6.4" text-anchor="end" fill="#222">80</text>
<line x1="368.5" y1="794.5" x2="368.5" y2="796.5" stroke="#222" stroke-width="0.8"/>
<line x1="387.5" y1="794.5" x2="387.5" y2="796.5" stroke="#222" stroke-width="0.8"/>
<line x1="406.5" y1="794.5" x2="406.5" y2="796.5" stroke="#222" stroke-width="0.8"/>
<line x1="425.5" y1="794.5" x2="425.5" y2="796.5" stroke="#222" stroke-width="0.8"/>
<line x1="444.5" y1="794.5" x2="444.5" y2="796.5" stroke="#222" stroke-width="0.8"/>
<line x1="355.2" y1="794.5" x2="456.6" y2="794.5" stroke="#111" stroke-width="1.1" stroke-dasharray="1.1,1.1"/>
<text x="370.8" y="802.5" font-size="7.0" text-anchor="end" transform="rotate(-45 370.8 802.5)" fill="#222">Vehicle</text>
<text x="389.4" y="802.5" font-size="7.0" text-anchor="end" transform="rotate(-45 389.4 802.5)" fill="#222">15</text>
<text x="408.5" y="802.5" font-size="7.0" text-anchor="end" transform="rotate(-45 408.5 802.5)" fill="#222">30</text>
<text x="427.9" y="802.5" font-size="7.0" text-anchor="end" transform="rotate(-45 427.9 802.5)" fill="#222">45</text>
<text x="446.5" y="802.5" font-size="7.0" text-anchor="end" transform="rotate(-45 446.5 802.5)" fill="#222">60</text>
<line x1="379.7" y1="813.5" x2="452.9" y2="813.5" stroke="#999" stroke-width="0.9"/>
<text x="415.6" y="821.07" font-size="6.3" text-anchor="middle" fill="#222">Olaparib +&#160; AZD1775 + anti-PD-1</text>
<text x="341.69" y="760.5" font-size="7.3" text-anchor="middle" transform="rotate(-90 341.69 760.5)" fill="#222">% IFNγ<tspan font-size="4.5" dy="-3">+</tspan><tspan dy="3"> CD8&#160; T cells</tspan></text>
<line x1="368.5" y1="790.25" x2="368.5" y2="785.15" stroke="#222" stroke-width="0.8"/>
<line x1="364.5" y1="785.5" x2="372.5" y2="785.5" stroke="#222" stroke-width="0.8"/>
<line x1="364.5" y1="790.5" x2="372.5" y2="790.5" stroke="#222" stroke-width="0.8"/>
<line x1="362.5" y1="787.5" x2="374.5" y2="787.5" stroke="#222" stroke-width="0.8"/>
<circle cx="368.5" cy="781.75" r="1.6" fill="#111"/>
<circle cx="364.1" cy="784.3" r="1.6" fill="#111"/>
<circle cx="370.7" cy="786" r="1.6" fill="#111"/>
<circle cx="374.7" cy="786.85" r="1.6" fill="#111"/>
<circle cx="366.3" cy="787.7" r="1.6" fill="#111"/>
<circle cx="362.3" cy="788.55" r="1.6" fill="#111"/>
<circle cx="370.7" cy="789.4" r="1.6" fill="#111"/>
<circle cx="374.7" cy="789.4" r="1.6" fill="#111"/>
<circle cx="366.3" cy="790.25" r="1.6" fill="#111"/>
<circle cx="362.3" cy="791.1" r="1.6" fill="#111"/>
<line x1="387.5" y1="789.4" x2="387.5" y2="779.2" stroke="#222" stroke-width="0.8"/>
<line x1="383.1" y1="779.5" x2="391.1" y2="779.5" stroke="#222" stroke-width="0.8"/>
<line x1="383.1" y1="789.5" x2="391.1" y2="789.5" stroke="#222" stroke-width="0.8"/>
<line x1="381.1" y1="785.5" x2="393.1" y2="785.5" stroke="#222" stroke-width="0.8"/>
<circle cx="387.1" cy="769.85" r="1.6" fill="#111"/>
<circle cx="387.1" cy="783.45" r="1.6" fill="#111"/>
<circle cx="380.9" cy="784.3" r="1.6" fill="#111"/>
<circle cx="391.5" cy="785.15" r="1.6" fill="#111"/>
<circle cx="384.9" cy="786" r="1.6" fill="#111"/>
<circle cx="389.3" cy="786" r="1.6" fill="#111"/>
<circle cx="380.9" cy="786.85" r="1.6" fill="#111"/>
<circle cx="393.3" cy="787.7" r="1.6" fill="#111"/>
<circle cx="387.1" cy="788.55" r="1.6" fill="#111"/>
<line x1="406.5" y1="786.85" x2="406.5" y2="766.45" stroke="#222" stroke-width="0.8"/>
<line x1="402.2" y1="766.5" x2="410.2" y2="766.5" stroke="#222" stroke-width="0.8"/>
<line x1="402.2" y1="786.5" x2="410.2" y2="786.5" stroke="#222" stroke-width="0.8"/>
<line x1="400.2" y1="777.5" x2="412.2" y2="777.5" stroke="#222" stroke-width="0.8"/>
<circle cx="406.2" cy="749.45" r="1.6" fill="#111"/>
<circle cx="406.2" cy="775.8" r="1.6" fill="#111"/>
<circle cx="401.8" cy="777.5" r="1.6" fill="#111"/>
<circle cx="410.6" cy="779.2" r="1.6" fill="#111"/>
<circle cx="406.2" cy="780.05" r="1.6" fill="#111"/>
<circle cx="400" cy="780.9" r="1.6" fill="#111"/>
<circle cx="412.4" cy="782.6" r="1.6" fill="#111"/>
<circle cx="404" cy="784.3" r="1.6" fill="#111"/>
<circle cx="408.4" cy="786" r="1.6" fill="#111"/>
<line x1="425.5" y1="766.45" x2="425.5" y2="741.8" stroke="#222" stroke-width="0.8"/>
<line x1="421.6" y1="741.5" x2="429.6" y2="741.5" stroke="#222" stroke-width="0.8"/>
<line x1="421.6" y1="766.5" x2="429.6" y2="766.5" stroke="#222" stroke-width="0.8"/>
<line x1="419.6" y1="753.5" x2="431.6" y2="753.5" stroke="#222" stroke-width="0.8"/>
<circle cx="425.6" cy="735" r="1.6" fill="#111"/>
<circle cx="425.6" cy="741.8" r="1.6" fill="#111"/>
<circle cx="421.2" cy="743.5" r="1.6" fill="#111"/>
<circle cx="430" cy="745.2" r="1.6" fill="#111"/>
<circle cx="425.6" cy="747.75" r="1.6" fill="#111"/>
<circle cx="425.6" cy="753.7" r="1.6" fill="#111"/>
<circle cx="425.6" cy="760.5" r="1.6" fill="#111"/>
<circle cx="425.6" cy="769" r="1.6" fill="#111"/>
<circle cx="425.6" cy="776.65" r="1.6" fill="#111"/>
<line x1="444.5" y1="791.1" x2="444.5" y2="785.15" stroke="#222" stroke-width="0.8"/>
<line x1="440.2" y1="785.5" x2="448.2" y2="785.5" stroke="#222" stroke-width="0.8"/>
<line x1="440.2" y1="791.5" x2="448.2" y2="791.5" stroke="#222" stroke-width="0.8"/>
<line x1="438.2" y1="787.5" x2="450.2" y2="787.5" stroke="#222" stroke-width="0.8"/>
<circle cx="444.2" cy="785.15" r="1.6" fill="#111"/>
<circle cx="438" cy="786" r="1.6" fill="#111"/>
<circle cx="448.6" cy="786.85" r="1.6" fill="#111"/>
<circle cx="442" cy="787.7" r="1.6" fill="#111"/>
<circle cx="446.4" cy="788.55" r="1.6" fill="#111"/>
<circle cx="438" cy="790.25" r="1.6" fill="#111"/>
<circle cx="450.4" cy="791.95" r="1.6" fill="#111"/>
<line x1="364" y1="684.5" x2="428.5" y2="684.5" stroke="#222" stroke-width="0.9"/>
<path d="M389.65 678.2L389.65 681.4M391.04 679L388.26 680.6M391.04 680.6L388.26 679" stroke="#111" stroke-width="1.25" fill="none"/>
<path d="M393.75 678.2L393.75 681.4M395.14 679L392.36 680.6M395.14 680.6L392.36 679" stroke="#111" stroke-width="1.25" fill="none"/>
<path d="M397.85 678.2L397.85 681.4M399.24 679L396.46 680.6M399.24 680.6L396.46 679" stroke="#111" stroke-width="1.25" fill="none"/>
<path d="M401.95 678.2L401.95 681.4M403.34 679L400.56 680.6M403.34 680.6L400.56 679" stroke="#111" stroke-width="1.25" fill="none"/>
<line x1="364" y1="694.5" x2="406.2" y2="694.5" stroke="#222" stroke-width="0.9"/>
<path d="M384.6 688.1L384.6 691.3M385.99 688.9L383.21 690.5M385.99 690.5L383.21 688.9" stroke="#111" stroke-width="1.25" fill="none"/>
<line x1="391.3" y1="705.5" x2="425.6" y2="705.5" stroke="#999" stroke-width="1.2"/>
<path d="M401.55 699.1L401.55 702.3M402.94 699.9L400.16 701.5M402.94 701.5L400.16 699.9" stroke="#111" stroke-width="1.25" fill="none"/>
<path d="M405.65 699.1L405.65 702.3M407.04 699.9L404.26 701.5M407.04 701.5L404.26 699.9" stroke="#111" stroke-width="1.25" fill="none"/>
<path d="M409.75 699.1L409.75 702.3M411.14 699.9L408.36 701.5M411.14 701.5L408.36 699.9" stroke="#111" stroke-width="1.25" fill="none"/>
<path d="M413.85 699.1L413.85 702.3M415.24 699.9L412.46 701.5M415.24 701.5L412.46 699.9" stroke="#111" stroke-width="1.25" fill="none"/>
<line x1="407.7" y1="714.5" x2="444.2" y2="714.5" stroke="#222" stroke-width="0.9"/>
<path d="M426.1 708L426.1 711.2M427.49 708.8L424.71 710.4M427.49 710.4L424.71 708.8" stroke="#111" stroke-width="1.25" fill="none"/>
<line x1="423.8" y1="723.5" x2="444.2" y2="723.5" stroke="#222" stroke-width="0.9"/>
<path d="M428.15 717.2L428.15 720.4M429.54 718L426.76 719.6M429.54 719.6L426.76 718" stroke="#111" stroke-width="1.25" fill="none"/>
<path d="M432.25 717.2L432.25 720.4M433.64 718L430.86 719.6M433.64 719.6L430.86 718" stroke="#111" stroke-width="1.25" fill="none"/>
<path d="M436.35 717.2L436.35 720.4M437.74 718L434.96 719.6M437.74 719.6L434.96 718" stroke="#111" stroke-width="1.25" fill="none"/>
<path d="M440.45 717.2L440.45 720.4M441.84 718L439.06 719.6M441.84 719.6L439.06 718" stroke="#111" stroke-width="1.25" fill="none"/>
<line x1="406.2" y1="732.5" x2="425.6" y2="732.5" stroke="#222" stroke-width="0.9"/>
<path d="M409.45 726.4L409.45 729.6M410.84 727.2L408.06 728.8M410.84 728.8L408.06 727.2" stroke="#111" stroke-width="1.25" fill="none"/>
<path d="M413.55 726.4L413.55 729.6M414.94 727.2L412.16 728.8M414.94 728.8L412.16 727.2" stroke="#111" stroke-width="1.25" fill="none"/>
<path d="M417.65 726.4L417.65 729.6M419.04 727.2L416.26 728.8M419.04 728.8L416.26 727.2" stroke="#111" stroke-width="1.25" fill="none"/>
<path d="M421.75 726.4L421.75 729.6M423.14 727.2L420.36 728.8M423.14 728.8L420.36 727.2" stroke="#111" stroke-width="1.25" fill="none"/>
<line x1="60.5" y1="940.32" x2="60.5" y2="872.4" stroke="#222" stroke-width="0.8"/>
<line x1="58.2" y1="940.5" x2="60.2" y2="940.5" stroke="#222" stroke-width="0.8"/>
<text x="57" y="942.62" font-size="6.4" text-anchor="end" fill="#222">-5</text>
<line x1="58.2" y1="929.5" x2="60.2" y2="929.5" stroke="#222" stroke-width="0.8"/>
<text x="57" y="931.3" font-size="6.4" text-anchor="end" fill="#222">0</text>
<line x1="58.2" y1="917.5" x2="60.2" y2="917.5" stroke="#222" stroke-width="0.8"/>
<text x="57" y="919.98" font-size="6.4" text-anchor="end" fill="#222">5</text>
<line x1="58.2" y1="906.5" x2="60.2" y2="906.5" stroke="#222" stroke-width="0.8"/>
<text x="57" y="908.66" font-size="6.4" text-anchor="end" fill="#222">10</text>
<line x1="58.2" y1="895.5" x2="60.2" y2="895.5" stroke="#222" stroke-width="0.8"/>
<text x="57" y="897.34" font-size="6.4" text-anchor="end" fill="#222">15</text>
<line x1="58.2" y1="883.5" x2="60.2" y2="883.5" stroke="#222" stroke-width="0.8"/>
<text x="57" y="886.02" font-size="6.4" text-anchor="end" fill="#222">20</text>
<line x1="58.2" y1="872.5" x2="60.2" y2="872.5" stroke="#222" stroke-width="0.8"/>
<text x="57" y="874.7" font-size="6.4" text-anchor="end" fill="#222">25</text>
<line x1="60.2" y1="940.5" x2="162" y2="940.5" stroke="#222" stroke-width="0.8"/>
<line x1="73.5" y1="940.2" x2="73.5" y2="942.2" stroke="#222" stroke-width="0.8"/>
<line x1="92.5" y1="940.2" x2="92.5" y2="942.2" stroke="#222" stroke-width="0.8"/>
<line x1="111.5" y1="940.2" x2="111.5" y2="942.2" stroke="#222" stroke-width="0.8"/>
<line x1="130.5" y1="940.2" x2="130.5" y2="942.2" stroke="#222" stroke-width="0.8"/>
<line x1="148.5" y1="940.2" x2="148.5" y2="942.2" stroke="#222" stroke-width="0.8"/>
<line x1="60.2" y1="929.5" x2="162" y2="929.5" stroke="#111" stroke-width="1.1" stroke-dasharray="1.1,1.1"/>
<text x="75.9" y="948.2" font-size="7.0" text-anchor="end" transform="rotate(-45 75.9 948.2)" fill="#222">Vehicle</text>
<text x="94.6" y="948.2" font-size="7.0" text-anchor="end" transform="rotate(-45 94.6 948.2)" fill="#222">15</text>
<text x="113.7" y="948.2" font-size="7.0" text-anchor="end" transform="rotate(-45 113.7 948.2)" fill="#222">30</text>
<text x="132.4" y="948.2" font-size="7.0" text-anchor="end" transform="rotate(-45 132.4 948.2)" fill="#222">45</text>
<text x="151.1" y="948.2" font-size="7.0" text-anchor="end" transform="rotate(-45 151.1 948.2)" fill="#222">60</text>
<line x1="83.4" y1="958.5" x2="158.1" y2="958.5" stroke="#999" stroke-width="0.9"/>
<text x="120.7" y="966.77" font-size="6.3" text-anchor="middle" fill="#222">Olaparib +&#160; AZD1775 + anti-PD-1</text>
<text x="47.29" y="906.36" font-size="7.3" text-anchor="middle" transform="rotate(-90 47.29 906.36)" fill="#222">% CD4&#160; T of live cells</text>
<line x1="73.5" y1="927.42" x2="73.5" y2="925.6" stroke="#222" stroke-width="0.8"/>
<line x1="69.6" y1="925.5" x2="77.6" y2="925.5" stroke="#222" stroke-width="0.8"/>
<line x1="69.6" y1="927.5" x2="77.6" y2="927.5" stroke="#222" stroke-width="0.8"/>
<line x1="67.6" y1="926.5" x2="79.6" y2="926.5" stroke="#222" stroke-width="0.8"/>
<circle cx="73.6" cy="924.92" r="1.6" fill="#111"/>
<circle cx="67.4" cy="925.6" r="1.6" fill="#111"/>
<circle cx="79.8" cy="926.06" r="1.6" fill="#111"/>
<circle cx="71.4" cy="926.28" r="1.6" fill="#111"/>
<circle cx="75.8" cy="926.74" r="1.6" fill="#111"/>
<circle cx="69.2" cy="926.74" r="1.6" fill="#111"/>
<circle cx="73.6" cy="927.19" r="1.6" fill="#111"/>
<circle cx="78" cy="927.42" r="1.6" fill="#111"/>
<circle cx="67.4" cy="927.87" r="1.6" fill="#111"/>
<line x1="92.5" y1="924.92" x2="92.5" y2="916.55" stroke="#222" stroke-width="0.8"/>
<line x1="88.3" y1="916.5" x2="96.3" y2="916.5" stroke="#222" stroke-width="0.8"/>
<line x1="88.3" y1="924.5" x2="96.3" y2="924.5" stroke="#222" stroke-width="0.8"/>
<line x1="86.3" y1="921.5" x2="98.3" y2="921.5" stroke="#222" stroke-width="0.8"/>
<circle cx="92.3" cy="908.17" r="1.6" fill="#111"/>
<circle cx="92.3" cy="918.81" r="1.6" fill="#111"/>
<circle cx="87.9" cy="920.4" r="1.6" fill="#111"/>
<circle cx="96.7" cy="922.21" r="1.6" fill="#111"/>
<circle cx="92.3" cy="923.34" r="1.6" fill="#111"/>
<circle cx="86.1" cy="924.02" r="1.6" fill="#111"/>
<circle cx="98.5" cy="924.47" r="1.6" fill="#111"/>
<circle cx="90.1" cy="925.6" r="1.6" fill="#111"/>
<circle cx="94.5" cy="926.74" r="1.6" fill="#111"/>
<line x1="111.5" y1="918.36" x2="111.5" y2="896.17" stroke="#222" stroke-width="0.8"/>
<line x1="107.4" y1="896.5" x2="115.4" y2="896.5" stroke="#222" stroke-width="0.8"/>
<line x1="107.4" y1="918.5" x2="115.4" y2="918.5" stroke="#222" stroke-width="0.8"/>
<line x1="105.4" y1="907.5" x2="117.4" y2="907.5" stroke="#222" stroke-width="0.8"/>
<circle cx="111.4" cy="885.3" r="1.6" fill="#111"/>
<circle cx="111.4" cy="900.7" r="1.6" fill="#111"/>
<circle cx="105.2" cy="901.83" r="1.6" fill="#111"/>
<circle cx="115.8" cy="902.96" r="1.6" fill="#111"/>
<circle cx="111.4" cy="906.36" r="1.6" fill="#111"/>
<circle cx="107" cy="908.62" r="1.6" fill="#111"/>
<circle cx="113.6" cy="910.89" r="1.6" fill="#111"/>
<circle cx="111.4" cy="917.68" r="1.6" fill="#111"/>
<circle cx="111.4" cy="924.47" r="1.6" fill="#111"/>
<line x1="130.5" y1="930.13" x2="130.5" y2="897.3" stroke="#222" stroke-width="0.8"/>
<line x1="126.1" y1="897.5" x2="134.1" y2="897.5" stroke="#222" stroke-width="0.8"/>
<line x1="126.1" y1="930.5" x2="134.1" y2="930.5" stroke="#222" stroke-width="0.8"/>
<line x1="124.1" y1="914.5" x2="136.1" y2="914.5" stroke="#222" stroke-width="0.8"/>
<circle cx="130.1" cy="883.72" r="1.6" fill="#111"/>
<circle cx="130.1" cy="890.06" r="1.6" fill="#111"/>
<circle cx="130.1" cy="900.02" r="1.6" fill="#111"/>
<circle cx="130.1" cy="922.21" r="1.6" fill="#111"/>
<circle cx="125.7" cy="924.02" r="1.6" fill="#111"/>
<circle cx="134.5" cy="924.47" r="1.6" fill="#111"/>
<circle cx="130.1" cy="924.47" r="1.6" fill="#111"/>
<circle cx="127.9" cy="925.6" r="1.6" fill="#111"/>
<circle cx="132.3" cy="929" r="1.6" fill="#111"/>
<line x1="148.5" y1="928.55" x2="148.5" y2="926.96" stroke="#222" stroke-width="0.8"/>
<line x1="144.8" y1="926.5" x2="152.8" y2="926.5" stroke="#222" stroke-width="0.8"/>
<line x1="144.8" y1="928.5" x2="152.8" y2="928.5" stroke="#222" stroke-width="0.8"/>
<line x1="142.8" y1="927.5" x2="154.8" y2="927.5" stroke="#222" stroke-width="0.8"/>
<circle cx="148.8" cy="925.6" r="1.6" fill="#111"/>
<circle cx="144.4" cy="927.19" r="1.6" fill="#111"/>
<circle cx="153.2" cy="927.64" r="1.6" fill="#111"/>
<circle cx="146.6" cy="927.87" r="1.6" fill="#111"/>
<circle cx="151" cy="928.09" r="1.6" fill="#111"/>
<circle cx="148.8" cy="928.32" r="1.6" fill="#111"/>
<line x1="69.4" y1="842.5" x2="129.4" y2="842.5" stroke="#222" stroke-width="0.9"/>
<path d="M99.3 835.9L99.3 839.1M100.69 836.7L97.91 838.3M100.69 838.3L97.91 836.7" stroke="#111" stroke-width="1.25" fill="none"/>
<line x1="70.5" y1="852.5" x2="111.4" y2="852.5" stroke="#222" stroke-width="0.9"/>
<path d="M86.8 846.2L86.8 849.4M88.19 847L85.41 848.6M88.19 848.6L85.41 847" stroke="#111" stroke-width="1.25" fill="none"/>
<path d="M90.9 846.2L90.9 849.4M92.29 847L89.51 848.6M92.29 848.6L89.51 847" stroke="#111" stroke-width="1.25" fill="none"/>
<path d="M95 846.2L95 849.4M96.39 847L93.61 848.6M96.39 848.6L93.61 847" stroke="#111" stroke-width="1.25" fill="none"/>
<line x1="88.5" y1="860.5" x2="111.4" y2="860.5" stroke="#999" stroke-width="1.2"/>
<path d="M100.2 854.6L100.2 857.8M101.59 855.4L98.81 857M101.59 857L98.81 855.4" stroke="#111" stroke-width="1.25" fill="none"/>
<line x1="111.4" y1="867.5" x2="152.3" y2="867.5" stroke="#222" stroke-width="0.9"/>
<path d="M127.7 861.4L127.7 864.6M129.09 862.2L126.31 863.8M129.09 863.8L126.31 862.2" stroke="#111" stroke-width="1.25" fill="none"/>
<path d="M131.8 861.4L131.8 864.6M133.19 862.2L130.41 863.8M133.19 863.8L130.41 862.2" stroke="#111" stroke-width="1.25" fill="none"/>
<path d="M135.9 861.4L135.9 864.6M137.29 862.2L134.51 863.8M137.29 863.8L134.51 862.2" stroke="#111" stroke-width="1.25" fill="none"/>
<line x1="130.8" y1="877.5" x2="154.2" y2="877.5" stroke="#222" stroke-width="0.9"/>
<path d="M142.5 871L142.5 874.2M143.89 871.8L141.11 873.4M143.89 873.4L141.11 871.8" stroke="#111" stroke-width="1.25" fill="none"/>
<line x1="211.5" y1="939.9" x2="211.5" y2="872.4" stroke="#aaa" stroke-width="1.2"/>
<line x1="209.6" y1="939.5" x2="211.6" y2="939.5" stroke="#222" stroke-width="0.8"/>
<text x="208.4" y="942.2" font-size="6.4" text-anchor="end" fill="#222">0</text>
<line x1="209.6" y1="923.5" x2="211.6" y2="923.5" stroke="#222" stroke-width="0.8"/>
<text x="208.4" y="925.33" font-size="6.4" text-anchor="end" fill="#222">2</text>
<line x1="209.6" y1="906.5" x2="211.6" y2="906.5" stroke="#222" stroke-width="0.8"/>
<text x="208.4" y="908.45" font-size="6.4" text-anchor="end" fill="#222">4</text>
<line x1="209.6" y1="889.5" x2="211.6" y2="889.5" stroke="#222" stroke-width="0.8"/>
<text x="208.4" y="891.58" font-size="6.4" text-anchor="end" fill="#222">6</text>
<line x1="209.6" y1="872.5" x2="211.6" y2="872.5" stroke="#222" stroke-width="0.8"/>
<text x="208.4" y="874.7" font-size="6.4" text-anchor="end" fill="#222">8</text>
<line x1="225.5" y1="939.9" x2="225.5" y2="941.9" stroke="#222" stroke-width="0.8"/>
<line x1="243.5" y1="939.9" x2="243.5" y2="941.9" stroke="#222" stroke-width="0.8"/>
<line x1="261.5" y1="939.9" x2="261.5" y2="941.9" stroke="#222" stroke-width="0.8"/>
<line x1="280.5" y1="939.9" x2="280.5" y2="941.9" stroke="#222" stroke-width="0.8"/>
<line x1="298.5" y1="939.9" x2="298.5" y2="941.9" stroke="#222" stroke-width="0.8"/>
<line x1="211.6" y1="939.5" x2="314" y2="939.5" stroke="#111" stroke-width="1.1" stroke-dasharray="1.1,1.1"/>
<text x="227.5" y="947.9" font-size="7.0" text-anchor="end" transform="rotate(-45 227.5 947.9)" fill="#222">Vehicle</text>
<text x="245.7" y="947.9" font-size="7.0" text-anchor="end" transform="rotate(-45 245.7 947.9)" fill="#222">15</text>
<text x="263.7" y="947.9" font-size="7.0" text-anchor="end" transform="rotate(-45 263.7 947.9)" fill="#222">30</text>
<text x="282.4" y="947.9" font-size="7.0" text-anchor="end" transform="rotate(-45 282.4 947.9)" fill="#222">45</text>
<text x="301.1" y="947.9" font-size="7.0" text-anchor="end" transform="rotate(-45 301.1 947.9)" fill="#222">60</text>
<line x1="235.3" y1="958.5" x2="309.3" y2="958.5" stroke="#999" stroke-width="0.9"/>
<text x="272" y="966.77" font-size="6.3" text-anchor="middle" fill="#222">Olaparib +&#160; AZD1775 + anti-PD-1</text>
<text x="201.69" y="906.15" font-size="7.3" text-anchor="middle" transform="rotate(-90 201.69 906.15)" fill="#222">% CD4 FOXP3<tspan font-size="4.5" dy="-3">-</tspan><tspan dy="3">&#160; T of live cells</tspan></text>
<line x1="225.5" y1="933.99" x2="225.5" y2="928.93" stroke="#222" stroke-width="0.8"/>
<line x1="221.2" y1="928.5" x2="229.2" y2="928.5" stroke="#222" stroke-width="0.8"/>
<line x1="221.2" y1="933.5" x2="229.2" y2="933.5" stroke="#222" stroke-width="0.8"/>
<line x1="219.2" y1="931.5" x2="231.2" y2="931.5" stroke="#222" stroke-width="0.8"/>
<circle cx="225.2" cy="926.4" r="1.6" fill="#111"/>
<circle cx="220.8" cy="928.93" r="1.6" fill="#111"/>
<circle cx="227.4" cy="930.62" r="1.6" fill="#111"/>
<circle cx="231.4" cy="931.46" r="1.6" fill="#111"/>
<circle cx="223" cy="932.31" r="1.6" fill="#111"/>
<circle cx="219" cy="932.31" r="1.6" fill="#111"/>
<circle cx="227.4" cy="933.15" r="1.6" fill="#111"/>
<circle cx="231.4" cy="933.99" r="1.6" fill="#111"/>
<circle cx="220.8" cy="934.84" r="1.6" fill="#111"/>
<line x1="243.5" y1="933.99" x2="243.5" y2="903.62" stroke="#222" stroke-width="0.8"/>
<line x1="239.4" y1="903.5" x2="247.4" y2="903.5" stroke="#222" stroke-width="0.8"/>
<line x1="239.4" y1="933.5" x2="247.4" y2="933.5" stroke="#222" stroke-width="0.8"/>
<line x1="237.4" y1="918.5" x2="249.4" y2="918.5" stroke="#222" stroke-width="0.8"/>
<circle cx="243.4" cy="880.84" r="1.6" fill="#111"/>
<circle cx="243.4" cy="911.21" r="1.6" fill="#111"/>
<circle cx="237.2" cy="912.06" r="1.6" fill="#111"/>
<circle cx="243.4" cy="918.81" r="1.6" fill="#111"/>
<circle cx="237.2" cy="919.65" r="1.6" fill="#111"/>
<circle cx="241.2" cy="923.02" r="1.6" fill="#111"/>
<circle cx="243.4" cy="927.24" r="1.6" fill="#111"/>
<circle cx="243.4" cy="933.15" r="1.6" fill="#111"/>
<circle cx="237.2" cy="933.99" r="1.6" fill="#111"/>
<line x1="261.5" y1="934.84" x2="261.5" y2="921.34" stroke="#222" stroke-width="0.8"/>
<line x1="257.4" y1="921.5" x2="265.4" y2="921.5" stroke="#222" stroke-width="0.8"/>
<line x1="257.4" y1="934.5" x2="265.4" y2="934.5" stroke="#222" stroke-width="0.8"/>
<line x1="255.4" y1="928.5" x2="267.4" y2="928.5" stroke="#222" stroke-width="0.8"/>
<circle cx="261.4" cy="911.21" r="1.6" fill="#111"/>
<circle cx="261.4" cy="923.02" r="1.6" fill="#111"/>
<circle cx="259.2" cy="927.24" r="1.6" fill="#111"/>
<circle cx="263.6" cy="928.93" r="1.6" fill="#111"/>
<circle cx="255.2" cy="929.77" r="1.6" fill="#111"/>
<circle cx="267.6" cy="931.46" r="1.6" fill="#111"/>
<circle cx="259.2" cy="932.31" r="1.6" fill="#111"/>
<circle cx="263.6" cy="933.15" r="1.6" fill="#111"/>
<circle cx="255.2" cy="933.99" r="1.6" fill="#111"/>
<line x1="280.5" y1="935.68" x2="280.5" y2="926.4" stroke="#222" stroke-width="0.8"/>
<line x1="276.1" y1="926.5" x2="284.1" y2="926.5" stroke="#222" stroke-width="0.8"/>
<line x1="276.1" y1="935.5" x2="284.1" y2="935.5" stroke="#222" stroke-width="0.8"/>
<line x1="274.1" y1="930.5" x2="286.1" y2="930.5" stroke="#222" stroke-width="0.8"/>
<circle cx="280.1" cy="919.65" r="1.6" fill="#111"/>
<circle cx="280.1" cy="928.93" r="1.6" fill="#111"/>
<circle cx="275.7" cy="931.46" r="1.6" fill="#111"/>
<circle cx="284.5" cy="932.31" r="1.6" fill="#111"/>
<circle cx="280.1" cy="933.15" r="1.6" fill="#111"/>
<circle cx="273.9" cy="934.84" r="1.6" fill="#111"/>
<circle cx="286.3" cy="936.52" r="1.6" fill="#111"/>
<line x1="298.5" y1="939.06" x2="298.5" y2="935.68" stroke="#222" stroke-width="0.8"/>
<line x1="294.8" y1="935.5" x2="302.8" y2="935.5" stroke="#222" stroke-width="0.8"/>
<line x1="294.8" y1="939.5" x2="302.8" y2="939.5" stroke="#222" stroke-width="0.8"/>
<line x1="292.8" y1="937.5" x2="304.8" y2="937.5" stroke="#222" stroke-width="0.8"/>
<circle cx="298.8" cy="933.15" r="1.6" fill="#111"/>
<circle cx="294.4" cy="936.52" r="1.6" fill="#111"/>
<circle cx="301" cy="937.37" r="1.6" fill="#111"/>
<circle cx="305" cy="937.37" r="1.6" fill="#111"/>
<circle cx="296.6" cy="938.21" r="1.6" fill="#111"/>
<circle cx="292.6" cy="938.21" r="1.6" fill="#111"/>
<circle cx="303.2" cy="939.06" r="1.6" fill="#111"/>
<line x1="242.3" y1="850.5" x2="301.1" y2="850.5" stroke="#222" stroke-width="0.9"/>
<path d="M267.1 844.1L267.1 847.3M268.49 844.9L265.71 846.5M268.49 846.5L265.71 844.9" stroke="#111" stroke-width="1.25" fill="none"/>
<path d="M271.2 844.1L271.2 847.3M272.59 844.9L269.81 846.5M272.59 846.5L269.81 844.9" stroke="#111" stroke-width="1.25" fill="none"/>
<path d="M275.3 844.1L275.3 847.3M276.69 844.9L273.91 846.5M276.69 846.5L273.91 844.9" stroke="#111" stroke-width="1.25" fill="none"/>
<line x1="243.4" y1="860.5" x2="282" y2="860.5" stroke="#222" stroke-width="0.9"/>
<path d="M262.6 854.4L262.6 857.6M263.99 855.2L261.21 856.8M263.99 856.8L261.21 855.2" stroke="#111" stroke-width="1.25" fill="none"/>
<line x1="222.2" y1="871.5" x2="243.4" y2="871.5" stroke="#222" stroke-width="0.9"/>
<path d="M232.7 865.2L232.7 868.4M234.09 866L231.31 867.6M234.09 867.6L231.31 866" stroke="#111" stroke-width="1.25" fill="none"/>
<line x1="366.5" y1="940.02" x2="366.5" y2="872.1" stroke="#222" stroke-width="0.8"/>
<line x1="364.8" y1="940.5" x2="366.8" y2="940.5" stroke="#222" stroke-width="0.8"/>
<text x="363.6" y="942.32" font-size="6.4" text-anchor="end" fill="#222">-10</text>
<line x1="364.8" y1="928.5" x2="366.8" y2="928.5" stroke="#222" stroke-width="0.8"/>
<text x="363.6" y="931" font-size="6.4" text-anchor="end" fill="#222">0</text>
<line x1="364.8" y1="917.5" x2="366.8" y2="917.5" stroke="#222" stroke-width="0.8"/>
<text x="363.6" y="919.68" font-size="6.4" text-anchor="end" fill="#222">10</text>
<line x1="364.8" y1="906.5" x2="366.8" y2="906.5" stroke="#222" stroke-width="0.8"/>
<text x="363.6" y="908.36" font-size="6.4" text-anchor="end" fill="#222">20</text>
<line x1="364.8" y1="894.5" x2="366.8" y2="894.5" stroke="#222" stroke-width="0.8"/>
<text x="363.6" y="897.04" font-size="6.4" text-anchor="end" fill="#222">30</text>
<line x1="364.8" y1="883.5" x2="366.8" y2="883.5" stroke="#222" stroke-width="0.8"/>
<text x="363.6" y="885.72" font-size="6.4" text-anchor="end" fill="#222">40</text>
<line x1="364.8" y1="872.5" x2="366.8" y2="872.5" stroke="#222" stroke-width="0.8"/>
<text x="363.6" y="874.4" font-size="6.4" text-anchor="end" fill="#222">50</text>
<line x1="366.8" y1="939.5" x2="467.7" y2="939.5" stroke="#222" stroke-width="0.8"/>
<line x1="379.5" y1="939.9" x2="379.5" y2="941.9" stroke="#222" stroke-width="0.8"/>
<line x1="398.5" y1="939.9" x2="398.5" y2="941.9" stroke="#222" stroke-width="0.8"/>
<line x1="417.5" y1="939.9" x2="417.5" y2="941.9" stroke="#222" stroke-width="0.8"/>
<line x1="436.5" y1="939.9" x2="436.5" y2="941.9" stroke="#222" stroke-width="0.8"/>
<line x1="456.5" y1="939.9" x2="456.5" y2="941.9" stroke="#222" stroke-width="0.8"/>
<line x1="366.8" y1="928.5" x2="467.7" y2="928.5" stroke="#111" stroke-width="1.1" stroke-dasharray="1.1,1.1"/>
<text x="381.9" y="947.9" font-size="7.0" text-anchor="end" transform="rotate(-45 381.9 947.9)" fill="#222">Vehicle</text>
<text x="400.5" y="947.9" font-size="7.0" text-anchor="end" transform="rotate(-45 400.5 947.9)" fill="#222">15</text>
<text x="419.9" y="947.9" font-size="7.0" text-anchor="end" transform="rotate(-45 419.9 947.9)" fill="#222">30</text>
<text x="439" y="947.9" font-size="7.0" text-anchor="end" transform="rotate(-45 439 947.9)" fill="#222">45</text>
<text x="458.4" y="947.9" font-size="7.0" text-anchor="end" transform="rotate(-45 458.4 947.9)" fill="#222">60</text>
<line x1="389.6" y1="958.5" x2="464.7" y2="958.5" stroke="#999" stroke-width="0.9"/>
<text x="430.5" y="966.77" font-size="6.3" text-anchor="middle" fill="#222">Olaparib +&#160; AZD1775 + anti-PD-1</text>
<text x="350.39" y="906.06" font-size="7.3" text-anchor="middle" transform="rotate(-90 350.39 906.06)" fill="#222">% IFNγ<tspan font-size="4.5" dy="-3">+</tspan><tspan dy="3">CD4&#160; T cells</tspan></text>
<line x1="379.5" y1="927.79" x2="379.5" y2="924.74" stroke="#222" stroke-width="0.8"/>
<line x1="375.6" y1="924.5" x2="383.6" y2="924.5" stroke="#222" stroke-width="0.8"/>
<line x1="375.6" y1="927.5" x2="383.6" y2="927.5" stroke="#222" stroke-width="0.8"/>
<line x1="373.6" y1="926.5" x2="385.6" y2="926.5" stroke="#222" stroke-width="0.8"/>
<circle cx="379.6" cy="923.04" r="1.6" fill="#111"/>
<circle cx="373.4" cy="924.17" r="1.6" fill="#111"/>
<circle cx="384" cy="925.3" r="1.6" fill="#111"/>
<circle cx="377.4" cy="925.87" r="1.6" fill="#111"/>
<circle cx="381.8" cy="926.44" r="1.6" fill="#111"/>
<circle cx="375.2" cy="926.44" r="1.6" fill="#111"/>
<circle cx="385.8" cy="927" r="1.6" fill="#111"/>
<circle cx="379.6" cy="927.57" r="1.6" fill="#111"/>
<circle cx="373.4" cy="928.13" r="1.6" fill="#111"/>
<line x1="398.5" y1="920.78" x2="398.5" y2="904.93" stroke="#222" stroke-width="0.8"/>
<line x1="394.2" y1="904.5" x2="402.2" y2="904.5" stroke="#222" stroke-width="0.8"/>
<line x1="394.2" y1="920.5" x2="402.2" y2="920.5" stroke="#222" stroke-width="0.8"/>
<line x1="392.2" y1="912.5" x2="404.2" y2="912.5" stroke="#222" stroke-width="0.8"/>
<circle cx="398.2" cy="899.27" r="1.6" fill="#111"/>
<circle cx="393.8" cy="901.53" r="1.6" fill="#111"/>
<circle cx="398.2" cy="907.19" r="1.6" fill="#111"/>
<circle cx="396" cy="911.72" r="1.6" fill="#111"/>
<circle cx="400.4" cy="913.98" r="1.6" fill="#111"/>
<circle cx="396" cy="917.38" r="1.6" fill="#111"/>
<circle cx="402.6" cy="918.51" r="1.6" fill="#111"/>
<circle cx="392" cy="920.78" r="1.6" fill="#111"/>
<circle cx="398.2" cy="921.91" r="1.6" fill="#111"/>
<line x1="417.5" y1="930.96" x2="417.5" y2="902.1" stroke="#222" stroke-width="0.8"/>
<line x1="413.6" y1="902.5" x2="421.6" y2="902.5" stroke="#222" stroke-width="0.8"/>
<line x1="413.6" y1="930.5" x2="421.6" y2="930.5" stroke="#222" stroke-width="0.8"/>
<line x1="411.6" y1="916.5" x2="423.6" y2="916.5" stroke="#222" stroke-width="0.8"/>
<circle cx="417.6" cy="885.68" r="1.6" fill="#111"/>
<circle cx="417.6" cy="893.61" r="1.6" fill="#111"/>
<circle cx="417.6" cy="917.38" r="1.6" fill="#111"/>
<circle cx="411.4" cy="918.51" r="1.6" fill="#111"/>
<circle cx="415.4" cy="921.91" r="1.6" fill="#111"/>
<circle cx="419.8" cy="924.17" r="1.6" fill="#111"/>
<circle cx="413.2" cy="926.44" r="1.6" fill="#111"/>
<circle cx="423.8" cy="927.57" r="1.6" fill="#111"/>
<line x1="436.5" y1="928.7" x2="436.5" y2="925.87" stroke="#222" stroke-width="0.8"/>
<line x1="432.7" y1="925.5" x2="440.7" y2="925.5" stroke="#222" stroke-width="0.8"/>
<line x1="432.7" y1="928.5" x2="440.7" y2="928.5" stroke="#222" stroke-width="0.8"/>
<line x1="430.7" y1="927.5" x2="442.7" y2="927.5" stroke="#222" stroke-width="0.8"/>
<circle cx="436.7" cy="924.17" r="1.6" fill="#111"/>
<circle cx="430.5" cy="925.3" r="1.6" fill="#111"/>
<circle cx="441.1" cy="926.44" r="1.6" fill="#111"/>
<circle cx="434.5" cy="926.44" r="1.6" fill="#111"/>
<circle cx="436.7" cy="927.57" r="1.6" fill="#111"/>
<circle cx="432.3" cy="927.57" r="1.6" fill="#111"/>
<circle cx="442.9" cy="928.13" r="1.6" fill="#111"/>
<circle cx="438.9" cy="928.7" r="1.6" fill="#111"/>
<line x1="456.5" y1="926.44" x2="456.5" y2="921.91" stroke="#222" stroke-width="0.8"/>
<line x1="452.1" y1="921.5" x2="460.1" y2="921.5" stroke="#222" stroke-width="0.8"/>
<line x1="452.1" y1="926.5" x2="460.1" y2="926.5" stroke="#222" stroke-width="0.8"/>
<line x1="450.1" y1="924.5" x2="462.1" y2="924.5" stroke="#222" stroke-width="0.8"/>
<circle cx="456.1" cy="919.64" r="1.6" fill="#111"/>
<circle cx="451.7" cy="921.91" r="1.6" fill="#111"/>
<circle cx="460.5" cy="923.04" r="1.6" fill="#111"/>
<circle cx="456.1" cy="924.17" r="1.6" fill="#111"/>
<circle cx="449.9" cy="925.3" r="1.6" fill="#111"/>
<circle cx="462.3" cy="926.44" r="1.6" fill="#111"/>
<circle cx="453.9" cy="927.57" r="1.6" fill="#111"/>
<line x1="398.2" y1="858.5" x2="456.1" y2="858.5" stroke="#222" stroke-width="0.9"/>
<path d="M427.3 851.9L427.3 855.1M428.69 852.7L425.91 854.3M428.69 854.3L425.91 852.7" stroke="#111" stroke-width="1.25" fill="none"/>
<line x1="398.2" y1="867.5" x2="437.9" y2="867.5" stroke="#999" stroke-width="1.2"/>
<path d="M416.05 861.6L416.05 864.8M417.44 862.4L414.66 864M417.44 864L414.66 862.4" stroke="#111" stroke-width="1.25" fill="none"/>
<path d="M420.15 861.6L420.15 864.8M421.54 862.4L418.76 864M421.54 864L418.76 862.4" stroke="#111" stroke-width="1.25" fill="none"/>
<line x1="377.1" y1="880.5" x2="398.2" y2="880.5" stroke="#222" stroke-width="0.9"/>
<path d="M385.75 874.2L385.75 877.4M387.14 875L384.36 876.6M387.14 876.6L384.36 875" stroke="#111" stroke-width="1.25" fill="none"/>
<path d="M389.85 874.2L389.85 877.4M391.24 875L388.46 876.6M391.24 876.6L388.46 875" stroke="#111" stroke-width="1.25" fill="none"/>
<line x1="418.1" y1="877.5" x2="437.9" y2="877.5" stroke="#999" stroke-width="1.2"/>
<path d="M428 871.5L428 874.7M429.39 872.3L426.61 873.9M429.39 873.9L426.61 872.3" stroke="#111" stroke-width="1.25" fill="none"/>
</svg></body></html>
